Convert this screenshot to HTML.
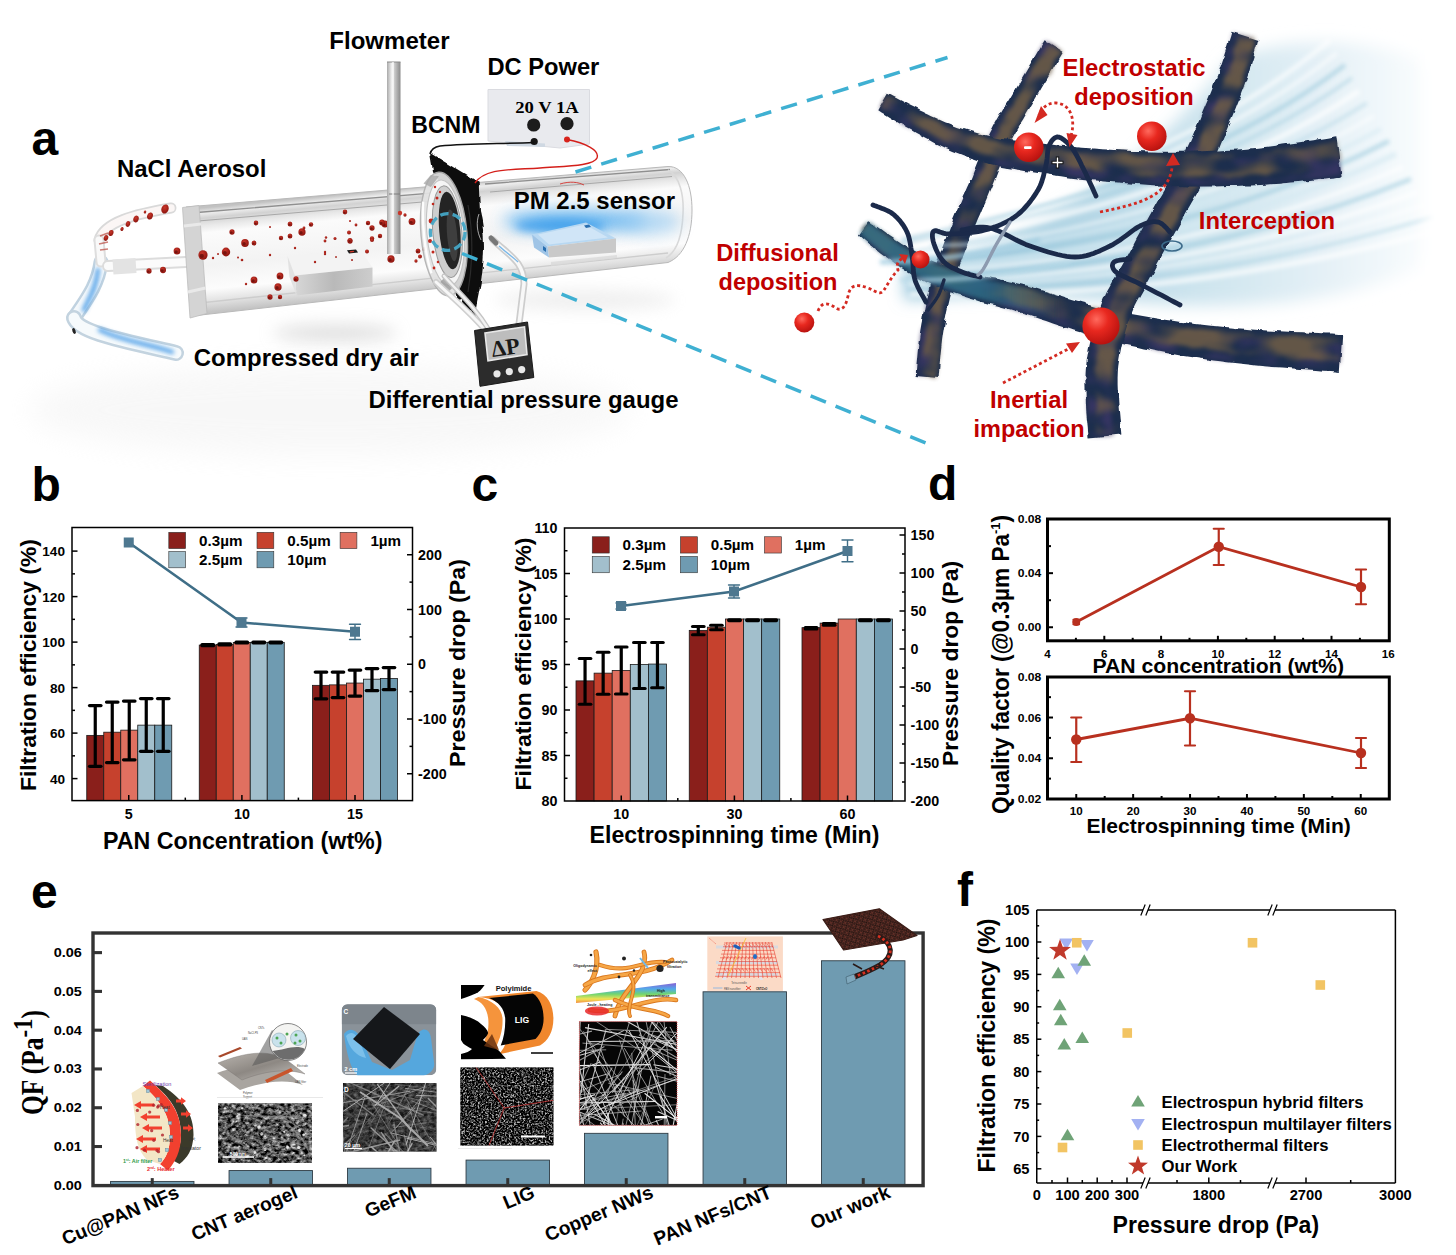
<!DOCTYPE html>
<html><head><meta charset="utf-8"><title>Figure</title>
<style>html,body{margin:0;padding:0;background:#fff}svg{display:block}</style></head>
<body>
<svg width="1456" height="1255" viewBox="0 0 1456 1255" font-family="'Liberation Sans', sans-serif" font-weight="bold">
<rect width="1456" height="1255" fill="#fff"/>
<g id="panel-a">
<defs>
<filter id="bl2" x="-50%" y="-150%" width="200%" height="400%"><feGaussianBlur stdDeviation="2"/></filter>
<filter id="bl4" x="-50%" y="-150%" width="200%" height="400%"><feGaussianBlur stdDeviation="4"/></filter>
<filter id="bl8" x="-50%" y="-150%" width="200%" height="400%"><feGaussianBlur stdDeviation="8"/></filter>
<filter id="bl14" x="-50%" y="-150%" width="200%" height="400%"><feGaussianBlur stdDeviation="14"/></filter>
<filter id="rough" x="-5%" y="-5%" width="110%" height="110%"><feTurbulence type="fractalNoise" baseFrequency="0.09" numOctaves="2" seed="4" result="t"/><feDisplacementMap in="SourceGraphic" in2="t" scale="5" xChannelSelector="R" yChannelSelector="G"/></filter>
<filter id="rough3" x="-5%" y="-5%" width="110%" height="110%" color-interpolation-filters="sRGB"><feTurbulence type="fractalNoise" baseFrequency="0.03 0.05" numOctaves="2" seed="41" result="m"/><feColorMatrix in="m" type="matrix" values="0 0 0 0 0  0 0 0 0 0  0 0 0 0 0  0 3.2 0 0 -1.25" result="a"/><feComposite in="SourceGraphic" in2="a" operator="in"/><feGaussianBlur stdDeviation="2"/></filter>
<filter id="rough2" x="-5%" y="-5%" width="110%" height="110%" color-interpolation-filters="sRGB"><feTurbulence type="fractalNoise" baseFrequency="0.045" numOctaves="2" seed="9" result="t"/><feDisplacementMap in="SourceGraphic" in2="t" scale="9" xChannelSelector="R" yChannelSelector="G" result="d"/><feTurbulence type="fractalNoise" baseFrequency="0.022 0.04" numOctaves="2" seed="23" result="m"/><feColorMatrix in="m" type="matrix" values="0 0 0 0 0  0 0 0 0 0  0 0 0 0 0  3.2 0 0 0 -0.95" result="a"/><feComposite in="d" in2="a" operator="in"/><feGaussianBlur stdDeviation="2.2"/></filter>
<linearGradient id="tubeG" gradientUnits="userSpaceOnUse" x1="430" y1="186" x2="440" y2="290"><stop offset="0" stop-color="#c2c2c2"/><stop offset="0.05" stop-color="#ededed"/><stop offset="0.1" stop-color="#d2d2d2"/><stop offset="0.17" stop-color="#e9e9e9"/><stop offset="0.24" stop-color="#fbfbfb"/><stop offset="0.55" stop-color="#f3f3f3"/><stop offset="0.78" stop-color="#fcfcfc"/><stop offset="0.9" stop-color="#e1e1e1"/><stop offset="1" stop-color="#c4c4c4"/></linearGradient>
<linearGradient id="rodG" x1="0" y1="0" x2="1" y2="0"><stop offset="0" stop-color="#a9a9a9"/><stop offset="0.35" stop-color="#f0f0f0"/><stop offset="0.6" stop-color="#c4c4c4"/><stop offset="1" stop-color="#8a8a8a"/></linearGradient>
<linearGradient id="boxF" x1="0" y1="0" x2="1" y2="0"><stop offset="0" stop-color="#d7d7d7"/><stop offset="0.5" stop-color="#b9b9b9"/><stop offset="1" stop-color="#cdcdcd"/></linearGradient>
<radialGradient id="ball" cx="0.38" cy="0.32" r="0.7"><stop offset="0" stop-color="#ff6a5e"/><stop offset="0.45" stop-color="#e8281f"/><stop offset="1" stop-color="#b8120f"/></radialGradient>
<radialGradient id="pball" cx="0.4" cy="0.35" r="0.7"><stop offset="0" stop-color="#c8362a"/><stop offset="1" stop-color="#8a130d"/></radialGradient>
<linearGradient id="tealG" gradientUnits="userSpaceOnUse" x1="864" y1="0" x2="1060" y2="0"><stop offset="0" stop-color="#2f6f8a"/><stop offset="0.6" stop-color="#2f6f8a"/><stop offset="1" stop-color="#2f6f8a" stop-opacity="0"/></linearGradient>
<linearGradient id="swG" gradientUnits="userSpaceOnUse" x1="900" y1="0" x2="1440" y2="0"><stop offset="0" stop-color="#8fc2da"/><stop offset="0.3" stop-color="#b0d4e4"/><stop offset="0.55" stop-color="#cde4ee"/><stop offset="0.78" stop-color="#e4f0f6"/><stop offset="0.95" stop-color="#f7fbfd"/><stop offset="1" stop-color="#ffffff"/></linearGradient>
</defs>
<ellipse cx="330" cy="410" rx="300" ry="45" fill="#ededed" opacity="0.4" filter="url(#bl14)"/>
<ellipse cx="335" cy="333" rx="62" ry="9" fill="#c4c4c4" opacity="0.5" filter="url(#bl8)"/>
<ellipse cx="585" cy="300" rx="90" ry="10" fill="#dcdcdc" opacity="0.45" filter="url(#bl8)"/>
<g fill="none" stroke-linecap="round">
<path d="M101 262 C98 285 86 300 74 318" stroke="#c0d2e0" stroke-width="15"/>
<path d="M101 262 C98 285 86 300 74 318" stroke="#f4f8fb" stroke-width="10"/>
<path d="M74 318 C78 332 120 340 176 353" stroke="#c3d3df" stroke-width="16"/>
<path d="M74 318 C78 332 120 340 176 353" stroke="#f6fafc" stroke-width="11"/>
<path d="M98 270 C96 290 88 300 84 310 M100 330 C125 342 150 344 172 352" stroke="#3f97e6" stroke-width="4.5" opacity="0.85" filter="url(#bl2)"/>
<path d="M99 240 C104 222 135 214 171 208" stroke="#d9d9d9" stroke-width="11"/>
<path d="M99 240 C104 222 135 214 171 208" stroke="#fbf6f5" stroke-width="7.5"/>
<path d="M101 262 L99 240" stroke="#dedede" stroke-width="11"/><path d="M101 262 L99 240" stroke="#f9f9f9" stroke-width="7"/>
<path d="M108 266 L186 262" stroke="#dcdcdc" stroke-width="12"/><path d="M108 266 L186 262" stroke="#fbfbfb" stroke-width="8"/>
<path d="M113 267 L136 265.5" stroke="#e3e3e3" stroke-width="15" stroke-linecap="butt"/>
</g>
<ellipse cx="74" cy="331" rx="1.6" ry="3" fill="#222" transform="rotate(-20 74 331)"/>
<path d="M186 207 L668 166.5 C684 166 692 186 692 210 C692 236 684 256 668 262.5 L192 316Z" fill="url(#tubeG)"/>
<path d="M186 207 L668 166.5 C684 166 692 186 692 210 C692 236 684 256 668 262.5 L192 316" fill="none" stroke="#b9b9b9" stroke-width="1"/>
<path d="M197 212.5 L440 192.3 M485 184 L670 169.5" stroke="#8f8f8f" stroke-width="1.3" fill="none"/><path d="M198 221 L440 200.5 M490 192 L672 176.5" stroke="#a8a8a8" stroke-width="1" fill="none"/>
<path d="M200 303 L668 253" stroke="#cdcdcd" stroke-width="1.4" fill="none"/>
<path d="M668 170 C680 176 684 196 683 214 C682 238 676 252 666 258" stroke="#d9d9d9" stroke-width="1.6" fill="none"/>
<path d="M182.5 207.5 L199 205.5 L207 313.5 L190 318Z" fill="#d4d4d4"/>
<path d="M182.5 207.5 L199 205.5 L207 313.5 L190 318Z" fill="none" stroke="#bdbdbd" stroke-width="0.8"/>
<path d="M184 226 L201 224 M188 292 L205.5 288" stroke="#e9e9e9" stroke-width="3"/>
<path d="M287.5 256 L360 249.5 L372.5 267.5 L295 275.5Z" fill="#f3f3f3"/>
<path d="M295 275.5 L372.5 267.5 L372.5 286.5 L296.5 295.5Z" fill="url(#boxF)"/>
<path d="M287.5 256 L295 275.5 L296.5 295.5 L289.5 277Z" fill="#e2e2e2"/>
<path d="M347 250.2 l9 -0.8 2 3.2 -9 0.9z" fill="#1b1b1b"/><path d="M349.5 251.2 l4 -0.4 0.8 1.3 -4 0.4z" fill="#d23a2a"/>
<ellipse cx="256" cy="223" rx="2.3" ry="2.42" fill="url(#pball)"/>
<circle cx="255.4" cy="223.5" r="1.0" fill="#5e0c08" opacity="0.7"/>
<ellipse cx="232" cy="232" rx="2.6" ry="2.73" fill="url(#pball)"/>
<circle cx="231.3" cy="232.5" r="1.2" fill="#5e0c08" opacity="0.7"/>
<ellipse cx="290" cy="224" rx="2.4" ry="2.52" fill="url(#pball)"/>
<circle cx="289.4" cy="224.5" r="1.1" fill="#5e0c08" opacity="0.7"/>
<ellipse cx="302" cy="232" rx="3.6" ry="3.78" fill="url(#pball)"/>
<circle cx="301.1" cy="232.7" r="1.6" fill="#5e0c08" opacity="0.7"/>
<ellipse cx="281" cy="238" rx="2.2" ry="2.31" fill="url(#pball)"/>
<circle cx="280.4" cy="238.4" r="1.0" fill="#5e0c08" opacity="0.7"/>
<ellipse cx="290" cy="236" rx="2.4" ry="2.52" fill="url(#pball)"/>
<circle cx="289.4" cy="236.5" r="1.1" fill="#5e0c08" opacity="0.7"/>
<ellipse cx="245" cy="243" rx="3.8" ry="3.99" fill="url(#pball)"/>
<circle cx="244.1" cy="243.8" r="1.7" fill="#5e0c08" opacity="0.7"/>
<ellipse cx="254" cy="243" rx="2.4" ry="2.52" fill="url(#pball)"/>
<circle cx="253.4" cy="243.5" r="1.1" fill="#5e0c08" opacity="0.7"/>
<ellipse cx="226" cy="252" rx="4.2" ry="4.41" fill="url(#pball)"/>
<circle cx="224.9" cy="252.8" r="1.9" fill="#5e0c08" opacity="0.7"/>
<ellipse cx="203" cy="255" rx="4.6" ry="4.83" fill="url(#pball)"/>
<circle cx="201.8" cy="255.9" r="2.1" fill="#5e0c08" opacity="0.7"/>
<ellipse cx="280" cy="276" rx="3.4" ry="3.57" fill="url(#pball)"/>
<circle cx="279.1" cy="276.7" r="1.5" fill="#5e0c08" opacity="0.7"/>
<ellipse cx="254" cy="280" rx="3.4" ry="3.57" fill="url(#pball)"/>
<circle cx="253.2" cy="280.7" r="1.5" fill="#5e0c08" opacity="0.7"/>
<ellipse cx="278" cy="287" rx="3.6" ry="3.78" fill="url(#pball)"/>
<circle cx="277.1" cy="287.7" r="1.6" fill="#5e0c08" opacity="0.7"/>
<ellipse cx="296" cy="279" rx="2.6" ry="2.73" fill="url(#pball)"/>
<circle cx="295.4" cy="279.5" r="1.2" fill="#5e0c08" opacity="0.7"/>
<ellipse cx="350" cy="241" rx="2.6" ry="2.73" fill="url(#pball)"/>
<circle cx="349.4" cy="241.5" r="1.2" fill="#5e0c08" opacity="0.7"/>
<ellipse cx="372" cy="238.5" rx="2.2" ry="2.31" fill="url(#pball)"/>
<circle cx="371.4" cy="238.9" r="1.0" fill="#5e0c08" opacity="0.7"/>
<ellipse cx="368" cy="223" rx="2.2" ry="2.31" fill="url(#pball)"/>
<circle cx="367.4" cy="223.4" r="1.0" fill="#5e0c08" opacity="0.7"/>
<ellipse cx="385" cy="224" rx="3.4" ry="3.57" fill="url(#pball)"/>
<circle cx="384.1" cy="224.7" r="1.5" fill="#5e0c08" opacity="0.7"/>
<ellipse cx="380" cy="236" rx="2.2" ry="2.31" fill="url(#pball)"/>
<circle cx="379.4" cy="236.4" r="1.0" fill="#5e0c08" opacity="0.7"/>
<ellipse cx="345" cy="212" rx="2.3" ry="2.42" fill="url(#pball)"/>
<circle cx="344.4" cy="212.5" r="1.0" fill="#5e0c08" opacity="0.7"/>
<ellipse cx="356" cy="225" rx="1.4" ry="1.47" fill="url(#pball)"/>
<ellipse cx="326" cy="237.5" rx="1.2" ry="1.26" fill="url(#pball)"/>
<ellipse cx="242" cy="260" rx="1.3" ry="1.37" fill="url(#pball)"/>
<ellipse cx="270" cy="255" rx="1.2" ry="1.26" fill="url(#pball)"/>
<ellipse cx="295" cy="248" rx="1.2" ry="1.26" fill="url(#pball)"/>
<ellipse cx="315" cy="262" rx="1.2" ry="1.26" fill="url(#pball)"/>
<ellipse cx="325" cy="254" rx="1.2" ry="1.26" fill="url(#pball)"/>
<ellipse cx="335" cy="238.5" rx="1.5" ry="1.58" fill="url(#pball)"/>
<ellipse cx="350" cy="221" rx="1" ry="1.05" fill="url(#pball)"/>
<ellipse cx="270" cy="227" rx="1" ry="1.05" fill="url(#pball)"/>
<ellipse cx="238" cy="257.5" rx="1" ry="1.05" fill="url(#pball)"/>
<ellipse cx="246" cy="284" rx="1.2" ry="1.26" fill="url(#pball)"/>
<ellipse cx="177" cy="251" rx="3.4" ry="3.57" fill="url(#pball)"/>
<circle cx="176.2" cy="251.7" r="1.5" fill="#5e0c08" opacity="0.7"/>
<ellipse cx="163" cy="270" rx="3" ry="3.15" fill="url(#pball)"/>
<circle cx="162.2" cy="270.6" r="1.4" fill="#5e0c08" opacity="0.7"/>
<ellipse cx="149" cy="271" rx="2.6" ry="2.73" fill="url(#pball)"/>
<circle cx="148.3" cy="271.5" r="1.2" fill="#5e0c08" opacity="0.7"/>
<ellipse cx="270" cy="297" rx="2.6" ry="2.73" fill="url(#pball)"/>
<circle cx="269.4" cy="297.5" r="1.2" fill="#5e0c08" opacity="0.7"/>
<ellipse cx="280" cy="297" rx="2.2" ry="2.31" fill="url(#pball)"/>
<circle cx="279.4" cy="297.4" r="1.0" fill="#5e0c08" opacity="0.7"/>
<ellipse cx="213" cy="258" rx="1.2" ry="1.26" fill="url(#pball)"/>
<ellipse cx="218" cy="254" rx="1" ry="1.05" fill="url(#pball)"/>
<ellipse cx="311" cy="224.5" rx="2.2" ry="2.31" fill="url(#pball)"/>
<circle cx="310.4" cy="224.9" r="1.0" fill="#5e0c08" opacity="0.7"/>
<ellipse cx="304" cy="228" rx="1.4" ry="1.47" fill="url(#pball)"/>
<ellipse cx="349" cy="232.5" rx="2" ry="2.10" fill="url(#pball)"/>
<ellipse cx="372" cy="228" rx="2.6" ry="2.73" fill="url(#pball)"/>
<circle cx="371.4" cy="228.5" r="1.2" fill="#5e0c08" opacity="0.7"/>
<ellipse cx="382" cy="222.5" rx="2.8" ry="2.94" fill="url(#pball)"/>
<circle cx="381.3" cy="223.1" r="1.3" fill="#5e0c08" opacity="0.7"/>
<ellipse cx="412" cy="221.5" rx="3.4" ry="3.57" fill="url(#pball)"/>
<circle cx="411.1" cy="222.2" r="1.5" fill="#5e0c08" opacity="0.7"/>
<ellipse cx="405" cy="215" rx="1.6" ry="1.68" fill="url(#pball)"/>
<ellipse cx="372" cy="240" rx="2" ry="2.10" fill="url(#pball)"/>
<ellipse cx="350" cy="240.5" rx="2.4" ry="2.52" fill="url(#pball)"/>
<circle cx="349.4" cy="241.0" r="1.1" fill="#5e0c08" opacity="0.7"/>
<ellipse cx="367" cy="251.5" rx="2" ry="2.10" fill="url(#pball)"/>
<ellipse cx="325" cy="241" rx="1.4" ry="1.47" fill="url(#pball)"/>
<ellipse cx="325" cy="252" rx="1.2" ry="1.26" fill="url(#pball)"/>
<ellipse cx="336" cy="257" rx="0.9" ry="0.95" fill="url(#pball)"/>
<ellipse cx="352" cy="260" rx="1" ry="1.05" fill="url(#pball)"/>
<ellipse cx="391" cy="259" rx="3.6" ry="3.78" fill="url(#pball)"/>
<circle cx="390.1" cy="259.7" r="1.6" fill="#5e0c08" opacity="0.7"/>
<ellipse cx="418" cy="251" rx="2.4" ry="2.52" fill="url(#pball)"/>
<circle cx="417.4" cy="251.5" r="1.1" fill="#5e0c08" opacity="0.7"/>
<ellipse cx="420" cy="256.5" rx="2" ry="2.10" fill="url(#pball)"/>
<ellipse cx="416" cy="261" rx="1.6" ry="1.68" fill="url(#pball)"/>
<ellipse cx="428" cy="222" rx="2.6" ry="2.73" fill="url(#pball)"/>
<circle cx="427.4" cy="222.5" r="1.2" fill="#5e0c08" opacity="0.7"/>
<ellipse cx="431" cy="241" rx="2.4" ry="2.52" fill="url(#pball)"/>
<circle cx="430.4" cy="241.5" r="1.1" fill="#5e0c08" opacity="0.7"/>
<ellipse cx="424" cy="249" rx="1.8" ry="1.89" fill="url(#pball)"/>
<ellipse cx="392" cy="216" rx="2.2" ry="2.31" fill="url(#pball)"/>
<circle cx="391.4" cy="216.4" r="1.0" fill="#5e0c08" opacity="0.7"/>
<ellipse cx="399" cy="214" rx="2" ry="2.10" fill="url(#pball)"/>
<ellipse cx="165" cy="209" rx="3.6" ry="4.7" fill="url(#pball)" transform="rotate(20 165 209)"/>
<ellipse cx="150" cy="216" rx="2.8" ry="3.6" fill="url(#pball)" transform="rotate(20 150 216)"/>
<ellipse cx="136" cy="219" rx="2.6" ry="3.4" fill="url(#pball)" transform="rotate(20 136 219)"/>
<ellipse cx="128" cy="224" rx="2.2" ry="2.9" fill="url(#pball)" transform="rotate(20 128 224)"/>
<ellipse cx="122" cy="229" rx="1.6" ry="2.1" fill="url(#pball)" transform="rotate(20 122 229)"/>
<ellipse cx="111" cy="233" rx="2.4" ry="3.1" fill="url(#pball)" transform="rotate(20 111 233)"/>
<ellipse cx="106" cy="238" rx="2.2" ry="2.9" fill="url(#pball)" transform="rotate(20 106 238)"/>
<ellipse cx="145" cy="212" rx="1.2" ry="1.6" fill="url(#pball)" transform="rotate(20 145 212)"/>
<path d="M100 236 l8 -3 M99 244 l9 -2 M100 250 l8 -1" stroke="#b84a40" stroke-width="1.6" opacity="0.7"/>
<rect x="387.00" y="62.00" width="13.50" height="192.00" fill="url(#rodG)"/>
<path d="M387 62h13.5" stroke="#8a8a8a" stroke-width="1"/><path d="M389 194h11" stroke="#7d7d7d" stroke-width="1"/>
<path d="M393 62V254" stroke="#fff" stroke-width="1.6" opacity="0.8"/>
<circle cx="400" cy="213" r="2.2" fill="#c8362a"/>
<path d="M430 153 L478.7 182.7 L480 212 C486 235 485 265 478.5 294 L474 318 L470 309 L466 311 L462 300 L458 301 L455 292 L452 250 L447 196 L433 171Z" fill="#0b0b0b" filter="url(#rough)"/>
<path d="M468 205 C473 232 473 262 468 292" stroke="#2b2b2b" stroke-width="1.2" fill="none"/>
<path d="M479 214 C476 222 477 232 481 240" stroke="#e9e9e9" stroke-width="1" fill="none" opacity="0.7"/>
<g transform="rotate(-5 444 234)">
<ellipse cx="444" cy="234" rx="23" ry="62" fill="#e3e3e3" stroke="#b1b1b1" stroke-width="1.4" opacity="0.93"/>
<ellipse cx="445.5" cy="233" rx="18.5" ry="53" fill="#f7f7f7" stroke="#c2c2c2" stroke-width="1.1" opacity="0.95"/>
<ellipse cx="447.5" cy="232" rx="14.5" ry="46" fill="#cfcfcf" stroke="#9a9a9a" stroke-width="1"/>
<ellipse cx="450" cy="231" rx="10.5" ry="39" fill="#242424"/>
<ellipse cx="452" cy="236" rx="5" ry="26" fill="#4a4a4a" opacity="0.7"/>
<path d="M426 200 C423 220 423 250 428 272" stroke="#fff" stroke-width="2.4" fill="none" opacity="0.9"/>
<path d="M432 285 l10 8 6 -5 -8 -10z" fill="#9a9a9a" opacity="0.8"/><path d="M428 182 l8 -8 8 2 -9 10z" fill="#a8a8a8" opacity="0.8"/>
</g>
<circle cx="431" cy="221" r="2.4" fill="#c0281e"/>
<circle cx="430" cy="241" r="2" fill="#c0281e"/>
<circle cx="433" cy="252" r="1.5" fill="#c0281e"/>
<circle cx="435" cy="187" r="1.2" fill="#c0281e"/>
<circle cx="437" cy="198" r="1.5" fill="#c0281e"/>
<circle cx="433" cy="204" r="1.3" fill="#c0281e"/>
<circle cx="438" cy="262" r="1.3" fill="#c0281e"/>
<circle cx="434" cy="268" r="1.4" fill="#c0281e"/>
<circle cx="440" cy="192" r="1.2" fill="#c0281e"/>
<ellipse cx="447.7" cy="232" rx="17.4" ry="18.4" fill="none" stroke="#45a6c6" stroke-width="3.3" stroke-dasharray="8.5 4.2" opacity="0.95"/>
<g fill="none" stroke-linecap="round"><path d="M436 282 C455 300 470 312 486 331" stroke="#cfcfcf" stroke-width="6"/><path d="M436 282 C455 300 470 312 486 331" stroke="#f7f7f7" stroke-width="3"/>
<path d="M444 276 C462 296 474 306 489 330" stroke="#c4c4c4" stroke-width="5"/><path d="M444 276 C462 296 474 306 489 330" stroke="#f2f2f2" stroke-width="2.4"/>
<path d="M493 240 C510 256 524 262 524 284 L519 324" stroke="#cdcdcd" stroke-width="7"/><path d="M493 240 C510 256 524 262 524 284 L519 324" stroke="#f8f8f8" stroke-width="3.6"/></g>
<path d="M491 238 l5 5" stroke="#777" stroke-width="5" stroke-linecap="round"/><path d="M499 246 C508 254 514 258 518 262" stroke="#5aa8e4" stroke-width="1.4" fill="none" opacity="0.8"/>
<ellipse cx="575" cy="221" rx="72" ry="11" fill="#55aef0" opacity="0.85" filter="url(#bl8)"/>
<ellipse cx="560" cy="226" rx="45" ry="7" fill="#2f96ea" opacity="0.7" filter="url(#bl4)"/>
<ellipse cx="650" cy="222" rx="30" ry="12" fill="#8cc8f4" opacity="0.6" filter="url(#bl8)"/>
<path d="M532 234.5 L586 222.5 L616 238.5 L547.5 246.5Z" fill="#b8d8f2"/>
<path d="M538 234.5 L585 224.5 L608 237.5 L549 244.5Z" fill="#d6e9f8" opacity="0.8"/>
<path d="M547.5 246.5 L616 238.5 L616 252.5 L549 257.5Z" fill="#c9c9c9"/>
<path d="M532 234.5 L547.5 246.5 L549 257.5 L534 247.5Z" fill="#9fc4e6"/>
<path d="M584 225.5 l5 -1 2 2.4 -5 1z M543 246 l3 2 0 4 -3 -2z" fill="#2a6fb0"/>
<path d="M551 262 L617 255 L617 258 L551 266Z" fill="#d9d9d9" opacity="0.8"/>
<path d="M488 89.5 L589.5 89.5 L589.5 144 L560 148 L488 141Z" fill="#e9eaee"/>
<path d="M488 89.5 L589.5 89.5 L589.5 144 L560 148 L488 141Z" fill="none" stroke="#dadbe0" stroke-width="1"/>
<path d="M505 141 L545 143.5 L545 147 L507 146Z" fill="#cfd8e2"/>
<text x="547.00" y="113.00" font-size="16.5" text-anchor="middle" textLength="63.5" lengthAdjust="spacingAndGlyphs" font-family="'Liberation Serif', serif">20 V 1A</text>
<circle cx="533.7" cy="125" r="6.6" fill="#1c1c1c"/><circle cx="567" cy="123.7" r="6.6" fill="#1c1c1c"/>
<circle cx="534.2" cy="141.5" r="3.6" fill="#161616"/><circle cx="567" cy="139.5" r="3" fill="#d8241c"/>
<path d="M534 142.5 C500 144 470 143 440 146 C433 147 431 150 430 154" fill="none" stroke="#111" stroke-width="1.6"/>
<path d="M567 139.5 C585 143 600 150 597 158 C594 166 565 166 540 168 C510 170 485 168 475 183" fill="none" stroke="#d41f1a" stroke-width="1.4"/>
<path d="M560 184 C570 181 578 182 584 185" fill="none" stroke="#d41f1a" stroke-width="0.8"/>
<path d="M474.5 330.5 L527.5 322 L533.8 377.5 L480 386.3Z" fill="#2c2c2c" stroke="#1a1a1a" stroke-width="1" stroke-linejoin="round"/>
<path d="M485 333 L524.5 326.8 L527 354.5 L488 360.8Z" fill="#bdbdbd" stroke="#e8e8e8" stroke-width="1.6"/>
<text transform="translate(506.5 355) rotate(-8)" font-family="'Liberation Serif', serif" font-size="23" text-anchor="middle" fill="#1a1a1a">ΔP</text>
<circle cx="497" cy="373.8" r="3.6" fill="#e9e9e9"/><circle cx="509.3" cy="371.6" r="3.6" fill="#e9e9e9"/><circle cx="521.7" cy="369.6" r="3.6" fill="#e9e9e9"/>
<path d="M575.5 172 L947.5 57.5" stroke="#3fb0d2" stroke-width="3.5" stroke-dasharray="16.5 10.4" fill="none"/>
<path d="M462 253.5 L926 443" stroke="#3fb0d2" stroke-width="3.5" stroke-dasharray="16.5 10.4" fill="none"/>
<text x="31.50" y="155.00" font-size="48">a</text>
<text x="117.00" y="177.30" font-size="24" textLength="149.3" lengthAdjust="spacingAndGlyphs">NaCl Aerosol</text>
<text x="329.30" y="48.80" font-size="24" textLength="120.2" lengthAdjust="spacingAndGlyphs">Flowmeter</text>
<text x="487.50" y="74.50" font-size="24" textLength="111.8" lengthAdjust="spacingAndGlyphs">DC Power</text>
<text x="411.30" y="133.00" font-size="24" textLength="69.2" lengthAdjust="spacingAndGlyphs">BCNM</text>
<text x="513.70" y="208.80" font-size="24" textLength="161.3" lengthAdjust="spacingAndGlyphs">PM 2.5 sensor</text>
<text x="193.80" y="365.80" font-size="24" textLength="225.0" lengthAdjust="spacingAndGlyphs">Compressed dry air</text>
<text x="368.50" y="408.30" font-size="24" textLength="310.0" lengthAdjust="spacingAndGlyphs">Differential pressure gauge</text>
<g id="fibers">
<path d="M905 268 C1000 250 1120 200 1230 60 C1300 30 1400 40 1446 75 L1446 250 C1380 300 1250 315 1120 300 C1040 292 960 292 905 300Z" fill="url(#swG)" opacity="1" filter="url(#bl8)"/>
<g fill="none" filter="url(#bl2)">
<path d="M900 232 C1050 190 1200 150 1330 40" stroke="#ffffff" stroke-width="4.4" opacity="0.7"/>
<path d="M901 236 C1054 197 1206 158 1337 53" stroke="#ffffff" stroke-width="3.5" opacity="0.7"/>
<path d="M901 240 C1058 205 1212 166 1345 65" stroke="#9ccadd" stroke-width="3.9" opacity="0.7"/>
<path d="M902 244 C1062 212 1218 174 1352 78" stroke="#9ccadd" stroke-width="2.3" opacity="0.7"/>
<path d="M903 249 C1066 219 1224 182 1359 91" stroke="#ffffff" stroke-width="5.6" opacity="0.7"/>
<path d="M903 253 C1070 227 1230 190 1367 103" stroke="#b5d7e6" stroke-width="3.0" opacity="0.7"/>
<path d="M904 257 C1074 234 1236 198 1374 116" stroke="#ffffff" stroke-width="2.8" opacity="0.7"/>
<path d="M905 261 C1078 241 1242 206 1381 129" stroke="#d6eaf2" stroke-width="3.9" opacity="0.7"/>
<path d="M905 265 C1082 249 1248 214 1389 141" stroke="#9ccadd" stroke-width="3.9" opacity="0.7"/>
<path d="M906 269 C1086 256 1254 222 1396 154" stroke="#d6eaf2" stroke-width="5.4" opacity="0.7"/>
<path d="M907 273 C1090 263 1260 230 1403 167" stroke="#ffffff" stroke-width="4.5" opacity="0.7"/>
<path d="M907 277 C1094 271 1266 238 1411 179" stroke="#9ccadd" stroke-width="3.6" opacity="0.7"/>
<path d="M908 282 C1098 278 1272 246 1418 192" stroke="#ffffff" stroke-width="4.7" opacity="0.7"/>
<path d="M909 286 C1102 285 1278 254 1425 205" stroke="#ffffff" stroke-width="2.6" opacity="0.7"/>
<path d="M909 290 C1106 293 1284 262 1433 217" stroke="#9ccadd" stroke-width="2.2" opacity="0.7"/>
<path d="M910 294 C1110 300 1290 270 1440 230" stroke="#ffffff" stroke-width="5.3" opacity="0.7"/>
</g>
<rect x="1425" y="0" width="60" height="360" fill="#fff" filter="url(#bl8)"/>
<g filter="url(#rough)"><path d="M1044.6 40.3 L1043.1 42.8 L1041.2 45.8 L1039.0 49.5 L1036.6 53.6 L1033.9 58.0 L1031.0 62.7 L1028.1 67.5 L1025.2 72.4 L1022.3 77.2 L1019.5 81.9 L1016.9 86.3 L1014.5 90.4 L1012.3 94.1 L1010.1 97.7 L1008.0 101.2 L1005.9 104.6 L1003.9 108.0 L1001.9 111.4 L999.9 114.8 L997.9 118.2 L995.9 121.8 L993.9 125.4 L992.0 129.2 L990.0 133.1 L988.0 137.2 L986.1 141.4 L984.2 145.7 L982.3 150.1 L980.5 154.5 L978.7 158.9 L976.9 163.3 L975.2 167.6 L973.5 171.8 L971.9 175.9 L970.2 179.9 L968.7 183.7 L967.1 187.2 L965.7 190.6 L964.2 193.9 L962.8 197.1 L961.4 200.3 L960.1 203.4 L958.7 206.5 L957.3 209.7 L955.9 213.0 L954.5 216.5 L953.0 220.1 L951.5 223.9 L950.0 227.8 L948.3 231.9 L946.7 236.1 L945.0 240.4 L943.3 244.9 L941.5 249.4 L939.8 254.0 L938.1 258.6 L936.5 263.2 L935.0 267.7 L933.5 272.3 L932.1 276.8 L930.8 281.2 L929.6 285.6 L928.5 289.9 L927.4 294.3 L926.4 298.6 L925.5 302.9 L924.6 307.2 L923.7 311.4 L922.9 315.7 L922.2 319.9 L921.4 324.0 L920.7 328.2 L920.0 332.5 L919.4 337.1 L918.8 341.7 L918.3 346.4 L917.8 351.0 L917.4 355.6 L917.0 359.9 L916.6 363.9 L916.3 367.6 L916.0 370.9 L915.8 373.7 L915.6 375.9 L938.4 378.1 L938.7 375.8 L938.9 372.9 L939.2 369.6 L939.5 365.9 L939.9 361.9 L940.2 357.7 L940.6 353.3 L941.1 348.8 L941.6 344.4 L942.1 340.0 L942.7 335.8 L943.3 331.8 L943.9 327.9 L944.6 323.9 L945.4 319.8 L946.1 315.8 L946.9 311.8 L947.8 307.7 L948.7 303.6 L949.6 299.6 L950.6 295.5 L951.6 291.4 L952.7 287.3 L953.9 283.2 L955.1 279.1 L956.5 274.9 L958.0 270.6 L959.5 266.2 L961.1 261.8 L962.7 257.4 L964.4 253.0 L966.1 248.6 L967.7 244.3 L969.4 240.1 L971.0 236.1 L972.5 232.1 L973.9 228.5 L975.3 225.0 L976.7 221.7 L978.0 218.6 L979.4 215.5 L980.7 212.4 L982.0 209.3 L983.4 206.1 L984.8 202.9 L986.3 199.6 L987.8 196.1 L989.3 192.3 L991.0 188.4 L992.6 184.4 L994.3 180.2 L996.0 175.9 L997.7 171.6 L999.4 167.3 L1001.2 163.0 L1002.9 158.8 L1004.7 154.6 L1006.5 150.5 L1008.2 146.6 L1010.0 142.9 L1011.8 139.3 L1013.6 135.8 L1015.4 132.5 L1017.2 129.2 L1019.1 125.9 L1021.0 122.6 L1023.0 119.4 L1025.0 116.0 L1027.0 112.6 L1029.1 109.1 L1031.3 105.4 L1033.5 101.6 L1035.9 97.6 L1038.5 93.2 L1041.3 88.6 L1044.1 83.8 L1047.1 78.9 L1050.0 74.1 L1052.8 69.4 L1055.4 65.0 L1057.9 60.9 L1060.1 57.2 L1062.0 54.1 L1063.4 51.7Z" fill="#1d2f4d"/></g>
<g filter="url(#rough3)" opacity="0.8"><path d="M1045.5 40.9 L1044.0 43.3 L1042.2 46.4 L1040.0 50.0 L1037.5 54.1 L1034.8 58.6 L1032.0 63.2 L1029.1 68.1 L1026.1 73.0 L1023.2 77.8 L1020.4 82.5 L1017.8 86.9 L1015.4 90.9 L1013.2 94.7 L1011.1 98.2 L1009.0 101.7 L1006.9 105.1 L1004.8 108.5 L1002.8 111.9 L1000.8 115.3 L998.8 118.8 L996.9 122.3 L994.9 125.9 L992.9 129.7 L991.0 133.6 L989.0 137.7 L987.1 141.9 L985.2 146.2 L983.4 150.6 L981.5 155.0 L979.7 159.4 L978.0 163.7 L976.2 168.0 L974.5 172.3 L972.9 176.4 L971.3 180.3 L969.7 184.1 L968.2 187.7 L966.7 191.1 L965.3 194.4 L963.8 197.6 L962.5 200.7 L961.1 203.8 L959.7 207.0 L958.3 210.2 L956.9 213.5 L955.5 216.9 L954.1 220.5 L952.6 224.3 L951.0 228.2 L949.4 232.3 L947.7 236.5 L946.0 240.8 L944.3 245.3 L942.6 249.8 L940.9 254.3 L939.2 258.9 L937.6 263.5 L936.0 268.1 L934.6 272.6 L933.2 277.1 L931.9 281.5 L930.7 285.9 L929.6 290.2 L928.6 294.6 L927.5 298.9 L926.6 303.2 L925.7 307.4 L924.9 311.7 L924.0 315.9 L923.3 320.1 L922.5 324.2 L921.8 328.4 L921.2 332.7 L920.5 337.2 L920.0 341.9 L919.5 346.5 L919.0 351.2 L918.5 355.7 L918.1 360.0 L917.8 364.0 L917.5 367.7 L917.2 371.0 L916.9 373.8 L916.7 376.0 L932.7 377.6 L932.9 375.3 L933.2 372.4 L933.5 369.1 L933.8 365.4 L934.1 361.4 L934.5 357.2 L934.9 352.7 L935.4 348.2 L935.9 343.7 L936.4 339.3 L937.0 335.0 L937.6 330.9 L938.3 326.9 L939.0 322.9 L939.7 318.8 L940.5 314.7 L941.3 310.6 L942.2 306.5 L943.1 302.4 L944.1 298.2 L945.1 294.1 L946.1 289.9 L947.3 285.8 L948.4 281.6 L949.7 277.4 L951.1 273.1 L952.6 268.7 L954.2 264.3 L955.8 259.8 L957.4 255.4 L959.1 250.9 L960.8 246.6 L962.5 242.3 L964.1 238.1 L965.7 234.0 L967.2 230.1 L968.7 226.4 L970.1 222.9 L971.5 219.6 L972.8 216.4 L974.2 213.2 L975.5 210.1 L976.9 207.0 L978.3 203.9 L979.7 200.7 L981.1 197.3 L982.6 193.9 L984.2 190.2 L985.8 186.3 L987.4 182.3 L989.1 178.1 L990.8 173.9 L992.5 169.6 L994.2 165.2 L996.0 160.9 L997.8 156.6 L999.6 152.4 L1001.4 148.3 L1003.2 144.3 L1005.0 140.4 L1006.8 136.8 L1008.7 133.2 L1010.5 129.8 L1012.4 126.4 L1014.3 123.1 L1016.2 119.8 L1018.2 116.5 L1020.2 113.2 L1022.3 109.7 L1024.4 106.2 L1026.5 102.6 L1028.8 98.8 L1031.1 94.8 L1033.8 90.4 L1036.5 85.7 L1039.4 80.9 L1042.3 76.0 L1045.2 71.2 L1048.0 66.5 L1050.7 62.1 L1053.2 58.0 L1055.4 54.4 L1057.2 51.3 L1058.7 48.8Z" fill="#3d3768"/></g>
<g filter="url(#rough2)" opacity="0.9"><path d="M1049.9 43.5 L1048.4 45.9 L1046.5 49.0 L1044.3 52.7 L1041.8 56.8 L1039.2 61.2 L1036.3 65.9 L1033.4 70.7 L1030.5 75.6 L1027.6 80.4 L1024.8 85.1 L1022.2 89.5 L1019.8 93.5 L1017.6 97.3 L1015.4 100.9 L1013.3 104.4 L1011.3 107.8 L1009.2 111.2 L1007.2 114.5 L1005.3 117.9 L1003.3 121.3 L1001.4 124.8 L999.4 128.3 L997.5 132.0 L995.6 135.9 L993.7 139.8 L991.8 144.0 L989.9 148.2 L988.1 152.5 L986.3 156.9 L984.5 161.3 L982.7 165.6 L981.0 170.0 L979.3 174.2 L977.7 178.3 L976.0 182.3 L974.5 186.1 L972.9 189.7 L971.4 193.1 L970.0 196.4 L968.6 199.6 L967.2 202.8 L965.8 205.9 L964.5 209.0 L963.1 212.2 L961.7 215.5 L960.3 218.9 L958.9 222.4 L957.4 226.2 L955.8 230.1 L954.2 234.2 L952.6 238.4 L950.9 242.7 L949.2 247.1 L947.5 251.6 L945.8 256.1 L944.1 260.7 L942.5 265.2 L941.0 269.7 L939.5 274.2 L938.2 278.6 L937.0 282.9 L935.8 287.2 L934.7 291.5 L933.6 295.8 L932.7 300.0 L931.7 304.3 L930.8 308.5 L930.0 312.7 L929.2 316.8 L928.4 321.0 L927.7 325.1 L927.0 329.2 L926.4 333.5 L925.8 337.9 L925.2 342.5 L924.7 347.1 L924.2 351.7 L923.8 356.2 L923.4 360.5 L923.0 364.5 L922.7 368.2 L922.4 371.5 L922.2 374.3 L922.0 376.5 L935.7 377.9 L935.9 375.6 L936.2 372.7 L936.5 369.4 L936.8 365.7 L937.1 361.7 L937.5 357.4 L937.9 353.0 L938.4 348.6 L938.9 344.1 L939.4 339.7 L940.0 335.4 L940.6 331.4 L941.2 327.4 L941.9 323.4 L942.7 319.3 L943.4 315.3 L944.2 311.2 L945.1 307.1 L946.0 303.0 L946.9 298.9 L947.9 294.8 L949.0 290.7 L950.1 286.6 L951.3 282.4 L952.5 278.3 L953.9 274.0 L955.4 269.7 L956.9 265.3 L958.5 260.8 L960.2 256.4 L961.9 252.0 L963.5 247.6 L965.2 243.3 L966.8 239.1 L968.4 235.1 L970.0 231.1 L971.4 227.5 L972.8 224.0 L974.2 220.7 L975.5 217.5 L976.9 214.4 L978.2 211.3 L979.6 208.2 L980.9 205.1 L982.3 201.8 L983.8 198.5 L985.3 195.0 L986.9 191.3 L988.5 187.4 L990.1 183.3 L991.8 179.2 L993.5 174.9 L995.2 170.6 L996.9 166.3 L998.7 162.0 L1000.5 157.7 L1002.2 153.5 L1004.0 149.4 L1005.8 145.5 L1007.6 141.7 L1009.4 138.1 L1011.2 134.6 L1013.1 131.2 L1014.9 127.9 L1016.8 124.6 L1018.7 121.3 L1020.7 118.0 L1022.7 114.6 L1024.7 111.2 L1026.8 107.7 L1029.0 104.1 L1031.2 100.3 L1033.6 96.2 L1036.2 91.9 L1039.0 87.2 L1041.9 82.4 L1044.8 77.5 L1047.7 72.7 L1050.5 68.0 L1053.2 63.6 L1055.6 59.5 L1057.8 55.9 L1059.7 52.8 L1061.2 50.3Z" fill="#6b5b47"/></g>
<g filter="url(#rough)"><path d="M858.9 234.8 L860.3 236.0 L862.1 237.5 L864.3 239.4 L866.7 241.4 L869.4 243.7 L872.3 246.0 L875.3 248.4 L878.4 250.9 L881.5 253.4 L884.6 255.7 L887.6 258.0 L890.5 260.1 L893.2 262.1 L895.9 264.0 L898.5 265.9 L901.2 267.8 L903.9 269.6 L906.7 271.5 L909.6 273.3 L912.5 275.2 L915.6 277.0 L918.8 278.7 L922.1 280.5 L925.5 282.2 L929.1 283.8 L932.8 285.4 L936.5 286.9 L940.4 288.4 L944.3 289.9 L948.2 291.3 L952.2 292.6 L956.1 294.0 L960.0 295.3 L963.9 296.5 L967.8 297.7 L971.6 299.0 L975.4 300.1 L979.0 301.2 L982.6 302.2 L986.0 303.0 L989.3 303.9 L992.6 304.7 L996.0 305.6 L999.6 306.5 L1003.3 307.5 L1007.2 308.6 L1011.5 309.8 L1016.2 311.2 L1021.4 312.8 L1027.0 314.7 L1033.0 316.7 L1039.4 318.9 L1046.1 321.1 L1052.9 323.5 L1059.8 325.8 L1066.9 328.1 L1073.9 330.4 L1080.8 332.6 L1087.6 334.7 L1094.2 336.6 L1100.5 338.3 L1106.7 339.9 L1112.7 341.5 L1118.8 343.0 L1124.7 344.4 L1130.7 345.8 L1136.7 347.1 L1142.7 348.4 L1148.7 349.6 L1154.8 350.8 L1161.0 352.0 L1167.4 353.2 L1173.8 354.3 L1180.3 355.4 L1186.8 356.5 L1193.4 357.5 L1200.0 358.5 L1206.7 359.5 L1213.5 360.4 L1220.3 361.3 L1227.2 362.2 L1234.2 363.0 L1241.2 363.8 L1248.4 364.6 L1256.0 365.4 L1264.2 366.2 L1272.8 366.9 L1281.7 367.6 L1290.6 368.3 L1299.4 368.9 L1307.9 369.5 L1315.9 370.1 L1323.3 370.7 L1329.9 371.1 L1335.4 371.6 L1339.8 372.0 L1342.2 334.0 L1337.7 333.9 L1332.1 333.6 L1325.5 333.4 L1318.1 333.1 L1310.1 332.7 L1301.6 332.3 L1292.9 331.9 L1284.1 331.4 L1275.4 331.0 L1266.9 330.4 L1259.0 329.9 L1251.6 329.4 L1244.6 328.8 L1237.7 328.2 L1230.9 327.6 L1224.2 327.0 L1217.5 326.3 L1210.9 325.7 L1204.4 324.9 L1197.9 324.2 L1191.5 323.4 L1185.2 322.6 L1178.9 321.7 L1172.6 320.8 L1166.5 319.9 L1160.4 319.0 L1154.5 318.0 L1148.6 317.0 L1142.8 316.0 L1137.1 315.0 L1131.3 313.9 L1125.5 312.7 L1119.7 311.5 L1113.9 310.2 L1107.9 308.9 L1101.8 307.4 L1095.6 305.9 L1089.1 304.1 L1082.4 302.2 L1075.6 300.2 L1068.7 298.2 L1061.7 296.0 L1054.9 293.9 L1048.1 291.9 L1041.6 289.9 L1035.3 288.0 L1029.4 286.3 L1023.8 284.8 L1018.6 283.5 L1013.9 282.3 L1009.6 281.4 L1005.5 280.5 L1001.8 279.8 L998.2 279.1 L994.9 278.5 L991.6 277.9 L988.4 277.3 L985.2 276.6 L981.9 275.9 L978.4 275.0 L974.6 274.1 L970.8 273.1 L966.9 272.0 L963.1 271.0 L959.2 269.9 L955.4 268.8 L951.7 267.7 L948.0 266.6 L944.4 265.4 L941.0 264.3 L937.7 263.1 L934.5 261.8 L931.5 260.6 L928.6 259.3 L925.8 257.9 L923.0 256.5 L920.3 255.1 L917.6 253.6 L915.0 252.1 L912.3 250.5 L909.7 248.9 L907.0 247.3 L904.2 245.6 L901.5 243.9 L898.7 242.1 L895.8 240.2 L892.7 238.1 L889.6 235.9 L886.5 233.7 L883.5 231.5 L880.5 229.3 L877.7 227.3 L875.1 225.4 L872.8 223.8 L870.8 222.3 L869.1 221.2Z" fill="#1d2f4d"/></g>
<g filter="url(#rough3)" opacity="0.8"><path d="M859.4 234.1 L860.8 235.3 L862.6 236.9 L864.8 238.7 L867.3 240.7 L870.0 242.9 L872.9 245.3 L875.9 247.7 L878.9 250.2 L882.1 252.6 L885.1 255.0 L888.2 257.2 L891.1 259.3 L893.8 261.2 L896.4 263.1 L899.1 265.0 L901.8 266.9 L904.5 268.8 L907.3 270.6 L910.1 272.4 L913.1 274.2 L916.1 276.0 L919.3 277.8 L922.5 279.5 L925.9 281.2 L929.5 282.8 L933.2 284.4 L936.9 285.9 L940.8 287.3 L944.6 288.8 L948.6 290.2 L952.5 291.5 L956.5 292.8 L960.4 294.1 L964.3 295.3 L968.1 296.6 L971.9 297.8 L975.7 298.9 L979.4 300.0 L982.8 300.9 L986.2 301.8 L989.6 302.6 L992.9 303.5 L996.3 304.3 L999.9 305.2 L1003.6 306.2 L1007.6 307.3 L1011.9 308.5 L1016.6 309.9 L1021.8 311.5 L1027.4 313.4 L1033.5 315.4 L1039.9 317.5 L1046.5 319.8 L1053.3 322.1 L1060.3 324.4 L1067.3 326.7 L1074.3 329.0 L1081.2 331.2 L1088.0 333.2 L1094.6 335.1 L1100.9 336.8 L1107.0 338.4 L1113.1 340.0 L1119.1 341.5 L1125.1 342.9 L1131.0 344.2 L1137.0 345.5 L1142.9 346.8 L1149.0 348.0 L1155.1 349.2 L1161.3 350.4 L1167.6 351.5 L1174.0 352.7 L1180.5 353.8 L1187.0 354.8 L1193.6 355.8 L1200.2 356.8 L1206.9 357.8 L1213.7 358.7 L1220.5 359.6 L1227.4 360.4 L1234.3 361.3 L1241.4 362.1 L1248.5 362.9 L1256.2 363.6 L1264.4 364.4 L1273.0 365.1 L1281.8 365.8 L1290.7 366.5 L1299.5 367.1 L1308.0 367.7 L1316.0 368.3 L1323.4 368.8 L1330.0 369.3 L1335.5 369.7 L1339.9 370.1 L1341.6 343.5 L1337.1 343.3 L1331.5 343.0 L1324.9 342.7 L1317.5 342.3 L1309.5 341.9 L1301.1 341.5 L1292.3 341.0 L1283.5 340.5 L1274.7 339.9 L1266.3 339.4 L1258.2 338.8 L1250.8 338.2 L1243.8 337.6 L1236.8 336.9 L1230.0 336.3 L1223.2 335.6 L1216.5 334.9 L1209.9 334.1 L1203.3 333.3 L1196.8 332.5 L1190.4 331.7 L1184.0 330.8 L1177.6 329.9 L1171.3 328.9 L1165.1 327.9 L1159.0 326.9 L1153.0 325.9 L1147.1 324.9 L1141.3 323.8 L1135.5 322.7 L1129.7 321.5 L1123.8 320.3 L1118.0 319.0 L1112.1 317.7 L1106.0 316.2 L1099.9 314.7 L1093.6 313.1 L1087.1 311.2 L1080.3 309.3 L1073.4 307.2 L1066.5 305.1 L1059.5 302.9 L1052.7 300.7 L1046.0 298.6 L1039.5 296.6 L1033.2 294.7 L1027.4 292.9 L1021.9 291.4 L1016.9 290.1 L1012.3 288.9 L1008.0 287.9 L1004.0 287.0 L1000.3 286.3 L996.8 285.5 L993.5 284.9 L990.2 284.2 L986.9 283.5 L983.7 282.8 L980.3 282.0 L976.7 281.0 L972.9 280.0 L969.1 278.9 L965.2 277.8 L961.3 276.7 L957.5 275.6 L953.6 274.5 L949.8 273.3 L946.1 272.1 L942.4 270.8 L938.9 269.5 L935.5 268.2 L932.3 266.9 L929.1 265.5 L926.1 264.1 L923.2 262.7 L920.4 261.2 L917.6 259.7 L914.9 258.1 L912.2 256.5 L909.6 254.8 L906.9 253.2 L904.2 251.4 L901.5 249.7 L898.7 247.9 L895.9 246.1 L893.0 244.1 L889.9 241.9 L886.8 239.7 L883.7 237.4 L880.7 235.1 L877.7 232.9 L875.0 230.8 L872.4 228.9 L870.1 227.2 L868.2 225.8 L866.6 224.6Z" fill="#3d3768"/></g>
<g filter="url(#rough2)" opacity="0.9"><path d="M861.7 231.0 L863.2 232.2 L865.1 233.7 L867.3 235.5 L869.8 237.5 L872.5 239.6 L875.4 241.9 L878.4 244.3 L881.5 246.7 L884.6 249.1 L887.7 251.4 L890.7 253.6 L893.6 255.6 L896.3 257.5 L899.0 259.3 L901.6 261.1 L904.3 262.9 L907.0 264.7 L909.8 266.5 L912.6 268.2 L915.5 270.0 L918.4 271.6 L921.5 273.3 L924.7 274.9 L928.0 276.5 L931.5 278.0 L935.1 279.5 L938.7 280.9 L942.5 282.3 L946.3 283.7 L950.2 285.0 L954.1 286.3 L958.1 287.5 L962.0 288.8 L965.9 289.9 L969.7 291.1 L973.5 292.3 L977.2 293.3 L980.8 294.3 L984.2 295.2 L987.5 296.0 L990.9 296.8 L994.2 297.6 L997.7 298.4 L1001.2 299.2 L1005.0 300.2 L1009.1 301.2 L1013.5 302.4 L1018.3 303.8 L1023.6 305.4 L1029.3 307.2 L1035.4 309.2 L1041.9 311.3 L1048.5 313.5 L1055.4 315.8 L1062.3 318.1 L1069.3 320.3 L1076.3 322.5 L1083.1 324.6 L1089.8 326.6 L1096.3 328.4 L1102.6 330.1 L1108.7 331.6 L1114.7 333.1 L1120.7 334.5 L1126.6 335.9 L1132.5 337.1 L1138.4 338.4 L1144.3 339.6 L1150.3 340.8 L1156.4 341.9 L1162.5 343.0 L1168.8 344.1 L1175.2 345.2 L1181.7 346.2 L1188.1 347.2 L1194.7 348.2 L1201.2 349.1 L1207.9 350.0 L1214.6 350.9 L1221.4 351.7 L1228.2 352.5 L1235.2 353.3 L1242.2 354.0 L1249.3 354.7 L1256.8 355.5 L1265.0 356.2 L1273.6 356.8 L1282.4 357.5 L1291.2 358.1 L1300.0 358.7 L1308.5 359.2 L1316.5 359.7 L1323.9 360.2 L1330.5 360.6 L1336.1 361.0 L1340.5 361.3 L1341.9 338.6 L1337.4 338.4 L1331.8 338.1 L1325.2 337.8 L1317.8 337.5 L1309.8 337.1 L1301.3 336.7 L1292.6 336.3 L1283.8 335.8 L1275.1 335.3 L1266.6 334.7 L1258.6 334.2 L1251.2 333.6 L1244.2 333.0 L1237.3 332.4 L1230.4 331.8 L1223.7 331.1 L1217.0 330.4 L1210.4 329.7 L1203.9 329.0 L1197.4 328.2 L1191.0 327.4 L1184.6 326.5 L1178.3 325.6 L1172.0 324.7 L1165.8 323.8 L1159.7 322.8 L1153.8 321.8 L1147.9 320.8 L1142.1 319.8 L1136.3 318.7 L1130.5 317.5 L1124.7 316.4 L1118.9 315.1 L1113.0 313.8 L1107.0 312.4 L1100.9 310.9 L1094.7 309.3 L1088.1 307.5 L1081.4 305.6 L1074.5 303.6 L1067.6 301.5 L1060.7 299.3 L1053.8 297.2 L1047.1 295.1 L1040.6 293.1 L1034.3 291.2 L1028.4 289.5 L1022.9 288.0 L1017.8 286.6 L1013.1 285.5 L1008.8 284.5 L1004.8 283.7 L1001.1 282.9 L997.6 282.2 L994.2 281.6 L990.9 280.9 L987.7 280.3 L984.5 279.6 L981.1 278.8 L977.6 277.9 L973.8 276.9 L970.0 275.9 L966.1 274.8 L962.2 273.8 L958.4 272.7 L954.5 271.5 L950.8 270.4 L947.1 269.2 L943.5 268.0 L940.0 266.8 L936.6 265.5 L933.4 264.3 L930.4 263.0 L927.4 261.6 L924.5 260.2 L921.8 258.8 L919.0 257.3 L916.3 255.8 L913.7 254.2 L911.0 252.6 L908.3 251.0 L905.6 249.3 L902.9 247.6 L900.2 245.8 L897.4 244.0 L894.4 242.0 L891.4 239.9 L888.3 237.7 L885.2 235.5 L882.1 233.2 L879.2 231.1 L876.4 229.0 L873.8 227.1 L871.5 225.4 L869.5 224.0 L867.9 222.9Z" fill="#6b5b47"/></g>
<g filter="url(#bl2)" opacity="0.8"><path d="M859.4 234.1 L860.8 235.3 L862.7 236.8 L864.9 238.6 L867.4 240.6 L870.1 242.8 L873.0 245.1 L876.0 247.5 L879.1 250.0 L882.2 252.4 L885.3 254.7 L888.4 257.0 L891.3 259.0 L894.0 260.9 L896.7 262.8 L899.3 264.6 L902.0 266.5 L904.8 268.3 L907.6 270.1 L910.4 271.9 L913.4 273.7 L916.4 275.4 L919.6 277.2 L922.8 278.8 L926.2 280.5 L929.8 282.1 L933.5 283.6 L937.2 285.1 L941.0 286.5 L944.9 287.9 L948.9 289.3 L952.8 290.6 L956.7 291.9 L960.7 293.1 L964.6 294.3 L968.4 295.5 L972.2 296.7 L976.0 297.8 L979.6 298.8 L983.1 299.7 L986.5 300.6 L989.9 301.4 L993.2 302.2 L996.6 303.0 L1000.2 303.9 L1003.9 304.8 L1007.9 305.9 L1012.3 307.1 L1017.0 308.5 L1022.5 310.1 L1028.8 312.1 L1035.8 314.3 L1043.2 316.6 L1050.8 319.0 L1058.5 321.5 L1066.0 323.9 L1073.1 326.2 L1079.8 328.4 L1085.7 330.3 L1090.7 331.9 L1094.5 333.2 L1101.5 310.8 L1097.6 309.7 L1092.6 308.2 L1086.6 306.4 L1080.0 304.4 L1072.7 302.2 L1065.2 299.9 L1057.4 297.6 L1049.7 295.3 L1042.2 293.0 L1035.2 291.0 L1028.7 289.1 L1023.0 287.5 L1017.9 286.2 L1013.2 285.0 L1008.9 284.0 L1004.9 283.2 L1001.2 282.4 L997.7 281.7 L994.3 281.0 L991.0 280.4 L987.8 279.7 L984.6 279.0 L981.3 278.2 L977.8 277.3 L974.0 276.3 L970.2 275.2 L966.3 274.2 L962.4 273.1 L958.6 272.0 L954.8 270.9 L951.0 269.7 L947.3 268.5 L943.7 267.3 L940.3 266.1 L936.9 264.8 L933.8 263.5 L930.7 262.2 L927.8 260.8 L925.0 259.4 L922.2 258.0 L919.5 256.5 L916.8 255.0 L914.2 253.4 L911.5 251.8 L908.9 250.2 L906.2 248.5 L903.5 246.7 L900.7 245.0 L898.0 243.2 L895.0 241.2 L892.0 239.1 L888.9 236.9 L885.8 234.6 L882.8 232.4 L879.9 230.2 L877.1 228.1 L874.5 226.2 L872.2 224.5 L870.2 223.1 L868.6 221.9Z" fill="url(#tealG)"/></g>
<g filter="url(#rough)"><path d="M1231.6 31.8 L1230.9 34.0 L1230.1 36.7 L1229.1 39.8 L1228.0 43.3 L1226.9 47.0 L1225.6 51.0 L1224.3 55.1 L1223.0 59.3 L1221.6 63.5 L1220.2 67.6 L1218.9 71.5 L1217.6 75.2 L1216.2 78.8 L1214.8 82.4 L1213.4 86.1 L1212.0 89.7 L1210.5 93.4 L1208.9 97.2 L1207.4 100.9 L1205.9 104.6 L1204.3 108.3 L1202.7 112.0 L1201.1 115.7 L1199.6 119.4 L1198.0 123.0 L1196.5 126.7 L1194.9 130.3 L1193.4 133.8 L1191.9 137.4 L1190.4 140.9 L1188.8 144.3 L1187.3 147.8 L1185.7 151.2 L1184.1 154.6 L1182.5 157.9 L1180.8 161.3 L1179.1 164.6 L1177.3 167.8 L1175.5 171.0 L1173.7 174.1 L1171.8 177.3 L1169.8 180.6 L1167.8 184.0 L1165.7 187.4 L1163.6 191.0 L1161.4 194.7 L1159.1 198.6 L1156.8 202.6 L1154.5 206.8 L1152.0 211.2 L1149.5 215.8 L1146.9 220.4 L1144.3 225.2 L1141.6 230.0 L1139.0 234.8 L1136.3 239.6 L1133.7 244.4 L1131.2 249.0 L1128.8 253.4 L1126.5 257.6 L1124.3 261.6 L1122.1 265.4 L1120.0 269.1 L1117.8 272.7 L1115.6 276.4 L1113.4 280.1 L1111.3 283.9 L1109.2 287.7 L1107.1 291.6 L1105.1 295.7 L1103.2 299.9 L1101.4 304.3 L1099.7 308.7 L1098.2 313.2 L1096.7 317.7 L1095.3 322.3 L1094.0 326.9 L1092.7 331.4 L1091.6 336.0 L1090.6 340.5 L1089.6 344.9 L1088.7 349.2 L1087.9 353.5 L1087.2 357.6 L1086.6 361.7 L1086.2 365.8 L1085.8 369.7 L1085.6 373.6 L1085.5 377.3 L1085.4 380.9 L1085.4 384.4 L1085.5 387.7 L1085.5 391.0 L1085.6 394.2 L1085.7 397.4 L1085.8 400.5 L1085.9 404.0 L1086.1 407.6 L1086.3 411.3 L1086.6 415.0 L1086.8 418.6 L1087.2 422.1 L1087.5 425.4 L1087.8 428.5 L1088.0 431.3 L1088.3 433.8 L1088.4 435.9 L1088.6 437.5 L1121.4 434.5 L1121.2 432.7 L1121.0 430.5 L1120.7 427.9 L1120.4 425.1 L1120.1 422.1 L1119.7 418.9 L1119.4 415.6 L1119.1 412.3 L1118.8 408.9 L1118.5 405.7 L1118.3 402.5 L1118.2 399.5 L1118.1 396.3 L1118.0 393.1 L1117.8 390.0 L1117.7 386.9 L1117.6 383.9 L1117.6 380.9 L1117.6 377.9 L1117.7 374.9 L1117.8 371.9 L1118.0 368.8 L1118.3 365.7 L1118.8 362.4 L1119.3 358.9 L1120.0 355.1 L1120.7 351.3 L1121.5 347.3 L1122.4 343.3 L1123.4 339.2 L1124.4 335.1 L1125.5 331.1 L1126.7 327.1 L1128.0 323.1 L1129.3 319.3 L1130.6 315.7 L1132.0 312.3 L1133.4 308.9 L1135.0 305.6 L1136.7 302.3 L1138.5 298.9 L1140.4 295.5 L1142.4 292.0 L1144.5 288.4 L1146.7 284.6 L1148.9 280.7 L1151.2 276.6 L1153.5 272.4 L1155.8 268.0 L1158.2 263.6 L1160.7 258.9 L1163.2 254.2 L1165.8 249.4 L1168.4 244.6 L1171.0 239.8 L1173.6 235.0 L1176.1 230.4 L1178.6 225.8 L1180.9 221.5 L1183.2 217.4 L1185.3 213.5 L1187.4 209.8 L1189.5 206.2 L1191.5 202.7 L1193.6 199.3 L1195.6 195.9 L1197.6 192.5 L1199.5 189.1 L1201.5 185.6 L1203.4 182.0 L1205.3 178.4 L1207.2 174.7 L1209.1 171.0 L1210.8 167.3 L1212.5 163.5 L1214.2 159.9 L1215.8 156.2 L1217.4 152.5 L1218.9 148.9 L1220.4 145.2 L1221.9 141.6 L1223.4 137.9 L1224.9 134.3 L1226.4 130.6 L1227.9 126.9 L1229.5 123.2 L1231.0 119.4 L1232.6 115.6 L1234.1 111.8 L1235.7 108.0 L1237.2 104.1 L1238.7 100.3 L1240.2 96.4 L1241.6 92.5 L1243.1 88.7 L1244.4 84.8 L1245.8 80.8 L1247.2 76.6 L1248.6 72.3 L1250.0 67.9 L1251.3 63.6 L1252.6 59.4 L1253.9 55.3 L1255.0 51.5 L1256.0 48.0 L1257.0 44.9 L1257.7 42.3 L1258.4 40.2Z" fill="#1d2f4d"/></g>
<g filter="url(#rough3)" opacity="0.8"><path d="M1233.0 32.2 L1232.3 34.4 L1231.4 37.1 L1230.5 40.2 L1229.4 43.7 L1228.2 47.4 L1227.0 51.4 L1225.7 55.6 L1224.3 59.8 L1222.9 63.9 L1221.6 68.0 L1220.2 72.0 L1218.9 75.7 L1217.6 79.3 L1216.2 82.9 L1214.8 86.6 L1213.3 90.3 L1211.8 94.0 L1210.3 97.7 L1208.7 101.4 L1207.2 105.1 L1205.6 108.9 L1204.1 112.6 L1202.5 116.3 L1200.9 119.9 L1199.4 123.6 L1197.8 127.2 L1196.3 130.8 L1194.8 134.4 L1193.3 137.9 L1191.7 141.4 L1190.2 144.9 L1188.6 148.4 L1187.1 151.8 L1185.4 155.2 L1183.8 158.6 L1182.1 162.0 L1180.4 165.3 L1178.6 168.5 L1176.8 171.7 L1175.0 174.9 L1173.1 178.1 L1171.1 181.4 L1169.1 184.7 L1167.0 188.2 L1164.9 191.7 L1162.7 195.5 L1160.4 199.3 L1158.1 203.4 L1155.8 207.6 L1153.3 211.9 L1150.8 216.5 L1148.2 221.2 L1145.6 225.9 L1142.9 230.8 L1140.3 235.6 L1137.7 240.4 L1135.1 245.1 L1132.6 249.7 L1130.1 254.2 L1127.8 258.4 L1125.6 262.3 L1123.5 266.1 L1121.3 269.8 L1119.1 273.5 L1116.9 277.2 L1114.8 280.9 L1112.7 284.6 L1110.6 288.4 L1108.5 292.3 L1106.6 296.4 L1104.7 300.6 L1102.9 304.9 L1101.2 309.2 L1099.6 313.7 L1098.2 318.2 L1096.8 322.7 L1095.5 327.3 L1094.3 331.8 L1093.1 336.3 L1092.1 340.8 L1091.1 345.2 L1090.3 349.5 L1089.5 353.7 L1088.8 357.8 L1088.2 361.9 L1087.8 365.9 L1087.4 369.8 L1087.2 373.6 L1087.1 377.3 L1087.0 380.9 L1087.0 384.3 L1087.1 387.7 L1087.2 391.0 L1087.2 394.2 L1087.3 397.3 L1087.4 400.5 L1087.5 403.9 L1087.7 407.5 L1087.9 411.2 L1088.2 414.8 L1088.5 418.4 L1088.8 421.9 L1089.1 425.2 L1089.4 428.3 L1089.7 431.2 L1089.9 433.6 L1090.1 435.7 L1090.2 437.4 L1113.2 435.2 L1113.0 433.5 L1112.8 431.3 L1112.5 428.8 L1112.2 426.0 L1111.9 422.9 L1111.6 419.7 L1111.3 416.4 L1110.9 413.0 L1110.7 409.5 L1110.4 406.2 L1110.2 402.9 L1110.1 399.7 L1110.0 396.6 L1109.9 393.4 L1109.8 390.3 L1109.7 387.1 L1109.6 384.0 L1109.5 380.9 L1109.6 377.7 L1109.6 374.6 L1109.8 371.3 L1110.1 368.0 L1110.4 364.7 L1110.9 361.2 L1111.5 357.5 L1112.2 353.7 L1112.9 349.7 L1113.8 345.6 L1114.7 341.4 L1115.7 337.3 L1116.8 333.1 L1118.0 328.9 L1119.2 324.7 L1120.5 320.7 L1121.9 316.7 L1123.3 312.9 L1124.8 309.2 L1126.4 305.6 L1128.1 302.1 L1129.8 298.6 L1131.7 295.2 L1133.7 291.7 L1135.7 288.1 L1137.8 284.5 L1140.0 280.7 L1142.2 276.9 L1144.5 272.8 L1146.8 268.7 L1149.1 264.4 L1151.5 259.9 L1154.0 255.3 L1156.5 250.6 L1159.1 245.8 L1161.7 241.0 L1164.3 236.1 L1166.9 231.4 L1169.4 226.7 L1171.9 222.2 L1174.3 217.8 L1176.6 213.7 L1178.8 209.8 L1180.9 206.0 L1183.0 202.4 L1185.1 198.9 L1187.1 195.5 L1189.1 192.1 L1191.1 188.7 L1193.1 185.3 L1195.0 181.9 L1196.9 178.5 L1198.8 175.0 L1200.6 171.4 L1202.4 167.7 L1204.1 164.1 L1205.8 160.5 L1207.5 156.8 L1209.1 153.2 L1210.6 149.6 L1212.2 146.0 L1213.7 142.4 L1215.2 138.7 L1216.7 135.1 L1218.2 131.5 L1219.7 127.8 L1221.2 124.1 L1222.8 120.4 L1224.4 116.6 L1225.9 112.9 L1227.5 109.1 L1229.0 105.3 L1230.5 101.5 L1232.0 97.6 L1233.5 93.8 L1234.9 90.0 L1236.4 86.2 L1237.7 82.4 L1239.1 78.5 L1240.5 74.4 L1241.9 70.1 L1243.2 65.8 L1244.6 61.5 L1245.9 57.3 L1247.1 53.2 L1248.3 49.4 L1249.3 45.9 L1250.2 42.8 L1251.0 40.2 L1251.7 38.1Z" fill="#3d3768"/></g>
<g filter="url(#rough2)" opacity="0.9"><path d="M1239.1 34.2 L1238.4 36.3 L1237.6 39.0 L1236.7 42.1 L1235.6 45.6 L1234.4 49.3 L1233.2 53.4 L1231.9 57.5 L1230.5 61.7 L1229.2 66.0 L1227.8 70.1 L1226.4 74.1 L1225.1 77.9 L1223.7 81.5 L1222.3 85.2 L1220.9 89.0 L1219.4 92.7 L1218.0 96.4 L1216.4 100.2 L1214.9 103.9 L1213.3 107.7 L1211.8 111.4 L1210.2 115.1 L1208.7 118.8 L1207.1 122.5 L1205.5 126.2 L1204.0 129.8 L1202.5 133.4 L1201.0 137.0 L1199.5 140.6 L1197.9 144.1 L1196.4 147.6 L1194.8 151.2 L1193.2 154.6 L1191.6 158.1 L1189.9 161.6 L1188.2 165.0 L1186.4 168.4 L1184.6 171.8 L1182.8 175.0 L1180.9 178.3 L1179.0 181.6 L1177.0 184.9 L1175.0 188.3 L1172.9 191.7 L1170.8 195.3 L1168.7 198.9 L1166.5 202.8 L1164.2 206.8 L1161.9 210.9 L1159.4 215.3 L1156.9 219.9 L1154.4 224.5 L1151.7 229.3 L1149.1 234.1 L1146.5 238.9 L1143.9 243.7 L1141.3 248.4 L1138.8 253.0 L1136.4 257.5 L1134.1 261.8 L1131.8 265.8 L1129.6 269.6 L1127.4 273.4 L1125.3 277.1 L1123.1 280.8 L1121.0 284.4 L1118.9 288.1 L1116.9 291.8 L1114.9 295.6 L1113.1 299.4 L1111.3 303.4 L1109.6 307.5 L1108.0 311.7 L1106.5 316.0 L1105.1 320.3 L1103.7 324.7 L1102.5 329.2 L1101.3 333.6 L1100.2 338.0 L1099.2 342.4 L1098.3 346.7 L1097.5 350.9 L1096.7 355.0 L1096.1 358.9 L1095.5 362.8 L1095.1 366.6 L1094.8 370.3 L1094.6 373.9 L1094.5 377.4 L1094.4 380.9 L1094.4 384.2 L1094.5 387.5 L1094.6 390.7 L1094.7 393.9 L1094.8 397.1 L1094.9 400.2 L1095.0 403.6 L1095.2 407.1 L1095.4 410.6 L1095.7 414.2 L1096.0 417.8 L1096.3 421.2 L1096.6 424.5 L1096.9 427.6 L1097.2 430.4 L1097.4 432.9 L1097.6 435.0 L1097.8 436.7 L1117.5 434.9 L1117.3 433.1 L1117.1 430.9 L1116.8 428.3 L1116.5 425.5 L1116.1 422.5 L1115.8 419.3 L1115.5 416.0 L1115.2 412.6 L1114.9 409.2 L1114.6 405.9 L1114.5 402.7 L1114.3 399.6 L1114.2 396.4 L1114.1 393.3 L1114.0 390.1 L1113.8 387.0 L1113.8 383.9 L1113.7 380.9 L1113.7 377.8 L1113.8 374.7 L1114.0 371.6 L1114.2 368.4 L1114.5 365.2 L1115.0 361.8 L1115.6 358.2 L1116.2 354.4 L1117.0 350.5 L1117.8 346.5 L1118.7 342.4 L1119.7 338.3 L1120.8 334.1 L1121.9 330.0 L1123.1 325.9 L1124.4 322.0 L1125.7 318.1 L1127.1 314.3 L1128.5 310.8 L1130.1 307.3 L1131.7 303.9 L1133.4 300.5 L1135.3 297.1 L1137.2 293.7 L1139.2 290.1 L1141.3 286.5 L1143.5 282.7 L1145.7 278.8 L1148.0 274.8 L1150.3 270.6 L1152.6 266.3 L1155.0 261.8 L1157.5 257.2 L1160.0 252.5 L1162.6 247.7 L1165.2 242.9 L1167.8 238.0 L1170.4 233.3 L1172.9 228.6 L1175.4 224.1 L1177.8 219.7 L1180.0 215.6 L1182.2 211.7 L1184.3 208.0 L1186.4 204.4 L1188.4 200.9 L1190.5 197.5 L1192.5 194.1 L1194.5 190.7 L1196.4 187.3 L1198.4 183.8 L1200.3 180.3 L1202.2 176.8 L1204.1 173.1 L1205.9 169.4 L1207.6 165.7 L1209.3 162.1 L1211.0 158.4 L1212.6 154.8 L1214.1 151.1 L1215.7 147.5 L1217.2 143.8 L1218.7 140.2 L1220.2 136.6 L1221.7 132.9 L1223.2 129.3 L1224.7 125.6 L1226.3 121.9 L1227.8 118.1 L1229.4 114.3 L1230.9 110.5 L1232.5 106.7 L1234.0 102.8 L1235.5 99.0 L1237.0 95.2 L1238.4 91.3 L1239.8 87.5 L1241.2 83.7 L1242.6 79.7 L1244.0 75.5 L1245.4 71.2 L1246.8 66.9 L1248.1 62.6 L1249.4 58.4 L1250.6 54.3 L1251.8 50.5 L1252.8 47.0 L1253.7 43.9 L1254.5 41.3 L1255.2 39.2Z" fill="#6b5b47"/></g>
<g filter="url(#rough)"><path d="M878.3 110.3 L879.8 111.2 L881.6 112.4 L883.8 113.8 L886.2 115.3 L888.9 117.0 L891.8 118.7 L894.8 120.6 L897.9 122.4 L901.0 124.3 L904.1 126.1 L907.1 127.9 L910.0 129.5 L912.7 131.1 L915.5 132.7 L918.3 134.3 L921.1 135.8 L924.0 137.4 L926.9 139.0 L929.9 140.6 L932.9 142.2 L935.9 143.7 L939.1 145.2 L942.3 146.7 L945.5 148.2 L948.8 149.6 L952.1 151.0 L955.4 152.3 L958.8 153.6 L962.3 154.9 L965.8 156.2 L969.2 157.4 L972.7 158.6 L976.3 159.8 L979.8 160.9 L983.3 161.9 L986.8 162.9 L990.1 163.9 L993.4 164.7 L996.5 165.5 L999.6 166.2 L1002.7 166.9 L1005.8 167.6 L1009.0 168.2 L1012.3 168.8 L1015.9 169.5 L1019.6 170.1 L1023.6 170.8 L1028.0 171.5 L1032.8 172.2 L1037.9 173.0 L1043.4 173.8 L1049.1 174.7 L1055.0 175.5 L1061.0 176.3 L1067.2 177.2 L1073.5 178.0 L1079.8 178.7 L1086.2 179.5 L1092.5 180.2 L1098.7 180.8 L1104.8 181.4 L1111.0 182.0 L1117.2 182.6 L1123.5 183.1 L1129.9 183.6 L1136.3 184.1 L1142.7 184.6 L1149.1 185.0 L1155.5 185.4 L1161.9 185.7 L1168.4 185.9 L1174.8 186.2 L1181.3 186.3 L1187.9 186.4 L1194.5 186.5 L1201.3 186.5 L1208.0 186.4 L1214.6 186.4 L1221.2 186.3 L1227.6 186.1 L1233.8 186.0 L1239.8 185.8 L1245.6 185.6 L1251.1 185.4 L1256.3 185.2 L1261.3 184.9 L1266.1 184.7 L1270.7 184.3 L1275.1 184.0 L1279.4 183.7 L1283.4 183.3 L1287.4 182.9 L1291.2 182.6 L1294.9 182.2 L1298.6 181.9 L1302.3 181.6 L1306.1 181.3 L1310.0 180.9 L1313.9 180.5 L1317.8 180.1 L1321.6 179.7 L1325.3 179.4 L1328.8 179.0 L1332.0 178.7 L1335.0 178.4 L1337.6 178.1 L1339.9 178.0 L1341.7 177.8 L1336.3 136.2 L1334.4 136.5 L1332.1 136.9 L1329.5 137.4 L1326.6 137.9 L1323.4 138.4 L1320.0 139.0 L1316.4 139.6 L1312.7 140.2 L1308.9 140.7 L1305.2 141.3 L1301.4 141.9 L1297.7 142.4 L1294.0 142.9 L1290.3 143.5 L1286.5 144.1 L1282.8 144.6 L1279.0 145.2 L1275.1 145.7 L1271.2 146.3 L1267.1 146.8 L1262.9 147.3 L1258.5 147.7 L1253.8 148.2 L1248.9 148.6 L1243.7 149.0 L1238.1 149.4 L1232.2 149.7 L1226.1 150.1 L1219.9 150.4 L1213.5 150.8 L1207.1 151.1 L1200.6 151.3 L1194.1 151.5 L1187.7 151.7 L1181.4 151.8 L1175.2 151.8 L1169.1 151.8 L1162.9 151.8 L1156.8 151.7 L1150.5 151.5 L1144.3 151.3 L1138.1 151.1 L1131.9 150.9 L1125.7 150.6 L1119.5 150.3 L1113.4 149.9 L1107.3 149.5 L1101.3 149.2 L1095.3 148.8 L1089.2 148.3 L1083.0 147.8 L1076.9 147.2 L1070.7 146.6 L1064.6 146.0 L1058.6 145.4 L1052.8 144.8 L1047.2 144.2 L1041.8 143.6 L1036.7 143.1 L1032.0 142.5 L1027.6 142.0 L1023.6 141.6 L1019.9 141.2 L1016.6 140.8 L1013.4 140.4 L1010.5 140.0 L1007.6 139.6 L1004.9 139.2 L1002.1 138.8 L999.3 138.3 L996.3 137.7 L993.2 137.1 L990.0 136.3 L986.8 135.6 L983.5 134.8 L980.2 133.9 L976.9 133.0 L973.6 132.1 L970.3 131.1 L967.1 130.1 L963.9 129.0 L960.7 128.0 L957.5 126.9 L954.5 125.8 L951.5 124.7 L948.6 123.6 L945.7 122.4 L942.8 121.2 L940.0 119.9 L937.1 118.6 L934.3 117.3 L931.4 115.9 L928.6 114.6 L925.7 113.2 L922.9 111.8 L920.0 110.5 L917.2 109.1 L914.2 107.6 L911.1 106.0 L908.0 104.4 L904.9 102.7 L901.8 101.1 L898.9 99.6 L896.1 98.1 L893.6 96.8 L891.3 95.6 L889.3 94.5 L887.7 93.7Z" fill="#1d2f4d"/></g>
<g filter="url(#rough3)" opacity="0.8"><path d="M878.8 109.4 L880.2 110.4 L882.1 111.5 L884.3 112.9 L886.7 114.4 L889.4 116.1 L892.3 117.9 L895.3 119.7 L898.4 121.5 L901.5 123.4 L904.6 125.2 L907.6 126.9 L910.5 128.6 L913.2 130.1 L916.0 131.7 L918.8 133.3 L921.6 134.8 L924.5 136.4 L927.4 138.0 L930.4 139.6 L933.4 141.1 L936.4 142.7 L939.5 144.2 L942.7 145.6 L946.0 147.1 L949.2 148.5 L952.5 149.8 L955.9 151.1 L959.3 152.5 L962.7 153.7 L966.1 155.0 L969.6 156.2 L973.1 157.4 L976.6 158.5 L980.1 159.6 L983.6 160.7 L987.1 161.6 L990.4 162.6 L993.7 163.4 L996.8 164.2 L999.8 164.9 L1002.9 165.6 L1006.0 166.2 L1009.2 166.8 L1012.5 167.4 L1016.1 168.1 L1019.8 168.7 L1023.8 169.3 L1028.2 170.0 L1033.0 170.8 L1038.1 171.5 L1043.6 172.4 L1049.2 173.2 L1055.1 174.0 L1061.2 174.8 L1067.4 175.6 L1073.7 176.4 L1080.0 177.2 L1086.3 177.9 L1092.6 178.6 L1098.8 179.2 L1104.9 179.8 L1111.1 180.4 L1117.4 181.0 L1123.7 181.5 L1130.0 182.0 L1136.4 182.5 L1142.7 182.9 L1149.2 183.3 L1155.6 183.7 L1162.0 184.0 L1168.4 184.2 L1174.8 184.4 L1181.3 184.6 L1187.9 184.7 L1194.5 184.7 L1201.2 184.7 L1207.9 184.7 L1214.5 184.6 L1221.1 184.5 L1227.5 184.3 L1233.7 184.1 L1239.7 184.0 L1245.5 183.8 L1251.0 183.6 L1256.2 183.3 L1261.2 183.1 L1266.0 182.8 L1270.6 182.5 L1274.9 182.1 L1279.1 181.8 L1283.2 181.4 L1287.1 181.0 L1291.0 180.7 L1294.7 180.3 L1298.4 180.0 L1302.0 179.6 L1305.8 179.3 L1309.8 178.9 L1313.7 178.5 L1317.6 178.1 L1321.4 177.7 L1325.0 177.4 L1328.5 177.0 L1331.8 176.6 L1334.7 176.3 L1337.4 176.1 L1339.6 175.9 L1341.4 175.7 L1337.6 146.6 L1335.8 146.9 L1333.5 147.2 L1330.9 147.7 L1327.9 148.1 L1324.7 148.6 L1321.3 149.1 L1317.7 149.6 L1314.0 150.2 L1310.2 150.7 L1306.4 151.2 L1302.6 151.7 L1298.9 152.2 L1295.2 152.7 L1291.4 153.2 L1287.7 153.7 L1283.9 154.2 L1280.1 154.7 L1276.2 155.2 L1272.2 155.7 L1268.0 156.2 L1263.7 156.6 L1259.2 157.0 L1254.5 157.4 L1249.5 157.8 L1244.1 158.1 L1238.5 158.5 L1232.6 158.8 L1226.5 159.1 L1220.2 159.4 L1213.8 159.7 L1207.3 159.9 L1200.8 160.1 L1194.2 160.2 L1187.7 160.4 L1181.4 160.4 L1175.1 160.4 L1168.9 160.4 L1162.7 160.3 L1156.4 160.1 L1150.2 159.9 L1143.9 159.7 L1137.7 159.4 L1131.4 159.1 L1125.2 158.7 L1119.0 158.3 L1112.8 157.9 L1106.7 157.5 L1100.7 157.1 L1094.6 156.6 L1088.5 156.1 L1082.2 155.5 L1076.0 154.9 L1069.8 154.3 L1063.7 153.6 L1057.7 152.9 L1051.9 152.3 L1046.2 151.6 L1040.8 151.0 L1035.7 150.4 L1031.0 149.8 L1026.6 149.2 L1022.6 148.7 L1018.9 148.2 L1015.5 147.8 L1012.3 147.4 L1009.3 146.9 L1006.4 146.5 L1003.5 146.0 L1000.7 145.5 L997.8 144.9 L994.8 144.3 L991.6 143.5 L988.3 142.7 L985.0 141.9 L981.7 141.0 L978.3 140.1 L975.0 139.1 L971.7 138.1 L968.3 137.0 L965.0 136.0 L961.8 134.9 L958.5 133.7 L955.4 132.6 L952.2 131.4 L949.2 130.2 L946.2 129.0 L943.3 127.7 L940.3 126.4 L937.4 125.1 L934.6 123.7 L931.7 122.3 L928.8 120.9 L926.0 119.5 L923.2 118.1 L920.3 116.6 L917.5 115.2 L914.6 113.8 L911.7 112.2 L908.6 110.6 L905.5 108.9 L902.4 107.2 L899.3 105.5 L896.4 103.9 L893.7 102.4 L891.1 101.0 L888.9 99.8 L886.9 98.7 L885.3 97.9Z" fill="#3d3768"/></g>
<g filter="url(#rough2)" opacity="0.9"><path d="M880.9 105.6 L882.4 106.5 L884.3 107.7 L886.5 109.0 L889.0 110.5 L891.7 112.1 L894.6 113.8 L897.6 115.6 L900.7 117.4 L903.8 119.2 L906.9 120.9 L909.9 122.6 L912.8 124.2 L915.6 125.7 L918.4 127.2 L921.2 128.7 L924.0 130.3 L926.9 131.8 L929.8 133.3 L932.7 134.8 L935.7 136.3 L938.7 137.7 L941.7 139.2 L944.9 140.6 L948.0 141.9 L951.2 143.2 L954.5 144.5 L957.8 145.8 L961.1 147.0 L964.5 148.3 L968.0 149.4 L971.4 150.6 L974.8 151.7 L978.3 152.8 L981.7 153.8 L985.2 154.8 L988.6 155.7 L991.9 156.5 L995.0 157.3 L998.1 158.0 L1001.1 158.7 L1004.1 159.3 L1007.1 159.9 L1010.2 160.4 L1013.5 161.0 L1017.0 161.5 L1020.7 162.1 L1024.7 162.7 L1029.1 163.4 L1033.9 164.1 L1039.0 164.8 L1044.4 165.5 L1050.1 166.3 L1056.0 167.1 L1062.0 167.9 L1068.2 168.6 L1074.4 169.4 L1080.7 170.1 L1087.0 170.8 L1093.3 171.4 L1099.4 172.0 L1105.5 172.5 L1111.7 173.0 L1117.9 173.5 L1124.2 174.0 L1130.5 174.5 L1136.8 174.9 L1143.1 175.3 L1149.5 175.6 L1155.9 175.9 L1162.2 176.2 L1168.6 176.4 L1174.9 176.6 L1181.3 176.7 L1187.8 176.7 L1194.4 176.7 L1201.1 176.6 L1207.7 176.5 L1214.3 176.4 L1220.8 176.2 L1227.2 176.0 L1233.4 175.8 L1239.3 175.6 L1245.0 175.3 L1250.5 175.1 L1255.6 174.8 L1260.5 174.5 L1265.2 174.2 L1269.7 173.8 L1274.0 173.4 L1278.2 173.0 L1282.2 172.6 L1286.1 172.2 L1289.9 171.8 L1293.6 171.4 L1297.3 171.0 L1301.0 170.6 L1304.8 170.2 L1308.6 169.8 L1312.5 169.4 L1316.4 168.9 L1320.2 168.5 L1323.8 168.1 L1327.3 167.7 L1330.5 167.3 L1333.5 166.9 L1336.1 166.6 L1338.4 166.4 L1340.2 166.2 L1336.9 141.2 L1335.1 141.5 L1332.8 141.9 L1330.2 142.3 L1327.2 142.8 L1324.0 143.3 L1320.6 143.8 L1317.0 144.4 L1313.3 145.0 L1309.5 145.5 L1305.8 146.1 L1302.0 146.6 L1298.3 147.1 L1294.6 147.6 L1290.8 148.1 L1287.1 148.7 L1283.3 149.2 L1279.5 149.7 L1275.6 150.3 L1271.7 150.8 L1267.6 151.3 L1263.3 151.8 L1258.8 152.2 L1254.1 152.6 L1249.2 153.0 L1243.9 153.4 L1238.3 153.7 L1232.4 154.1 L1226.3 154.4 L1220.0 154.7 L1213.7 155.0 L1207.2 155.3 L1200.7 155.5 L1194.2 155.7 L1187.7 155.8 L1181.4 155.9 L1175.2 156.0 L1169.0 155.9 L1162.8 155.8 L1156.6 155.7 L1150.4 155.5 L1144.1 155.3 L1137.9 155.1 L1131.7 154.8 L1125.5 154.5 L1119.3 154.1 L1113.1 153.8 L1107.0 153.4 L1101.0 153.0 L1095.0 152.5 L1088.9 152.0 L1082.7 151.5 L1076.5 150.9 L1070.3 150.3 L1064.2 149.7 L1058.2 149.0 L1052.3 148.4 L1046.7 147.8 L1041.3 147.2 L1036.3 146.6 L1031.5 146.0 L1027.1 145.5 L1023.1 145.0 L1019.4 144.6 L1016.0 144.2 L1012.9 143.7 L1009.9 143.3 L1007.0 142.9 L1004.2 142.5 L1001.4 142.0 L998.6 141.5 L995.6 140.9 L992.5 140.2 L989.2 139.4 L985.9 138.6 L982.6 137.8 L979.3 136.9 L976.0 135.9 L972.7 135.0 L969.4 133.9 L966.1 132.9 L962.9 131.8 L959.6 130.7 L956.5 129.6 L953.4 128.5 L950.4 127.4 L947.5 126.2 L944.5 124.9 L941.6 123.7 L938.7 122.4 L935.9 121.1 L933.0 119.7 L930.2 118.3 L927.3 116.9 L924.5 115.5 L921.6 114.1 L918.8 112.8 L916.0 111.3 L913.0 109.8 L909.9 108.2 L906.8 106.5 L903.7 104.9 L900.6 103.2 L897.7 101.7 L895.0 100.2 L892.4 98.8 L890.1 97.6 L888.2 96.5 L886.6 95.7Z" fill="#6b5b47"/></g>
<g fill="none" filter="url(#bl2)" opacity="0.8"><path d="M880 262 C930 262 980 255 1040 240" stroke="#9fcbe0" stroke-width="5"/><path d="M900 280 C950 282 1010 275 1070 262" stroke="#b9dbe9" stroke-width="4"/><path d="M930 245 C960 246 990 243 1010 238" stroke="#cfe6f0" stroke-width="3"/></g>
<g fill="none" stroke="#1b2a4a" stroke-width="4.8" stroke-linecap="round" stroke-linejoin="round">
<path d="M873.0 205.0 L874.2 205.5 L875.8 206.1 L877.7 206.8 L879.8 207.5 L882.1 208.4 L884.5 209.3 L886.8 210.4 L889.1 211.5 L891.2 212.7 L893.0 214.0 L894.7 215.4 L896.3 216.9 L897.9 218.6 L899.5 220.3 L900.9 222.1 L902.3 224.0 L903.7 225.9 L904.9 227.9 L906.0 230.0 L907.0 232.0 L907.9 234.1 L908.6 236.2 L909.2 238.5 L909.7 240.7 L910.2 243.1 L910.6 245.4 L910.9 247.8 L911.3 250.2 L911.6 252.6 L912.0 255.0 L912.3 257.4 L912.6 259.9 L912.8 262.4 L913.0 265.0 L913.1 267.6 L913.3 270.1 L913.6 272.7 L913.9 275.2 L914.4 277.6 L915.0 280.0 L915.8 282.4 L916.9 284.9 L918.1 287.5 L919.4 290.1 L920.7 292.6 L922.0 294.9 L923.3 297.1 L924.4 299.1 L925.3 300.7 L926.0 302.0"/>
<path d="M1096.0 196.0 L1095.3 194.4 L1094.4 192.4 L1093.3 190.0 L1092.1 187.3 L1090.8 184.4 L1089.4 181.4 L1088.0 178.3 L1086.6 175.4 L1085.3 172.6 L1084.0 170.0 L1082.8 167.6 L1081.6 165.2 L1080.5 162.8 L1079.3 160.4 L1078.1 158.1 L1076.9 155.8 L1075.7 153.7 L1074.5 151.6 L1073.3 149.7 L1072.0 148.0 L1070.7 146.4 L1069.2 144.8 L1067.8 143.3 L1066.3 141.8 L1064.8 140.6 L1063.3 139.4 L1061.9 138.5 L1060.5 137.7 L1059.2 137.2 L1058.0 137.0 L1056.9 137.0 L1055.8 137.4 L1054.7 137.9 L1053.8 138.7 L1052.8 139.6 L1051.9 140.7 L1051.1 141.9 L1050.3 143.2 L1049.6 144.6 L1049.0 146.0 L1048.5 147.5 L1048.1 149.1 L1047.8 150.8 L1047.6 152.6 L1047.4 154.5 L1047.3 156.5 L1047.1 158.5 L1046.8 160.7 L1046.5 162.8 L1046.0 165.0 L1045.5 167.3 L1044.9 169.6 L1044.4 172.0 L1043.8 174.5 L1043.2 177.1 L1042.4 179.6 L1041.6 182.2 L1040.6 184.8 L1039.4 187.4 L1038.0 190.0 L1036.4 192.6 L1034.6 195.3 L1032.7 198.1 L1030.6 200.9 L1028.4 203.7 L1026.1 206.4 L1023.7 209.1 L1021.2 211.6 L1018.6 213.9 L1016.0 216.0 L1013.3 217.9 L1010.4 219.7 L1007.5 221.4 L1004.4 222.9 L1001.3 224.4 L998.1 225.7 L994.9 226.9 L991.6 228.0 L988.3 229.1 L985.0 230.0 L981.6 230.8 L978.0 231.6 L974.2 232.2 L970.4 232.7 L966.6 233.1 L962.8 233.4 L959.2 233.6 L955.8 233.8 L952.7 233.9 L950.0 234.0 L947.6 233.9 L945.3 233.6 L943.3 233.1 L941.5 232.5 L939.8 231.9 L938.3 231.4 L937.0 230.9 L935.9 230.7 L934.9 230.7 L934.0 231.0 L933.3 231.6 L932.8 232.5 L932.5 233.6 L932.4 234.8 L932.4 236.2 L932.5 237.7 L932.8 239.2 L933.1 240.8 L933.5 242.4 L934.0 244.0 L934.6 245.6 L935.2 247.4 L936.0 249.3 L936.9 251.2 L937.9 253.2 L938.9 255.1 L940.1 257.0 L941.3 258.8 L942.6 260.5 L944.0 262.0 L945.5 263.3 L947.1 264.6 L948.8 265.7 L950.6 266.8 L952.5 267.8 L954.4 268.7 L956.3 269.6 L958.3 270.4 L960.2 271.2 L962.0 272.0 L963.9 272.7 L965.9 273.4 L968.0 274.0 L970.1 274.6 L972.1 275.1 L974.1 275.6 L975.9 276.0 L977.6 276.4 L978.9 276.7 L980.0 277.0"/>
<path d="M962.0 230.0 L963.6 229.8 L965.6 229.4 L968.0 228.9 L970.6 228.4 L973.5 227.9 L976.6 227.5 L979.8 227.2 L983.2 227.2 L986.6 227.4 L990.0 228.0 L993.5 229.0 L997.2 230.4 L1001.0 232.2 L1004.9 234.1 L1008.9 236.2 L1013.1 238.3 L1017.3 240.5 L1021.5 242.5 L1025.7 244.4 L1030.0 246.0 L1034.3 247.5 L1038.8 249.0 L1043.4 250.5 L1048.1 252.0 L1052.8 253.3 L1057.5 254.5 L1062.1 255.5 L1066.6 256.3 L1070.9 256.8 L1075.0 257.0 L1078.9 256.8 L1082.7 256.4 L1086.4 255.6 L1090.0 254.6 L1093.4 253.4 L1096.8 252.1 L1100.2 250.7 L1103.5 249.1 L1106.7 247.6 L1110.0 246.0 L1113.3 244.3 L1116.5 242.3 L1119.7 240.2 L1122.9 237.9 L1126.1 235.6 L1129.1 233.3 L1132.0 231.1 L1134.8 229.1 L1137.5 227.4 L1140.0 226.0 L1142.3 224.9 L1144.5 224.0 L1146.5 223.2 L1148.4 222.6 L1150.1 222.1 L1151.8 221.8 L1153.4 221.7 L1155.0 221.6 L1156.5 221.8 L1158.0 222.0 L1159.5 222.5 L1161.0 223.3 L1162.4 224.3 L1163.8 225.5 L1165.1 226.8 L1166.4 228.0 L1167.5 229.3 L1168.5 230.4 L1169.3 231.3 L1170.0 232.0"/>
<path d="M1130.0 259.0 L1129.0 259.1 L1127.5 259.3 L1125.8 259.5 L1123.9 259.6 L1121.9 259.9 L1119.9 260.2 L1118.0 260.5 L1116.3 260.9 L1114.9 261.4 L1114.0 262.0 L1113.4 262.7 L1112.9 263.5 L1112.6 264.4 L1112.4 265.4 L1112.5 266.4 L1112.8 267.5 L1113.2 268.6 L1113.9 269.8 L1114.8 270.9 L1116.0 272.0 L1117.4 273.1 L1119.1 274.1 L1121.1 275.2 L1123.2 276.2 L1125.6 277.3 L1128.2 278.5 L1130.9 279.7 L1133.8 281.0 L1136.9 282.4 L1140.0 284.0 L1143.5 285.8 L1147.6 288.0 L1152.1 290.3 L1156.8 292.8 L1161.5 295.2 L1166.1 297.7 L1170.4 300.0 L1174.3 302.0 L1177.5 303.7 L1180.0 305.0"/>
</g>
<path d="M1010.0 222.0 L1009.2 223.4 L1008.1 225.1 L1006.8 227.2 L1005.3 229.5 L1003.8 232.1 L1002.1 234.7 L1000.5 237.4 L998.9 240.0 L997.4 242.6 L996.0 245.0 L994.7 247.4 L993.4 249.9 L992.1 252.4 L990.8 255.0 L989.5 257.5 L988.3 260.0 L987.1 262.3 L986.0 264.4 L984.9 266.3 L984.0 268.0 L983.1 269.4 L982.3 270.5 L981.6 271.5 L980.9 272.3 L980.2 272.9 L979.7 273.5 L979.2 273.9 L978.7 274.3 L978.3 274.7 L978.0 275.0" fill="none" stroke="#8d9bb0" stroke-width="3.4" stroke-linecap="round"/>
<path d="M944.0 280.0 L943.7 281.0 L943.2 282.2 L942.8 283.7 L942.2 285.3 L941.6 287.1 L941.0 289.0 L940.3 290.8 L939.6 292.7 L938.8 294.4 L938.0 296.0 L937.1 297.5 L936.1 299.2 L935.0 300.8 L933.8 302.4 L932.6 304.0 L931.5 305.5 L930.4 306.9 L929.4 308.1 L928.6 309.2 L928.0 310.0" fill="none" stroke="#1b2a4a" stroke-width="3.4" stroke-linecap="round"/>
<ellipse cx="1172" cy="246" rx="10" ry="5" fill="none" stroke="#3c6a8a" stroke-width="1.6"/>
<circle cx="1028.8" cy="147.3" r="14.8" fill="url(#ball)"/>
<circle cx="1151.8" cy="136.3" r="14.8" fill="url(#ball)"/>
<circle cx="1101" cy="326" r="18.6" fill="url(#ball)"/>
<circle cx="920.5" cy="259.5" r="9" fill="url(#ball)"/>
<circle cx="804.3" cy="322.5" r="10" fill="url(#ball)"/>
<rect x="1024.00" y="146.30" width="7.60" height="2.80" fill="#fff" rx="1"/>
<path d="M1057.5 156.5v12M1051.5 162.5h12" stroke="#111" stroke-width="3.4"/><path d="M1057.5 157.5v10M1052.5 162.5h10" stroke="#fff" stroke-width="1.4"/>
<g fill="none" stroke="#d42a22" stroke-width="2.8" stroke-dasharray="3 2.8">
<path d="M1071 136 C1076 118 1070 104 1056 103 C1048 102.5 1042 108 1039 115"/>
<path d="M1100 212 C1140 204 1168 196 1172 168"/>
<path d="M1003 383 L1072 347"/>
<path d="M818 311 C822 300 830 304 836 308 C842 312 846 306 848 296 C850 284 858 284 868 288 C876 291 880 296 884 290 C888 284 892 276 898 270 C896 264 898 260 904 258"/>
</g>
<path d="M1041 106 l-6.5 17 13 -8z M1066.5 133 l3 14 8 -12z M1166 166 l7 -13 7 12z M1066 343.5 l14 -1.5 -8 11z M899 254 l9 1 -3 9z" fill="#d42a22"/>
<text x="1134.00" y="75.50" font-size="24" text-anchor="middle" fill="#c00000" textLength="143.0" lengthAdjust="spacingAndGlyphs">Electrostatic</text>
<text x="1134.00" y="104.50" font-size="24" text-anchor="middle" fill="#c00000" textLength="119.5" lengthAdjust="spacingAndGlyphs">deposition</text>
<text x="1198.80" y="228.80" font-size="24" fill="#c00000" textLength="136.3" lengthAdjust="spacingAndGlyphs">Interception</text>
<text x="777.50" y="261.30" font-size="24" text-anchor="middle" fill="#c00000" textLength="122.5" lengthAdjust="spacingAndGlyphs">Diffusional</text>
<text x="778.00" y="290.00" font-size="24" text-anchor="middle" fill="#c00000" textLength="119.0" lengthAdjust="spacingAndGlyphs">deposition</text>
<text x="1029.00" y="408.00" font-size="24" text-anchor="middle" fill="#c00000" textLength="78.0" lengthAdjust="spacingAndGlyphs">Inertial</text>
<text x="1029.00" y="436.50" font-size="24" text-anchor="middle" fill="#c00000" textLength="111.0" lengthAdjust="spacingAndGlyphs">impaction</text>
</g>
</g>
<g id="panel-b">
<text x="31.50" y="501.00" font-size="48">b</text>
<rect x="86.75" y="735.38" width="17.00" height="65.23" fill="#8A1F1B" stroke="#1a1a1a" stroke-width="0.8"/>
<rect x="103.75" y="732.19" width="17.00" height="68.41" fill="#C6412D" stroke="#1a1a1a" stroke-width="0.8"/>
<rect x="120.75" y="730.14" width="17.00" height="70.46" fill="#E07060" stroke="#1a1a1a" stroke-width="0.8"/>
<rect x="137.75" y="725.14" width="17.00" height="75.46" fill="#A2BFCC" stroke="#1a1a1a" stroke-width="0.8"/>
<rect x="154.75" y="725.14" width="17.00" height="75.46" fill="#6F9BB1" stroke="#1a1a1a" stroke-width="0.8"/>
<line x1="95.25" y1="705.60" x2="95.25" y2="766.35" stroke="#000" stroke-width="3.2"/>
<line x1="89.50" y1="705.60" x2="101.00" y2="705.60" stroke="#000" stroke-width="3.2" stroke-linecap="round"/>
<line x1="89.50" y1="766.35" x2="101.00" y2="766.35" stroke="#000" stroke-width="3.2" stroke-linecap="round"/>
<line x1="112.25" y1="702.10" x2="112.25" y2="762.60" stroke="#000" stroke-width="3.2"/>
<line x1="106.50" y1="702.10" x2="118.00" y2="702.10" stroke="#000" stroke-width="3.2" stroke-linecap="round"/>
<line x1="106.50" y1="762.60" x2="118.00" y2="762.60" stroke="#000" stroke-width="3.2" stroke-linecap="round"/>
<line x1="129.25" y1="701.10" x2="129.25" y2="759.85" stroke="#000" stroke-width="3.2"/>
<line x1="123.50" y1="701.10" x2="135.00" y2="701.10" stroke="#000" stroke-width="3.2" stroke-linecap="round"/>
<line x1="123.50" y1="759.85" x2="135.00" y2="759.85" stroke="#000" stroke-width="3.2" stroke-linecap="round"/>
<line x1="146.25" y1="698.60" x2="146.25" y2="751.35" stroke="#000" stroke-width="3.2"/>
<line x1="140.50" y1="698.60" x2="152.00" y2="698.60" stroke="#000" stroke-width="3.2" stroke-linecap="round"/>
<line x1="140.50" y1="751.35" x2="152.00" y2="751.35" stroke="#000" stroke-width="3.2" stroke-linecap="round"/>
<line x1="163.25" y1="698.60" x2="163.25" y2="751.35" stroke="#000" stroke-width="3.2"/>
<line x1="157.50" y1="698.60" x2="169.00" y2="698.60" stroke="#000" stroke-width="3.2" stroke-linecap="round"/>
<line x1="157.50" y1="751.35" x2="169.00" y2="751.35" stroke="#000" stroke-width="3.2" stroke-linecap="round"/>
<rect x="199.25" y="645.06" width="17.00" height="155.54" fill="#8A1F1B" stroke="#1a1a1a" stroke-width="0.8"/>
<rect x="216.25" y="644.38" width="17.00" height="156.23" fill="#C6412D" stroke="#1a1a1a" stroke-width="0.8"/>
<rect x="233.25" y="642.56" width="17.00" height="158.04" fill="#E07060" stroke="#1a1a1a" stroke-width="0.8"/>
<rect x="250.25" y="642.33" width="17.00" height="158.27" fill="#A2BFCC" stroke="#1a1a1a" stroke-width="0.8"/>
<rect x="267.25" y="642.33" width="17.00" height="158.27" fill="#6F9BB1" stroke="#1a1a1a" stroke-width="0.8"/>
<line x1="207.75" y1="644.50" x2="207.75" y2="645.70" stroke="#000" stroke-width="3.2"/>
<line x1="202.00" y1="644.50" x2="213.50" y2="644.50" stroke="#000" stroke-width="3.2" stroke-linecap="round"/>
<line x1="202.00" y1="645.70" x2="213.50" y2="645.70" stroke="#000" stroke-width="3.2" stroke-linecap="round"/>
<line x1="224.75" y1="643.80" x2="224.75" y2="645.00" stroke="#000" stroke-width="3.2"/>
<line x1="219.00" y1="643.80" x2="230.50" y2="643.80" stroke="#000" stroke-width="3.2" stroke-linecap="round"/>
<line x1="219.00" y1="645.00" x2="230.50" y2="645.00" stroke="#000" stroke-width="3.2" stroke-linecap="round"/>
<line x1="241.75" y1="642.20" x2="241.75" y2="643.00" stroke="#000" stroke-width="3.2"/>
<line x1="236.00" y1="642.20" x2="247.50" y2="642.20" stroke="#000" stroke-width="3.2" stroke-linecap="round"/>
<line x1="236.00" y1="643.00" x2="247.50" y2="643.00" stroke="#000" stroke-width="3.2" stroke-linecap="round"/>
<line x1="258.75" y1="642.00" x2="258.75" y2="642.80" stroke="#000" stroke-width="3.2"/>
<line x1="253.00" y1="642.00" x2="264.50" y2="642.00" stroke="#000" stroke-width="3.2" stroke-linecap="round"/>
<line x1="253.00" y1="642.80" x2="264.50" y2="642.80" stroke="#000" stroke-width="3.2" stroke-linecap="round"/>
<line x1="275.75" y1="642.00" x2="275.75" y2="642.80" stroke="#000" stroke-width="3.2"/>
<line x1="270.00" y1="642.00" x2="281.50" y2="642.00" stroke="#000" stroke-width="3.2" stroke-linecap="round"/>
<line x1="270.00" y1="642.80" x2="281.50" y2="642.80" stroke="#000" stroke-width="3.2" stroke-linecap="round"/>
<rect x="312.50" y="685.33" width="17.00" height="115.27" fill="#8A1F1B" stroke="#1a1a1a" stroke-width="0.8"/>
<rect x="329.50" y="684.87" width="17.00" height="115.73" fill="#C6412D" stroke="#1a1a1a" stroke-width="0.8"/>
<rect x="346.50" y="683.05" width="17.00" height="117.55" fill="#E07060" stroke="#1a1a1a" stroke-width="0.8"/>
<rect x="363.50" y="679.18" width="17.00" height="121.42" fill="#A2BFCC" stroke="#1a1a1a" stroke-width="0.8"/>
<rect x="380.50" y="678.50" width="17.00" height="122.10" fill="#6F9BB1" stroke="#1a1a1a" stroke-width="0.8"/>
<line x1="321.00" y1="672.10" x2="321.00" y2="698.85" stroke="#000" stroke-width="3.2"/>
<line x1="315.25" y1="672.10" x2="326.75" y2="672.10" stroke="#000" stroke-width="3.2" stroke-linecap="round"/>
<line x1="315.25" y1="698.85" x2="326.75" y2="698.85" stroke="#000" stroke-width="3.2" stroke-linecap="round"/>
<line x1="338.00" y1="672.10" x2="338.00" y2="697.60" stroke="#000" stroke-width="3.2"/>
<line x1="332.25" y1="672.10" x2="343.75" y2="672.10" stroke="#000" stroke-width="3.2" stroke-linecap="round"/>
<line x1="332.25" y1="697.60" x2="343.75" y2="697.60" stroke="#000" stroke-width="3.2" stroke-linecap="round"/>
<line x1="355.00" y1="670.10" x2="355.00" y2="696.10" stroke="#000" stroke-width="3.2"/>
<line x1="349.25" y1="670.10" x2="360.75" y2="670.10" stroke="#000" stroke-width="3.2" stroke-linecap="round"/>
<line x1="349.25" y1="696.10" x2="360.75" y2="696.10" stroke="#000" stroke-width="3.2" stroke-linecap="round"/>
<line x1="372.00" y1="668.60" x2="372.00" y2="690.60" stroke="#000" stroke-width="3.2"/>
<line x1="366.25" y1="668.60" x2="377.75" y2="668.60" stroke="#000" stroke-width="3.2" stroke-linecap="round"/>
<line x1="366.25" y1="690.60" x2="377.75" y2="690.60" stroke="#000" stroke-width="3.2" stroke-linecap="round"/>
<line x1="389.00" y1="667.60" x2="389.00" y2="689.60" stroke="#000" stroke-width="3.2"/>
<line x1="383.25" y1="667.60" x2="394.75" y2="667.60" stroke="#000" stroke-width="3.2" stroke-linecap="round"/>
<line x1="383.25" y1="689.60" x2="394.75" y2="689.60" stroke="#000" stroke-width="3.2" stroke-linecap="round"/>
<polyline points="128.75,542.5 241.5,622.5 355,631.75" fill="none" stroke="#3F6E87" stroke-width="2.6"/>
<line x1="241.50" y1="618.00" x2="241.50" y2="627.00" stroke="#3F6E87" stroke-width="1.4"/>
<line x1="236.00" y1="618.00" x2="247.00" y2="618.00" stroke="#3F6E87" stroke-width="1.4" stroke-linecap="round"/>
<line x1="236.00" y1="627.00" x2="247.00" y2="627.00" stroke="#3F6E87" stroke-width="1.4" stroke-linecap="round"/>
<line x1="355.00" y1="624.25" x2="355.00" y2="639.50" stroke="#3F6E87" stroke-width="1.4"/>
<line x1="349.50" y1="624.25" x2="360.50" y2="624.25" stroke="#3F6E87" stroke-width="1.4" stroke-linecap="round"/>
<line x1="349.50" y1="639.50" x2="360.50" y2="639.50" stroke="#3F6E87" stroke-width="1.4" stroke-linecap="round"/>
<rect x="123.75" y="537.50" width="10.00" height="10.00" fill="#4E7890"/>
<rect x="236.50" y="617.50" width="10.00" height="10.00" fill="#4E7890"/>
<rect x="350.00" y="626.75" width="10.00" height="10.00" fill="#4E7890"/>
<rect x="72.00" y="527.50" width="340.50" height="273.10" fill="none" stroke="#000" stroke-width="1.5"/>
<line x1="72.00" y1="778.60" x2="77.50" y2="778.60" stroke="#000" stroke-width="1.5"/>
<text x="65.00" y="783.60" font-size="13.6" text-anchor="end">40</text>
<line x1="72.00" y1="733.10" x2="77.50" y2="733.10" stroke="#000" stroke-width="1.5"/>
<text x="65.00" y="738.10" font-size="13.6" text-anchor="end">60</text>
<line x1="72.00" y1="687.60" x2="77.50" y2="687.60" stroke="#000" stroke-width="1.5"/>
<text x="65.00" y="692.60" font-size="13.6" text-anchor="end">80</text>
<line x1="72.00" y1="642.10" x2="77.50" y2="642.10" stroke="#000" stroke-width="1.5"/>
<text x="65.00" y="647.10" font-size="13.6" text-anchor="end">100</text>
<line x1="72.00" y1="596.60" x2="77.50" y2="596.60" stroke="#000" stroke-width="1.5"/>
<text x="65.00" y="601.60" font-size="13.6" text-anchor="end">120</text>
<line x1="72.00" y1="551.10" x2="77.50" y2="551.10" stroke="#000" stroke-width="1.5"/>
<text x="65.00" y="556.10" font-size="13.6" text-anchor="end">140</text>
<line x1="72.00" y1="755.85" x2="75.00" y2="755.85" stroke="#000" stroke-width="1.5"/>
<line x1="72.00" y1="710.35" x2="75.00" y2="710.35" stroke="#000" stroke-width="1.5"/>
<line x1="72.00" y1="664.85" x2="75.00" y2="664.85" stroke="#000" stroke-width="1.5"/>
<line x1="72.00" y1="619.35" x2="75.00" y2="619.35" stroke="#000" stroke-width="1.5"/>
<line x1="72.00" y1="573.85" x2="75.00" y2="573.85" stroke="#000" stroke-width="1.5"/>
<line x1="412.50" y1="773.75" x2="407.00" y2="773.75" stroke="#000" stroke-width="1.5"/>
<text x="418.00" y="778.75" font-size="14.3">-200</text>
<line x1="412.50" y1="719.00" x2="407.00" y2="719.00" stroke="#000" stroke-width="1.5"/>
<text x="418.00" y="724.00" font-size="14.3">-100</text>
<line x1="412.50" y1="664.25" x2="407.00" y2="664.25" stroke="#000" stroke-width="1.5"/>
<text x="418.00" y="669.25" font-size="14.3">0</text>
<line x1="412.50" y1="609.50" x2="407.00" y2="609.50" stroke="#000" stroke-width="1.5"/>
<text x="418.00" y="614.50" font-size="14.3">100</text>
<line x1="412.50" y1="554.75" x2="407.00" y2="554.75" stroke="#000" stroke-width="1.5"/>
<text x="418.00" y="559.75" font-size="14.3">200</text>
<line x1="412.50" y1="746.38" x2="409.50" y2="746.38" stroke="#000" stroke-width="1.5"/>
<line x1="412.50" y1="691.62" x2="409.50" y2="691.62" stroke="#000" stroke-width="1.5"/>
<line x1="412.50" y1="636.88" x2="409.50" y2="636.88" stroke="#000" stroke-width="1.5"/>
<line x1="412.50" y1="582.12" x2="409.50" y2="582.12" stroke="#000" stroke-width="1.5"/>
<line x1="128.75" y1="800.60" x2="128.75" y2="795.10" stroke="#000" stroke-width="1.5"/>
<text x="128.75" y="818.60" font-size="14.3" text-anchor="middle">5</text>
<line x1="241.90" y1="800.60" x2="241.90" y2="795.10" stroke="#000" stroke-width="1.5"/>
<text x="241.90" y="818.60" font-size="14.3" text-anchor="middle">10</text>
<line x1="355.00" y1="800.60" x2="355.00" y2="795.10" stroke="#000" stroke-width="1.5"/>
<text x="355.00" y="818.60" font-size="14.3" text-anchor="middle">15</text>
<line x1="185.30" y1="800.60" x2="185.30" y2="797.60" stroke="#000" stroke-width="1.5"/>
<line x1="298.40" y1="800.60" x2="298.40" y2="797.60" stroke="#000" stroke-width="1.5"/>
<rect x="168.80" y="532.30" width="16.80" height="16.30" fill="#8A1F1B" stroke="#333" stroke-width="0.6"/>
<text x="199.10" y="545.60" font-size="15.2">0.3µm</text>
<rect x="257.00" y="532.30" width="16.80" height="16.30" fill="#C6412D" stroke="#333" stroke-width="0.6"/>
<text x="287.30" y="545.60" font-size="15.2">0.5µm</text>
<rect x="340.10" y="532.30" width="16.80" height="16.30" fill="#E07060" stroke="#333" stroke-width="0.6"/>
<text x="370.40" y="545.60" font-size="15.2">1µm</text>
<rect x="168.80" y="551.50" width="16.80" height="16.30" fill="#A2BFCC" stroke="#333" stroke-width="0.6"/>
<text x="199.10" y="564.80" font-size="15.2">2.5µm</text>
<rect x="257.00" y="551.50" width="16.80" height="16.30" fill="#6F9BB1" stroke="#333" stroke-width="0.6"/>
<text x="287.30" y="564.80" font-size="15.2">10µm</text>
<text transform="translate(36.00 665.00) rotate(-90)" font-size="21.8" text-anchor="middle" textLength="252.0" lengthAdjust="spacingAndGlyphs">Filtration efficiency (%)</text>
<text transform="translate(465.00 663.00) rotate(-90)" font-size="21.5" text-anchor="middle" textLength="208.0" lengthAdjust="spacingAndGlyphs">Pressure drop (Pa)</text>
<text x="103.00" y="849.30" font-size="23" textLength="279.5" lengthAdjust="spacingAndGlyphs">PAN Concentration (wt%)</text>
</g>
<g id="panel-c">
<text x="471.50" y="501.00" font-size="48">c</text>
<rect x="576.00" y="680.88" width="18.10" height="120.12" fill="#8A1F1B" stroke="#1a1a1a" stroke-width="0.8"/>
<rect x="594.10" y="673.14" width="18.10" height="127.86" fill="#C6412D" stroke="#1a1a1a" stroke-width="0.8"/>
<rect x="612.20" y="670.42" width="18.10" height="130.58" fill="#E07060" stroke="#1a1a1a" stroke-width="0.8"/>
<rect x="630.30" y="664.50" width="18.10" height="136.50" fill="#A2BFCC" stroke="#1a1a1a" stroke-width="0.8"/>
<rect x="648.40" y="664.05" width="18.10" height="136.95" fill="#6F9BB1" stroke="#1a1a1a" stroke-width="0.8"/>
<line x1="585.05" y1="658.50" x2="585.05" y2="704.25" stroke="#000" stroke-width="3.2"/>
<line x1="579.30" y1="658.50" x2="590.80" y2="658.50" stroke="#000" stroke-width="3.2" stroke-linecap="round"/>
<line x1="579.30" y1="704.25" x2="590.80" y2="704.25" stroke="#000" stroke-width="3.2" stroke-linecap="round"/>
<line x1="603.15" y1="652.25" x2="603.15" y2="694.25" stroke="#000" stroke-width="3.2"/>
<line x1="597.40" y1="652.25" x2="608.90" y2="652.25" stroke="#000" stroke-width="3.2" stroke-linecap="round"/>
<line x1="597.40" y1="694.25" x2="608.90" y2="694.25" stroke="#000" stroke-width="3.2" stroke-linecap="round"/>
<line x1="621.25" y1="647.00" x2="621.25" y2="694.00" stroke="#000" stroke-width="3.2"/>
<line x1="615.50" y1="647.00" x2="627.00" y2="647.00" stroke="#000" stroke-width="3.2" stroke-linecap="round"/>
<line x1="615.50" y1="694.00" x2="627.00" y2="694.00" stroke="#000" stroke-width="3.2" stroke-linecap="round"/>
<line x1="639.35" y1="642.50" x2="639.35" y2="688.50" stroke="#000" stroke-width="3.2"/>
<line x1="633.60" y1="642.50" x2="645.10" y2="642.50" stroke="#000" stroke-width="3.2" stroke-linecap="round"/>
<line x1="633.60" y1="688.50" x2="645.10" y2="688.50" stroke="#000" stroke-width="3.2" stroke-linecap="round"/>
<line x1="657.45" y1="642.50" x2="657.45" y2="687.75" stroke="#000" stroke-width="3.2"/>
<line x1="651.70" y1="642.50" x2="663.20" y2="642.50" stroke="#000" stroke-width="3.2" stroke-linecap="round"/>
<line x1="651.70" y1="687.75" x2="663.20" y2="687.75" stroke="#000" stroke-width="3.2" stroke-linecap="round"/>
<rect x="689.25" y="630.38" width="18.10" height="170.62" fill="#8A1F1B" stroke="#1a1a1a" stroke-width="0.8"/>
<rect x="707.35" y="627.19" width="18.10" height="173.81" fill="#C6412D" stroke="#1a1a1a" stroke-width="0.8"/>
<rect x="725.45" y="619.00" width="18.10" height="182.00" fill="#E07060" stroke="#1a1a1a" stroke-width="0.8"/>
<rect x="743.55" y="619.00" width="18.10" height="182.00" fill="#A2BFCC" stroke="#1a1a1a" stroke-width="0.8"/>
<rect x="761.65" y="619.00" width="18.10" height="182.00" fill="#6F9BB1" stroke="#1a1a1a" stroke-width="0.8"/>
<line x1="698.30" y1="626.50" x2="698.30" y2="634.75" stroke="#000" stroke-width="3.2"/>
<line x1="692.55" y1="626.50" x2="704.05" y2="626.50" stroke="#000" stroke-width="3.2" stroke-linecap="round"/>
<line x1="692.55" y1="634.75" x2="704.05" y2="634.75" stroke="#000" stroke-width="3.2" stroke-linecap="round"/>
<line x1="716.40" y1="625.25" x2="716.40" y2="629.75" stroke="#000" stroke-width="3.2"/>
<line x1="710.65" y1="625.25" x2="722.15" y2="625.25" stroke="#000" stroke-width="3.2" stroke-linecap="round"/>
<line x1="710.65" y1="629.75" x2="722.15" y2="629.75" stroke="#000" stroke-width="3.2" stroke-linecap="round"/>
<line x1="734.50" y1="619.80" x2="734.50" y2="620.60" stroke="#000" stroke-width="3.2"/>
<line x1="728.75" y1="619.80" x2="740.25" y2="619.80" stroke="#000" stroke-width="3.2" stroke-linecap="round"/>
<line x1="728.75" y1="620.60" x2="740.25" y2="620.60" stroke="#000" stroke-width="3.2" stroke-linecap="round"/>
<line x1="752.60" y1="619.80" x2="752.60" y2="620.60" stroke="#000" stroke-width="3.2"/>
<line x1="746.85" y1="619.80" x2="758.35" y2="619.80" stroke="#000" stroke-width="3.2" stroke-linecap="round"/>
<line x1="746.85" y1="620.60" x2="758.35" y2="620.60" stroke="#000" stroke-width="3.2" stroke-linecap="round"/>
<line x1="770.70" y1="619.80" x2="770.70" y2="620.60" stroke="#000" stroke-width="3.2"/>
<line x1="764.95" y1="619.80" x2="776.45" y2="619.80" stroke="#000" stroke-width="3.2" stroke-linecap="round"/>
<line x1="764.95" y1="620.60" x2="776.45" y2="620.60" stroke="#000" stroke-width="3.2" stroke-linecap="round"/>
<rect x="802.00" y="627.64" width="18.10" height="173.36" fill="#8A1F1B" stroke="#1a1a1a" stroke-width="0.8"/>
<rect x="820.10" y="623.10" width="18.10" height="177.90" fill="#C6412D" stroke="#1a1a1a" stroke-width="0.8"/>
<rect x="838.20" y="619.00" width="18.10" height="182.00" fill="#E07060" stroke="#1a1a1a" stroke-width="0.8"/>
<rect x="856.30" y="619.00" width="18.10" height="182.00" fill="#A2BFCC" stroke="#1a1a1a" stroke-width="0.8"/>
<rect x="874.40" y="619.00" width="18.10" height="182.00" fill="#6F9BB1" stroke="#1a1a1a" stroke-width="0.8"/>
<line x1="811.05" y1="627.60" x2="811.05" y2="628.90" stroke="#000" stroke-width="3.2"/>
<line x1="805.30" y1="627.60" x2="816.80" y2="627.60" stroke="#000" stroke-width="3.2" stroke-linecap="round"/>
<line x1="805.30" y1="628.90" x2="816.80" y2="628.90" stroke="#000" stroke-width="3.2" stroke-linecap="round"/>
<line x1="829.15" y1="623.60" x2="829.15" y2="625.20" stroke="#000" stroke-width="3.2"/>
<line x1="823.40" y1="623.60" x2="834.90" y2="623.60" stroke="#000" stroke-width="3.2" stroke-linecap="round"/>
<line x1="823.40" y1="625.20" x2="834.90" y2="625.20" stroke="#000" stroke-width="3.2" stroke-linecap="round"/>
<line x1="865.35" y1="619.80" x2="865.35" y2="620.60" stroke="#000" stroke-width="3.2"/>
<line x1="859.60" y1="619.80" x2="871.10" y2="619.80" stroke="#000" stroke-width="3.2" stroke-linecap="round"/>
<line x1="859.60" y1="620.60" x2="871.10" y2="620.60" stroke="#000" stroke-width="3.2" stroke-linecap="round"/>
<line x1="883.45" y1="619.80" x2="883.45" y2="620.60" stroke="#000" stroke-width="3.2"/>
<line x1="877.70" y1="619.80" x2="889.20" y2="619.80" stroke="#000" stroke-width="3.2" stroke-linecap="round"/>
<line x1="877.70" y1="620.60" x2="889.20" y2="620.60" stroke="#000" stroke-width="3.2" stroke-linecap="round"/>
<polyline points="621,606 734,591.5 847.5,551" fill="none" stroke="#3F6E87" stroke-width="2.6"/>
<line x1="621.00" y1="603.00" x2="621.00" y2="609.00" stroke="#3F6E87" stroke-width="1.4"/>
<line x1="616.00" y1="603.00" x2="626.00" y2="603.00" stroke="#3F6E87" stroke-width="1.4" stroke-linecap="round"/>
<line x1="616.00" y1="609.00" x2="626.00" y2="609.00" stroke="#3F6E87" stroke-width="1.4" stroke-linecap="round"/>
<line x1="734.00" y1="585.00" x2="734.00" y2="598.00" stroke="#3F6E87" stroke-width="1.4"/>
<line x1="728.50" y1="585.00" x2="739.50" y2="585.00" stroke="#3F6E87" stroke-width="1.4" stroke-linecap="round"/>
<line x1="728.50" y1="598.00" x2="739.50" y2="598.00" stroke="#3F6E87" stroke-width="1.4" stroke-linecap="round"/>
<line x1="847.50" y1="540.00" x2="847.50" y2="561.75" stroke="#3F6E87" stroke-width="1.4"/>
<line x1="842.00" y1="540.00" x2="853.00" y2="540.00" stroke="#3F6E87" stroke-width="1.4" stroke-linecap="round"/>
<line x1="842.00" y1="561.75" x2="853.00" y2="561.75" stroke="#3F6E87" stroke-width="1.4" stroke-linecap="round"/>
<rect x="616.00" y="601.00" width="10.00" height="10.00" fill="#4E7890"/>
<rect x="729.00" y="586.50" width="10.00" height="10.00" fill="#4E7890"/>
<rect x="842.50" y="546.00" width="10.00" height="10.00" fill="#4E7890"/>
<rect x="564.50" y="528.00" width="340.50" height="273.00" fill="none" stroke="#000" stroke-width="1.5"/>
<text x="557.50" y="806.00" font-size="14.3" text-anchor="end">80</text>
<line x1="564.50" y1="755.50" x2="570.00" y2="755.50" stroke="#000" stroke-width="1.5"/>
<text x="557.50" y="760.50" font-size="14.3" text-anchor="end">85</text>
<line x1="564.50" y1="710.00" x2="570.00" y2="710.00" stroke="#000" stroke-width="1.5"/>
<text x="557.50" y="715.00" font-size="14.3" text-anchor="end">90</text>
<line x1="564.50" y1="664.50" x2="570.00" y2="664.50" stroke="#000" stroke-width="1.5"/>
<text x="557.50" y="669.50" font-size="14.3" text-anchor="end">95</text>
<line x1="564.50" y1="619.00" x2="570.00" y2="619.00" stroke="#000" stroke-width="1.5"/>
<text x="557.50" y="624.00" font-size="14.3" text-anchor="end">100</text>
<line x1="564.50" y1="573.50" x2="570.00" y2="573.50" stroke="#000" stroke-width="1.5"/>
<text x="557.50" y="578.50" font-size="14.3" text-anchor="end">105</text>
<text x="557.50" y="533.00" font-size="14.3" text-anchor="end">110</text>
<line x1="564.50" y1="778.25" x2="567.50" y2="778.25" stroke="#000" stroke-width="1.5"/>
<line x1="564.50" y1="732.75" x2="567.50" y2="732.75" stroke="#000" stroke-width="1.5"/>
<line x1="564.50" y1="687.25" x2="567.50" y2="687.25" stroke="#000" stroke-width="1.5"/>
<line x1="564.50" y1="641.75" x2="567.50" y2="641.75" stroke="#000" stroke-width="1.5"/>
<line x1="564.50" y1="596.25" x2="567.50" y2="596.25" stroke="#000" stroke-width="1.5"/>
<line x1="564.50" y1="550.75" x2="567.50" y2="550.75" stroke="#000" stroke-width="1.5"/>
<text x="910.50" y="806.00" font-size="14.3">-200</text>
<line x1="905.00" y1="763.00" x2="899.50" y2="763.00" stroke="#000" stroke-width="1.5"/>
<text x="910.50" y="768.00" font-size="14.3">-150</text>
<line x1="905.00" y1="725.00" x2="899.50" y2="725.00" stroke="#000" stroke-width="1.5"/>
<text x="910.50" y="730.00" font-size="14.3">-100</text>
<line x1="905.00" y1="687.00" x2="899.50" y2="687.00" stroke="#000" stroke-width="1.5"/>
<text x="910.50" y="692.00" font-size="14.3">-50</text>
<line x1="905.00" y1="649.00" x2="899.50" y2="649.00" stroke="#000" stroke-width="1.5"/>
<text x="910.50" y="654.00" font-size="14.3">0</text>
<line x1="905.00" y1="611.00" x2="899.50" y2="611.00" stroke="#000" stroke-width="1.5"/>
<text x="910.50" y="616.00" font-size="14.3">50</text>
<line x1="905.00" y1="573.00" x2="899.50" y2="573.00" stroke="#000" stroke-width="1.5"/>
<text x="910.50" y="578.00" font-size="14.3">100</text>
<line x1="905.00" y1="535.00" x2="899.50" y2="535.00" stroke="#000" stroke-width="1.5"/>
<text x="910.50" y="540.00" font-size="14.3">150</text>
<line x1="905.00" y1="782.00" x2="902.00" y2="782.00" stroke="#000" stroke-width="1.5"/>
<line x1="905.00" y1="744.00" x2="902.00" y2="744.00" stroke="#000" stroke-width="1.5"/>
<line x1="905.00" y1="706.00" x2="902.00" y2="706.00" stroke="#000" stroke-width="1.5"/>
<line x1="905.00" y1="668.00" x2="902.00" y2="668.00" stroke="#000" stroke-width="1.5"/>
<line x1="905.00" y1="630.00" x2="902.00" y2="630.00" stroke="#000" stroke-width="1.5"/>
<line x1="905.00" y1="592.00" x2="902.00" y2="592.00" stroke="#000" stroke-width="1.5"/>
<line x1="905.00" y1="554.00" x2="902.00" y2="554.00" stroke="#000" stroke-width="1.5"/>
<line x1="621.25" y1="801.00" x2="621.25" y2="795.50" stroke="#000" stroke-width="1.5"/>
<text x="621.25" y="818.60" font-size="14.3" text-anchor="middle">10</text>
<line x1="734.40" y1="801.00" x2="734.40" y2="795.50" stroke="#000" stroke-width="1.5"/>
<text x="734.40" y="818.60" font-size="14.3" text-anchor="middle">30</text>
<line x1="847.50" y1="801.00" x2="847.50" y2="795.50" stroke="#000" stroke-width="1.5"/>
<text x="847.50" y="818.60" font-size="14.3" text-anchor="middle">60</text>
<line x1="677.80" y1="801.00" x2="677.80" y2="798.00" stroke="#000" stroke-width="1.5"/>
<line x1="790.90" y1="801.00" x2="790.90" y2="798.00" stroke="#000" stroke-width="1.5"/>
<rect x="592.25" y="536.75" width="17.00" height="16.30" fill="#8A1F1B" stroke="#333" stroke-width="0.6"/>
<text x="622.55" y="550.05" font-size="15.2">0.3µm</text>
<rect x="680.45" y="536.75" width="17.00" height="16.30" fill="#C6412D" stroke="#333" stroke-width="0.6"/>
<text x="710.75" y="550.05" font-size="15.2">0.5µm</text>
<rect x="764.45" y="536.75" width="17.00" height="16.30" fill="#E07060" stroke="#333" stroke-width="0.6"/>
<text x="794.75" y="550.05" font-size="15.2">1µm</text>
<rect x="592.25" y="556.45" width="17.00" height="16.30" fill="#A2BFCC" stroke="#333" stroke-width="0.6"/>
<text x="622.55" y="569.75" font-size="15.2">2.5µm</text>
<rect x="680.45" y="556.45" width="17.00" height="16.30" fill="#6F9BB1" stroke="#333" stroke-width="0.6"/>
<text x="710.75" y="569.75" font-size="15.2">10µm</text>
<text transform="translate(530.50 664.00) rotate(-90)" font-size="21.8" text-anchor="middle" textLength="253.0" lengthAdjust="spacingAndGlyphs">Filtration efficiency (%)</text>
<text transform="translate(958.00 663.50) rotate(-90)" font-size="21.5" text-anchor="middle" textLength="205.0" lengthAdjust="spacingAndGlyphs">Pressure drop (Pa)</text>
<text x="589.60" y="843.40" font-size="23" textLength="289.8" lengthAdjust="spacingAndGlyphs">Electrospinning time (Min)</text>
</g>
<g id="panel-d">
<text x="928.00" y="500.00" font-size="48">d</text>
<polyline points="1076.25,622 1218.75,546.75 1361,587" fill="none" stroke="#B8301F" stroke-width="2.8"/>
<line x1="1076.25" y1="619.50" x2="1076.25" y2="624.50" stroke="#B8301F" stroke-width="1.6"/>
<line x1="1073.25" y1="619.50" x2="1079.25" y2="619.50" stroke="#B8301F" stroke-width="1.6" stroke-linecap="round"/>
<line x1="1073.25" y1="624.50" x2="1079.25" y2="624.50" stroke="#B8301F" stroke-width="1.6" stroke-linecap="round"/>
<line x1="1218.75" y1="528.75" x2="1218.75" y2="565.00" stroke="#B8301F" stroke-width="2.2"/>
<line x1="1213.75" y1="528.75" x2="1223.75" y2="528.75" stroke="#B8301F" stroke-width="2.2" stroke-linecap="round"/>
<line x1="1213.75" y1="565.00" x2="1223.75" y2="565.00" stroke="#B8301F" stroke-width="2.2" stroke-linecap="round"/>
<line x1="1361.00" y1="569.50" x2="1361.00" y2="604.25" stroke="#B8301F" stroke-width="2.2"/>
<line x1="1356.00" y1="569.50" x2="1366.00" y2="569.50" stroke="#B8301F" stroke-width="2.2" stroke-linecap="round"/>
<line x1="1356.00" y1="604.25" x2="1366.00" y2="604.25" stroke="#B8301F" stroke-width="2.2" stroke-linecap="round"/>
<circle cx="1076.25" cy="622" r="4" fill="#B8301F"/>
<circle cx="1218.75" cy="546.75" r="5.2" fill="#B8301F"/>
<circle cx="1361" cy="587" r="5.2" fill="#B8301F"/>
<rect x="1047.50" y="519.00" width="341.80" height="121.80" fill="none" stroke="#000" stroke-width="3"/>
<line x1="1047.50" y1="627.25" x2="1053.00" y2="627.25" stroke="#000" stroke-width="2"/>
<text x="1017.70" y="631.25" font-size="11" textLength="23.6" lengthAdjust="spacingAndGlyphs">0.00</text>
<line x1="1047.50" y1="573.17" x2="1053.00" y2="573.17" stroke="#000" stroke-width="2"/>
<text x="1017.70" y="577.17" font-size="11" textLength="23.6" lengthAdjust="spacingAndGlyphs">0.04</text>
<text x="1017.70" y="523.09" font-size="11" textLength="23.6" lengthAdjust="spacingAndGlyphs">0.08</text>
<line x1="1047.50" y1="600.21" x2="1051.00" y2="600.21" stroke="#000" stroke-width="2"/>
<line x1="1047.50" y1="546.13" x2="1051.00" y2="546.13" stroke="#000" stroke-width="2"/>
<text x="1047.50" y="657.50" font-size="11.6" text-anchor="middle">4</text>
<line x1="1104.30" y1="640.80" x2="1104.30" y2="635.80" stroke="#000" stroke-width="2"/>
<text x="1104.30" y="657.50" font-size="11.6" text-anchor="middle">6</text>
<line x1="1161.10" y1="640.80" x2="1161.10" y2="635.80" stroke="#000" stroke-width="2"/>
<text x="1161.10" y="657.50" font-size="11.6" text-anchor="middle">8</text>
<line x1="1217.90" y1="640.80" x2="1217.90" y2="635.80" stroke="#000" stroke-width="2"/>
<text x="1217.90" y="657.50" font-size="11.6" text-anchor="middle">10</text>
<line x1="1274.70" y1="640.80" x2="1274.70" y2="635.80" stroke="#000" stroke-width="2"/>
<text x="1274.70" y="657.50" font-size="11.6" text-anchor="middle">12</text>
<line x1="1331.50" y1="640.80" x2="1331.50" y2="635.80" stroke="#000" stroke-width="2"/>
<text x="1331.50" y="657.50" font-size="11.6" text-anchor="middle">14</text>
<text x="1388.30" y="657.50" font-size="11.6" text-anchor="middle">16</text>
<line x1="1075.90" y1="640.80" x2="1075.90" y2="637.80" stroke="#000" stroke-width="2"/>
<line x1="1132.70" y1="640.80" x2="1132.70" y2="637.80" stroke="#000" stroke-width="2"/>
<line x1="1189.50" y1="640.80" x2="1189.50" y2="637.80" stroke="#000" stroke-width="2"/>
<line x1="1246.30" y1="640.80" x2="1246.30" y2="637.80" stroke="#000" stroke-width="2"/>
<line x1="1303.10" y1="640.80" x2="1303.10" y2="637.80" stroke="#000" stroke-width="2"/>
<line x1="1359.90" y1="640.80" x2="1359.90" y2="637.80" stroke="#000" stroke-width="2"/>
<text x="1092.50" y="672.50" font-size="21" textLength="251.5" lengthAdjust="spacingAndGlyphs">PAN concentration (wt%)</text>
<polyline points="1076.25,739.5 1190,718.25 1361,753" fill="none" stroke="#B8301F" stroke-width="2.8"/>
<line x1="1076.25" y1="717.50" x2="1076.25" y2="762.00" stroke="#B8301F" stroke-width="2.2"/>
<line x1="1071.25" y1="717.50" x2="1081.25" y2="717.50" stroke="#B8301F" stroke-width="2.2" stroke-linecap="round"/>
<line x1="1071.25" y1="762.00" x2="1081.25" y2="762.00" stroke="#B8301F" stroke-width="2.2" stroke-linecap="round"/>
<line x1="1190.00" y1="691.25" x2="1190.00" y2="745.50" stroke="#B8301F" stroke-width="2.2"/>
<line x1="1185.00" y1="691.25" x2="1195.00" y2="691.25" stroke="#B8301F" stroke-width="2.2" stroke-linecap="round"/>
<line x1="1185.00" y1="745.50" x2="1195.00" y2="745.50" stroke="#B8301F" stroke-width="2.2" stroke-linecap="round"/>
<line x1="1361.00" y1="738.00" x2="1361.00" y2="768.00" stroke="#B8301F" stroke-width="2.2"/>
<line x1="1356.00" y1="738.00" x2="1366.00" y2="738.00" stroke="#B8301F" stroke-width="2.2" stroke-linecap="round"/>
<line x1="1356.00" y1="768.00" x2="1366.00" y2="768.00" stroke="#B8301F" stroke-width="2.2" stroke-linecap="round"/>
<circle cx="1076.25" cy="739.5" r="5.2" fill="#B8301F"/>
<circle cx="1190" cy="718.25" r="5.2" fill="#B8301F"/>
<circle cx="1361" cy="753" r="5.2" fill="#B8301F"/>
<rect x="1047.50" y="677.00" width="341.80" height="122.00" fill="none" stroke="#000" stroke-width="3"/>
<text x="1017.70" y="803.00" font-size="11" textLength="23.6" lengthAdjust="spacingAndGlyphs">0.02</text>
<line x1="1047.50" y1="758.26" x2="1053.00" y2="758.26" stroke="#000" stroke-width="2"/>
<text x="1017.70" y="762.26" font-size="11" textLength="23.6" lengthAdjust="spacingAndGlyphs">0.04</text>
<line x1="1047.50" y1="717.52" x2="1053.00" y2="717.52" stroke="#000" stroke-width="2"/>
<text x="1017.70" y="721.52" font-size="11" textLength="23.6" lengthAdjust="spacingAndGlyphs">0.06</text>
<text x="1017.70" y="680.78" font-size="11" textLength="23.6" lengthAdjust="spacingAndGlyphs">0.08</text>
<line x1="1047.50" y1="778.63" x2="1051.00" y2="778.63" stroke="#000" stroke-width="2"/>
<line x1="1047.50" y1="737.89" x2="1051.00" y2="737.89" stroke="#000" stroke-width="2"/>
<line x1="1047.50" y1="697.15" x2="1051.00" y2="697.15" stroke="#000" stroke-width="2"/>
<line x1="1076.25" y1="799.00" x2="1076.25" y2="794.00" stroke="#000" stroke-width="2"/>
<text x="1076.25" y="814.50" font-size="11.6" text-anchor="middle">10</text>
<line x1="1133.15" y1="799.00" x2="1133.15" y2="794.00" stroke="#000" stroke-width="2"/>
<text x="1133.15" y="814.50" font-size="11.6" text-anchor="middle">20</text>
<line x1="1190.05" y1="799.00" x2="1190.05" y2="794.00" stroke="#000" stroke-width="2"/>
<text x="1190.05" y="814.50" font-size="11.6" text-anchor="middle">30</text>
<line x1="1246.95" y1="799.00" x2="1246.95" y2="794.00" stroke="#000" stroke-width="2"/>
<text x="1246.95" y="814.50" font-size="11.6" text-anchor="middle">40</text>
<line x1="1303.85" y1="799.00" x2="1303.85" y2="794.00" stroke="#000" stroke-width="2"/>
<text x="1303.85" y="814.50" font-size="11.6" text-anchor="middle">50</text>
<line x1="1360.75" y1="799.00" x2="1360.75" y2="794.00" stroke="#000" stroke-width="2"/>
<text x="1360.75" y="814.50" font-size="11.6" text-anchor="middle">60</text>
<line x1="1104.70" y1="799.00" x2="1104.70" y2="796.00" stroke="#000" stroke-width="2"/>
<line x1="1161.60" y1="799.00" x2="1161.60" y2="796.00" stroke="#000" stroke-width="2"/>
<line x1="1218.50" y1="799.00" x2="1218.50" y2="796.00" stroke="#000" stroke-width="2"/>
<line x1="1275.40" y1="799.00" x2="1275.40" y2="796.00" stroke="#000" stroke-width="2"/>
<line x1="1332.30" y1="799.00" x2="1332.30" y2="796.00" stroke="#000" stroke-width="2"/>
<text x="1086.40" y="833.00" font-size="21" textLength="264.4" lengthAdjust="spacingAndGlyphs">Electrospinning time (Min)</text>
<text transform="translate(1009 664.5) rotate(-90)" font-size="23" text-anchor="middle" textLength="299" lengthAdjust="spacingAndGlyphs">Quality factor (@0.3µm Pa<tspan dy="-9" font-size="13">-1</tspan><tspan dy="9">)</tspan></text>
</g>
<g id="panel-e">
<defs>
<filter id="semA" x="0" y="0" width="100%" height="100%" color-interpolation-filters="sRGB">
<feTurbulence type="fractalNoise" baseFrequency="0.22 0.3" numOctaves="3" seed="7" result="n"/>
<feColorMatrix in="n" type="matrix" values="0.9 0.9 0.9 0 -1.02  0.9 0.9 0.9 0 -1.02  0.9 0.9 0.9 0 -1.02  0 0 0 0 1"/>
<feComposite operator="in" in2="SourceGraphic"/></filter>
<filter id="semB" x="0" y="0" width="100%" height="100%" color-interpolation-filters="sRGB">
<feTurbulence type="fractalNoise" baseFrequency="0.55" numOctaves="2" seed="11" result="n"/>
<feColorMatrix in="n" type="matrix" values="1.8 1.8 1.8 0 -2.48  1.8 1.8 1.8 0 -2.48  1.8 1.8 1.8 0 -2.48  0 0 0 0 1"/>
<feComposite operator="in" in2="SourceGraphic"/></filter>
<filter id="blur1"><feGaussianBlur stdDeviation="0.6"/></filter>
<linearGradient id="rainbow" x1="0" y1="0" x2="0" y2="1"><stop offset="0" stop-color="#7a4fd0"/><stop offset="0.3" stop-color="#3fa0e8"/><stop offset="0.55" stop-color="#5fd060"/><stop offset="0.8" stop-color="#f0e040"/><stop offset="1" stop-color="#f08030"/></linearGradient>
<linearGradient id="sheet" x1="0" y1="0" x2="1" y2="1"><stop offset="0" stop-color="#b9b4ae"/><stop offset="0.5" stop-color="#8d8883"/><stop offset="1" stop-color="#c9c6c2"/></linearGradient>
<clipPath id="clipGe"><rect x="341.7" y="1004.2" width="94.6" height="71" rx="6"/></clipPath>
<clipPath id="clipLIG"><rect x="461" y="984.7" width="93" height="74.8"/></clipPath>
<clipPath id="clipCu"><rect x="579.4" y="1021.6" width="97.6" height="103.7"/></clipPath>
<clipPath id="clipGeS"><rect x="342.9" y="1083" width="93.8" height="68.8"/></clipPath>
<pattern id="mesh" width="4.5" height="4.5" patternUnits="userSpaceOnUse" patternTransform="rotate(18)"><rect width="4.5" height="4.5" fill="#3a1f1a"/><path d="M0 0L4.5 4.5M4.5 0L0 4.5" stroke="#6e342b" stroke-width="0.7"/><circle cx="2.2" cy="2.2" r="0.6" fill="#1d0f0c"/></pattern>
</defs>
<text x="31.00" y="908.00" font-size="48">e</text>
<g id="inset-cu">
<path d="M155 1085 L163 1086 C184 1100 194 1115 193.5 1135 C193 1150 187 1158 179.5 1164 L172 1160 C178 1152 181 1145 181 1135 C181 1112 170 1098 155 1085Z" fill="#3b3a2a"/>
<path d="M143 1086 L150 1080.5 C170 1098 181 1112 181 1135 C181 1152 175 1162 168 1170.5 L160 1164 C166 1158 170 1150 170 1135 C170 1115 160 1100 143 1086Z" fill="#f2402f"/>
<path d="M131.5 1093 L143 1086 C160 1100 170 1115 170 1135 C170 1150 166 1158 160 1164 L147 1160 C138 1150 135 1140 135 1117Z" fill="#f3e6c6"/>
<path d="M154 1103.4h-13v-2.4l-7 4 7 4v-2.4h13z" fill="#f2402f"/>
<path d="M160 1115.4h-13v-2.4l-7 4 7 4v-2.4h13z" fill="#f2402f"/>
<path d="M162 1126.4h-13v-2.4l-7 4 7 4v-2.4h13z" fill="#f2402f"/>
<path d="M156 1137.4h-13v-2.4l-7 4 7 4v-2.4h13z" fill="#f2402f"/>
<path d="M160 1147.4h-13v-2.4l-7 4 7 4v-2.4h13z" fill="#f2402f"/>
<path d="M176 1099.5h5v-2.2l5 3.7-5 3.7v-2.2h-5z" fill="#f2402f"/>
<path d="M181 1112.5h5v-2.2l5 3.7-5 3.7v-2.2h-5z" fill="#f2402f"/>
<path d="M183 1126.5h5v-2.2l5 3.7-5 3.7v-2.2h-5z" fill="#f2402f"/>
<circle cx="153.8" cy="1140.3" r="1.6" fill="#b0202a" opacity="0.8"/>
<circle cx="158.5" cy="1151.7" r="1.6" fill="#b0202a" opacity="0.8"/>
<circle cx="157.0" cy="1150.6" r="1.6" fill="#b0202a" opacity="0.8"/>
<circle cx="137.8" cy="1124.5" r="1.6" fill="#b0202a" opacity="0.8"/>
<circle cx="162.5" cy="1135.0" r="1.6" fill="#b0202a" opacity="0.8"/>
<circle cx="161.3" cy="1104.5" r="1.6" fill="#b0202a" opacity="0.8"/>
<circle cx="149.7" cy="1112.1" r="1.6" fill="#b0202a" opacity="0.8"/>
<circle cx="151.7" cy="1130.7" r="1.6" fill="#b0202a" opacity="0.8"/>
<circle cx="137.4" cy="1110.4" r="1.6" fill="#b0202a" opacity="0.8"/>
<circle cx="144.5" cy="1150.2" r="1.6" fill="#b0202a" opacity="0.8"/>
<circle cx="157.7" cy="1107.1" r="1.6" fill="#b0202a" opacity="0.8"/>
<circle cx="158.5" cy="1105.9" r="1.6" fill="#b0202a" opacity="0.8"/>
<circle cx="153.7" cy="1105.2" r="1.6" fill="#b0202a" opacity="0.8"/>
<circle cx="137.0" cy="1147.7" r="1.6" fill="#b0202a" opacity="0.8"/>
<rect x="146.4" y="1089.4" width="3.2" height="3.2" fill="#9fc6d8" stroke="#5a7d8f" stroke-width="0.4"/>
<rect x="156.4" y="1097.4" width="3.2" height="3.2" fill="#9fc6d8" stroke="#5a7d8f" stroke-width="0.4"/>
<rect x="164.4" y="1108.4" width="3.2" height="3.2" fill="#9fc6d8" stroke="#5a7d8f" stroke-width="0.4"/>
<rect x="168.4" y="1121.4" width="3.2" height="3.2" fill="#9fc6d8" stroke="#5a7d8f" stroke-width="0.4"/>
<rect x="169.4" y="1135.4" width="3.2" height="3.2" fill="#9fc6d8" stroke="#5a7d8f" stroke-width="0.4"/>
<rect x="165.4" y="1148.4" width="3.2" height="3.2" fill="#9fc6d8" stroke="#5a7d8f" stroke-width="0.4"/>
<rect x="158.4" y="1158.4" width="3.2" height="3.2" fill="#9fc6d8" stroke="#5a7d8f" stroke-width="0.4"/>
<text x="142.50" y="1086.00" font-size="5.6" fill="#6a3fb0" font-weight="normal">Sterilization</text>
<text x="160.00" y="1108.50" font-size="4.6" fill="#333" font-weight="normal">Heat</text>
<text x="163.00" y="1142.00" font-size="4.6" fill="#333" font-weight="normal">Heat</text>
<text x="123.00" y="1162.50" font-size="5.4" fill="#2d9a48">1<tspan font-size="3" dy="-1.5">st</tspan><tspan dy="1.5">: Air filter</tspan></text>
<text x="147.00" y="1170.50" font-size="5.6" fill="#e8262a">2<tspan font-size="3" dy="-1.5">nd</tspan><tspan dy="1.5">: Heater</tspan></text>
<text x="189.00" y="1141.00" font-size="4.8" fill="#333" font-weight="normal">3<tspan font-size="3" dy="-1.5">rd</tspan><tspan dy="1.5">:</tspan></text>
<text x="181.00" y="1150.00" font-size="5.2" fill="#333" font-weight="normal">Insulator</text>
</g>
<g id="inset-cnt">
<path d="M217 1073 C245 1064 262 1060 282 1068 L303 1085 C285 1078 262 1082 240 1090Z" fill="#a9a5a0"/>
<path d="M218 1063 C246 1052 266 1050 284 1058 L305 1074 C287 1068 264 1071 242 1080Z" fill="url(#sheet)" stroke="#77726e" stroke-width="0.4"/>
<path d="M252 1066 L272 1030 L300 1052Z" fill="#555" opacity="0.55"/>
<path d="M218 1056l22-9 2 1.6-22 9z" fill="#a8482a"/>
<path d="M265 1080l26-12 2 3-26 12z" fill="#c8552c"/>
<circle cx="288" cy="1042" r="18.5" fill="#f4f4f2" stroke="#555" stroke-width="0.7"/>
<path d="M272.5 1051 A18.5 18.5 0 0 0 305 1049 C296 1044 284 1050 272.5 1051Z" fill="#6d6d6d"/>
<circle cx="279" cy="1040" r="7" fill="#c9e2ec" stroke="#7b9aa8" stroke-width="0.5"/><circle cx="298" cy="1038" r="7.5" fill="#c9e2ec" stroke="#7b9aa8" stroke-width="0.5"/>
<circle cx="277" cy="1038" r="1.5" fill="#4da653"/>
<circle cx="281" cy="1043" r="1.5" fill="#4da653"/>
<circle cx="296" cy="1035" r="1.5" fill="#4da653"/>
<circle cx="300" cy="1041" r="1.5" fill="#4da653"/>
<circle cx="287" cy="1034" r="1.5" fill="#4da653"/>
<circle cx="295" cy="1043" r="1.5" fill="#4da653"/>
<text x="258.00" y="1029.00" font-size="2.6" fill="#444" font-weight="normal">CNTs</text>
<text x="248.00" y="1034.00" font-size="2.6" fill="#444" font-weight="normal">NaCl-PS</text>
<text x="242.00" y="1040.00" font-size="2.6" fill="#444" font-weight="normal">UAN</text>
<text x="297.00" y="1067.00" font-size="2.6" fill="#444" font-weight="normal">Electrode</text>
<text x="295.00" y="1083.00" font-size="2.6" fill="#444" font-weight="normal">UAN filter</text>
<text x="243.00" y="1094.00" font-size="2.6" fill="#444" font-weight="normal">Polymer</text>
<text x="243.00" y="1098.00" font-size="2.6" fill="#444" font-weight="normal">Support</text>
<line x1="217.00" y1="1097.50" x2="323.00" y2="1097.50" stroke="#d8d8d8" stroke-width="0.6"/>
<rect x="218.00" y="1103.50" width="94.00" height="59.30" fill="#3a3a3a"/>
<rect x="218.00" y="1103.50" width="94.00" height="59.30" fill="#fff" filter="url(#semA)"/>
<ellipse cx="304.2" cy="1155.3" rx="0.9" ry="0.9" fill="#f2f2f2" opacity="0.9"/>
<ellipse cx="293.9" cy="1144.5" rx="1.7" ry="1.1" fill="#f2f2f2" opacity="0.9"/>
<ellipse cx="274.1" cy="1137.9" rx="1.6" ry="1.0" fill="#f2f2f2" opacity="0.9"/>
<ellipse cx="259.0" cy="1127.1" rx="1.8" ry="1.8" fill="#f2f2f2" opacity="0.9"/>
<ellipse cx="303.6" cy="1134.8" rx="1.4" ry="1.1" fill="#f2f2f2" opacity="0.9"/>
<ellipse cx="225.1" cy="1108.4" rx="1.5" ry="1.1" fill="#f2f2f2" opacity="0.9"/>
<ellipse cx="254.7" cy="1152.5" rx="1.5" ry="1.4" fill="#f2f2f2" opacity="0.9"/>
<ellipse cx="242.3" cy="1108.2" rx="1.3" ry="0.9" fill="#f2f2f2" opacity="0.9"/>
<ellipse cx="265.9" cy="1157.9" rx="1.7" ry="1.0" fill="#f2f2f2" opacity="0.9"/>
<ellipse cx="298.8" cy="1147.6" rx="1.8" ry="1.7" fill="#f2f2f2" opacity="0.9"/>
<ellipse cx="287.6" cy="1147.3" rx="1.3" ry="1.8" fill="#f2f2f2" opacity="0.9"/>
<ellipse cx="304.7" cy="1115.2" rx="1.9" ry="1.5" fill="#f2f2f2" opacity="0.9"/>
<ellipse cx="261.7" cy="1134.0" rx="1.5" ry="1.7" fill="#f2f2f2" opacity="0.9"/>
<ellipse cx="265.1" cy="1149.4" rx="1.3" ry="1.7" fill="#f2f2f2" opacity="0.9"/>
<ellipse cx="299.4" cy="1130.5" rx="1.6" ry="1.7" fill="#f2f2f2" opacity="0.9"/>
<ellipse cx="284.2" cy="1131.8" rx="1.1" ry="1.1" fill="#f2f2f2" opacity="0.9"/>
<line x1="275.4" y1="1113.3" x2="300.9" y2="1136.3" stroke="#8a8a8a" stroke-width="1.2" opacity="0.7"/>
<line x1="292.7" y1="1121.3" x2="312.0" y2="1157.8" stroke="#8a8a8a" stroke-width="1.2" opacity="0.7"/>
<line x1="259.3" y1="1133.0" x2="303.2" y2="1145.3" stroke="#8a8a8a" stroke-width="1.2" opacity="0.7"/>
<line x1="243.6" y1="1115.6" x2="301.3" y2="1116.9" stroke="#8a8a8a" stroke-width="1.2" opacity="0.7"/>
<line x1="269.1" y1="1108.2" x2="311.4" y2="1135.7" stroke="#8a8a8a" stroke-width="1.2" opacity="0.7"/>
<line x1="292.4" y1="1114.7" x2="312.0" y2="1126.3" stroke="#8a8a8a" stroke-width="1.2" opacity="0.7"/>
<line x1="271.5" y1="1119.3" x2="312.0" y2="1104.0" stroke="#8a8a8a" stroke-width="1.2" opacity="0.7"/>
<line x1="226.7" y1="1133.3" x2="253.7" y2="1153.2" stroke="#8a8a8a" stroke-width="1.2" opacity="0.7"/>
<line x1="235.3" y1="1153.3" x2="284.9" y2="1146.4" stroke="#8a8a8a" stroke-width="1.2" opacity="0.7"/>
<line x1="222.50" y1="1157.00" x2="254.00" y2="1157.00" stroke="#fff" stroke-width="1.6"/>
<text x="238.00" y="1155.50" font-size="4.6" text-anchor="middle" fill="#fff">500 nm</text>
</g>
<g id="inset-gefm">
<g clip-path="url(#clipGe)"><rect x="341.7" y="1004.2" width="94.6" height="71" fill="#8a9299"/>
<rect x="341.7" y="1004.2" width="94.6" height="20" fill="#7d858c"/>
<path d="M344 1034 C350 1026 357 1030 362 1040 L372 1062 L392 1070 L410 1060 L417 1036 C421 1026 430 1028 431 1038 L434 1062 C436 1072 425 1078 410 1078 L360 1078 C352 1072 347 1058 344 1034Z" fill="#55a7dd"/>
<path d="M346 1036 C352 1030 356 1034 360 1042 L366 1058 C356 1056 349 1048 346 1036Z" fill="#7cc0ea"/>
<path d="M384 1007 L420 1034 L390 1069 L353 1039Z" fill="#15171a"/>
</g>
<text x="343.50" y="1013.50" font-size="6.5" fill="#fff">C</text>
<text x="344.50" y="1071.00" font-size="5.5" fill="#fff">2 cm</text>
<line x1="345.00" y1="1073.00" x2="357.00" y2="1073.00" stroke="#fff" stroke-width="1.3"/>
<g clip-path="url(#clipGeS)"><rect x="342.9" y="1083" width="93.8" height="68.8" fill="#262626"/>
<rect x="342.90" y="1083.00" width="93.80" height="68.80" fill="#fff" filter="url(#semA)" opacity="0.4"/>
<line x1="380.9" y1="1107.1" x2="455.3" y2="1141.7" stroke="#6d6d6d" stroke-width="0.5" opacity="0.85"/>
<line x1="385.3" y1="1148.1" x2="446.5" y2="1164.0" stroke="#8a8a8a" stroke-width="1.4" opacity="0.85"/>
<line x1="410.1" y1="1091.2" x2="324.3" y2="1105.9" stroke="#a5a5a5" stroke-width="1.0" opacity="0.85"/>
<line x1="348.5" y1="1082.0" x2="423.8" y2="1115.3" stroke="#8a8a8a" stroke-width="1.4" opacity="0.85"/>
<line x1="415.2" y1="1107.9" x2="390.0" y2="1133.8" stroke="#a5a5a5" stroke-width="0.8" opacity="0.85"/>
<line x1="404.2" y1="1134.6" x2="412.7" y2="1168.8" stroke="#a5a5a5" stroke-width="0.8" opacity="0.85"/>
<line x1="373.6" y1="1104.6" x2="445.5" y2="1114.5" stroke="#bdbdbd" stroke-width="0.5" opacity="0.85"/>
<line x1="336.0" y1="1107.5" x2="336.8" y2="1138.9" stroke="#8a8a8a" stroke-width="1.0" opacity="0.85"/>
<line x1="436.0" y1="1078.3" x2="405.1" y2="1106.5" stroke="#6d6d6d" stroke-width="0.6" opacity="0.85"/>
<line x1="330.9" y1="1084.5" x2="327.0" y2="1115.3" stroke="#bdbdbd" stroke-width="0.5" opacity="0.85"/>
<line x1="389.1" y1="1093.5" x2="429.7" y2="1102.4" stroke="#a5a5a5" stroke-width="0.5" opacity="0.85"/>
<line x1="349.0" y1="1125.5" x2="316.0" y2="1129.8" stroke="#a5a5a5" stroke-width="1.4" opacity="0.85"/>
<line x1="412.0" y1="1135.5" x2="404.5" y2="1166.6" stroke="#a5a5a5" stroke-width="1.0" opacity="0.85"/>
<line x1="347.8" y1="1117.4" x2="293.3" y2="1176.9" stroke="#8a8a8a" stroke-width="1.4" opacity="0.85"/>
<line x1="425.4" y1="1086.6" x2="377.0" y2="1105.4" stroke="#bdbdbd" stroke-width="0.6" opacity="0.85"/>
<line x1="351.9" y1="1151.9" x2="315.1" y2="1189.6" stroke="#6d6d6d" stroke-width="1.4" opacity="0.85"/>
<line x1="330.1" y1="1086.7" x2="365.5" y2="1116.3" stroke="#6d6d6d" stroke-width="0.5" opacity="0.85"/>
<line x1="399.2" y1="1086.0" x2="374.7" y2="1105.8" stroke="#bdbdbd" stroke-width="1.4" opacity="0.85"/>
<line x1="384.7" y1="1133.3" x2="437.5" y2="1185.6" stroke="#a5a5a5" stroke-width="1.0" opacity="0.85"/>
<line x1="340.5" y1="1137.3" x2="337.8" y2="1224.6" stroke="#6d6d6d" stroke-width="1.4" opacity="0.85"/>
<line x1="345.3" y1="1100.6" x2="298.3" y2="1168.5" stroke="#8a8a8a" stroke-width="0.5" opacity="0.85"/>
<line x1="433.3" y1="1141.1" x2="460.4" y2="1170.5" stroke="#a5a5a5" stroke-width="0.5" opacity="0.85"/>
<line x1="331.3" y1="1082.8" x2="373.6" y2="1115.3" stroke="#8a8a8a" stroke-width="1.4" opacity="0.85"/>
<line x1="436.3" y1="1105.7" x2="493.9" y2="1132.9" stroke="#8a8a8a" stroke-width="0.6" opacity="0.85"/>
<line x1="412.2" y1="1101.1" x2="463.7" y2="1121.1" stroke="#bdbdbd" stroke-width="0.6" opacity="0.85"/>
<line x1="394.7" y1="1140.6" x2="371.9" y2="1181.1" stroke="#bdbdbd" stroke-width="1.4" opacity="0.85"/>
<line x1="368.4" y1="1150.0" x2="392.7" y2="1178.8" stroke="#a5a5a5" stroke-width="0.5" opacity="0.85"/>
<line x1="415.8" y1="1095.3" x2="456.3" y2="1097.0" stroke="#bdbdbd" stroke-width="1.0" opacity="0.85"/>
<line x1="339.2" y1="1120.8" x2="326.0" y2="1164.6" stroke="#8a8a8a" stroke-width="0.5" opacity="0.85"/>
<line x1="393.9" y1="1123.7" x2="403.6" y2="1171.2" stroke="#8a8a8a" stroke-width="1.4" opacity="0.85"/>
<line x1="426.5" y1="1122.8" x2="393.0" y2="1127.5" stroke="#a5a5a5" stroke-width="0.6" opacity="0.85"/>
<line x1="341.4" y1="1132.6" x2="350.0" y2="1191.3" stroke="#8a8a8a" stroke-width="0.5" opacity="0.85"/>
<line x1="371.0" y1="1146.5" x2="430.4" y2="1199.2" stroke="#bdbdbd" stroke-width="1.4" opacity="0.85"/>
<line x1="426.3" y1="1080.8" x2="406.3" y2="1144.5" stroke="#bdbdbd" stroke-width="1.0" opacity="0.85"/>
<line x1="394.7" y1="1084.3" x2="469.5" y2="1092.3" stroke="#8a8a8a" stroke-width="0.5" opacity="0.85"/>
<line x1="333.3" y1="1126.7" x2="324.7" y2="1184.6" stroke="#6d6d6d" stroke-width="0.5" opacity="0.85"/>
<line x1="339.3" y1="1103.1" x2="345.8" y2="1159.7" stroke="#bdbdbd" stroke-width="0.6" opacity="0.85"/>
<line x1="438.5" y1="1143.0" x2="486.6" y2="1159.6" stroke="#bdbdbd" stroke-width="0.6" opacity="0.85"/>
<line x1="415.8" y1="1093.0" x2="443.9" y2="1116.4" stroke="#8a8a8a" stroke-width="0.5" opacity="0.85"/>
<line x1="433.2" y1="1154.1" x2="462.2" y2="1222.7" stroke="#a5a5a5" stroke-width="1.0" opacity="0.85"/>
<line x1="370.6" y1="1127.5" x2="404.1" y2="1158.2" stroke="#a5a5a5" stroke-width="1.4" opacity="0.85"/>
<line x1="331.7" y1="1097.8" x2="301.8" y2="1180.1" stroke="#bdbdbd" stroke-width="1.4" opacity="0.85"/>
<line x1="336.4" y1="1097.6" x2="277.1" y2="1127.4" stroke="#8a8a8a" stroke-width="0.6" opacity="0.85"/>
<line x1="404.9" y1="1088.3" x2="445.8" y2="1093.3" stroke="#bdbdbd" stroke-width="0.8" opacity="0.85"/>
<line x1="432.4" y1="1146.4" x2="347.1" y2="1168.3" stroke="#8a8a8a" stroke-width="0.5" opacity="0.85"/>
<line x1="364.9" y1="1097.3" x2="345.8" y2="1153.6" stroke="#bdbdbd" stroke-width="0.8" opacity="0.85"/>
<line x1="377.3" y1="1084.1" x2="411.3" y2="1131.1" stroke="#bdbdbd" stroke-width="1.4" opacity="0.85"/>
<line x1="378.4" y1="1092.5" x2="393.4" y2="1139.7" stroke="#6d6d6d" stroke-width="0.6" opacity="0.85"/>
<line x1="389.8" y1="1092.7" x2="346.9" y2="1147.4" stroke="#8a8a8a" stroke-width="0.6" opacity="0.85"/>
<line x1="367.2" y1="1112.9" x2="342.3" y2="1184.4" stroke="#a5a5a5" stroke-width="1.0" opacity="0.85"/>
<line x1="406.7" y1="1138.2" x2="474.9" y2="1154.7" stroke="#bdbdbd" stroke-width="1.0" opacity="0.85"/>
<line x1="355.0" y1="1134.7" x2="297.5" y2="1187.4" stroke="#8a8a8a" stroke-width="1.4" opacity="0.85"/>
<line x1="381.0" y1="1078.2" x2="340.1" y2="1089.1" stroke="#8a8a8a" stroke-width="0.6" opacity="0.85"/>
<line x1="438.2" y1="1102.5" x2="485.8" y2="1116.6" stroke="#bdbdbd" stroke-width="0.5" opacity="0.85"/>
<line x1="401.4" y1="1108.8" x2="344.7" y2="1129.6" stroke="#6d6d6d" stroke-width="0.6" opacity="0.85"/>
<line x1="369.5" y1="1099.1" x2="397.9" y2="1143.9" stroke="#a5a5a5" stroke-width="0.6" opacity="0.85"/>
<line x1="392.8" y1="1078.7" x2="375.7" y2="1104.9" stroke="#bdbdbd" stroke-width="1.0" opacity="0.85"/>
<line x1="429.9" y1="1136.9" x2="455.2" y2="1166.1" stroke="#bdbdbd" stroke-width="1.0" opacity="0.85"/>
<line x1="404.8" y1="1096.1" x2="442.7" y2="1160.7" stroke="#8a8a8a" stroke-width="0.8" opacity="0.85"/>
<line x1="390.0" y1="1150.5" x2="431.0" y2="1153.8" stroke="#bdbdbd" stroke-width="0.5" opacity="0.85"/>
<line x1="344.8" y1="1094.4" x2="333.4" y2="1177.8" stroke="#a5a5a5" stroke-width="0.6" opacity="0.85"/>
<line x1="422.3" y1="1122.4" x2="485.6" y2="1124.3" stroke="#6d6d6d" stroke-width="0.5" opacity="0.85"/>
<line x1="384.6" y1="1082.8" x2="340.2" y2="1113.3" stroke="#bdbdbd" stroke-width="1.0" opacity="0.85"/>
<line x1="399.5" y1="1153.2" x2="384.7" y2="1237.0" stroke="#8a8a8a" stroke-width="1.4" opacity="0.85"/>
<line x1="428.0" y1="1098.3" x2="469.5" y2="1139.1" stroke="#a5a5a5" stroke-width="1.4" opacity="0.85"/>
<line x1="413.7" y1="1078.9" x2="389.2" y2="1122.7" stroke="#a5a5a5" stroke-width="0.6" opacity="0.85"/>
<line x1="333.1" y1="1133.9" x2="309.4" y2="1218.9" stroke="#6d6d6d" stroke-width="0.8" opacity="0.85"/>
<line x1="407.8" y1="1103.8" x2="418.9" y2="1136.5" stroke="#bdbdbd" stroke-width="0.6" opacity="0.85"/>
<line x1="381.1" y1="1132.2" x2="425.3" y2="1199.2" stroke="#a5a5a5" stroke-width="1.4" opacity="0.85"/>
<line x1="400.1" y1="1140.0" x2="348.7" y2="1152.5" stroke="#a5a5a5" stroke-width="1.4" opacity="0.85"/>
<line x1="421.4" y1="1080.6" x2="383.0" y2="1080.7" stroke="#bdbdbd" stroke-width="1.0" opacity="0.85"/>
<line x1="412.3" y1="1143.2" x2="379.0" y2="1201.4" stroke="#bdbdbd" stroke-width="1.4" opacity="0.85"/>
<line x1="387.2" y1="1097.8" x2="357.1" y2="1179.4" stroke="#8a8a8a" stroke-width="0.8" opacity="0.85"/>
<line x1="439.8" y1="1135.6" x2="414.1" y2="1187.4" stroke="#a5a5a5" stroke-width="0.5" opacity="0.85"/>
<line x1="424.7" y1="1093.4" x2="395.7" y2="1128.3" stroke="#a5a5a5" stroke-width="0.8" opacity="0.85"/>
<line x1="331.3" y1="1130.2" x2="343.5" y2="1174.8" stroke="#6d6d6d" stroke-width="0.8" opacity="0.85"/>
<line x1="391.6" y1="1090.5" x2="371.2" y2="1122.6" stroke="#8a8a8a" stroke-width="0.6" opacity="0.85"/>
<line x1="335.2" y1="1079.5" x2="271.5" y2="1114.4" stroke="#6d6d6d" stroke-width="0.8" opacity="0.85"/>
<line x1="391.3" y1="1133.0" x2="461.7" y2="1150.0" stroke="#a5a5a5" stroke-width="1.0" opacity="0.85"/>
<line x1="336.5" y1="1122.6" x2="334.4" y2="1203.4" stroke="#a5a5a5" stroke-width="0.8" opacity="0.85"/>
<path d="M360 1092 L400 1118 L428 1146" fill="none" stroke="#a9a9a9" stroke-width="2"/>
</g>
<text x="344.00" y="1092.00" font-size="6.5" fill="#fff">D</text>
<text x="344.50" y="1146.50" font-size="5.5" fill="#fff">20 µm</text>
<line x1="345.00" y1="1148.50" x2="362.00" y2="1148.50" stroke="#fff" stroke-width="1.3"/>
</g>
<g id="inset-lig">
<g clip-path="url(#clipLIG)">
<path d="M478.4 997 L536.4 991 C548 994 553.4 1006 553.4 1018.6 C553.4 1032 548 1041 540 1045.4 L499 1054.3 C508 1044 511 1030 508 1016 C505 1006 495 998 478.4 997Z" fill="#f0872c"/>
<path d="M489 998 L532.9 993.6 C540 998 543.6 1008 543.6 1018.6 C543.6 1028 540 1035 535.5 1039 L500.7 1045.4 C504 1038 505.5 1028 505.2 1018.6 C504.5 1009 499 1002 489 998Z" fill="#050505"/>
<path d="M478.4 997 C492 1000 502 1008 502.5 1018.6 C503 1030 500 1038 497 1045 L499 1054.3 L486 1057 C487 1052 484.6 1046 484.6 1040 C488 1034 489 1026 488.2 1018.6 C487 1008 482 1002 474 999Z" fill="#f5943c"/>
<path d="M461 985 L484.6 985 C482 989 479 992 475.7 993.6 C470 996 465 998 461 999Z" fill="#000"/>
<path d="M461 1015 C470 1017 477 1020 481 1024 C485 1027 487.5 1030 488.2 1032.9 C487 1036 485 1038 482.9 1040 C488 1044 494 1047 499 1050.7 L506 1058.8 L461 1059.6 L461 1054 C466 1053 470 1051 472 1049 C468 1047 465 1045 463.2 1043.6 L461 1040Z" fill="#000"/>
<path d="M484 1046 L492 1034 L499 1050Z" fill="#6b3410" opacity="0.85"/>
</g>
<text x="495.70" y="991.40" font-size="7" fill="#111" textLength="35.7" lengthAdjust="spacingAndGlyphs">Polyimide</text>
<text x="522.00" y="1022.60" font-size="8.6" text-anchor="middle" fill="#fff">LIG</text>
<line x1="531.00" y1="1053.00" x2="553.00" y2="1053.00" stroke="#111" stroke-width="1.6"/>
<rect x="460.50" y="1067.60" width="92.80" height="77.80" fill="#1e1e1e"/>
<rect x="460.50" y="1067.60" width="92.80" height="77.80" fill="#fff" filter="url(#semB)"/>
<rect x="460.50" y="1067.60" width="92.80" height="77.80" fill="#000" opacity="0.28"/>
<path d="M476.2 1067.6 L504.2 1108 L553.3 1100.3 M504.2 1108 L489 1145.4" fill="none" stroke="#e03030" stroke-width="0.7"/>
<line x1="521.00" y1="1136.50" x2="545.00" y2="1136.50" stroke="#fff" stroke-width="2"/>
<line x1="458.00" y1="1148.50" x2="512.00" y2="1148.50" stroke="#ddd" stroke-width="0.6"/>
</g>
<g id="inset-cunw">
<path d="M576 996 L676 983 L676 994 L576 1003Z" fill="url(#rainbow)" opacity="0.9"/>
<path d="M596 952 C600 970 590 985 585 990" fill="none" stroke="#d9771e" stroke-width="5.2" stroke-linecap="round"/>
<path d="M596 952 C600 970 590 985 585 990" fill="none" stroke="#f6a646" stroke-width="3.4" stroke-linecap="round"/>
<path d="M585 985 C610 970 640 980 672 960" fill="none" stroke="#d9771e" stroke-width="4.8" stroke-linecap="round"/>
<path d="M585 985 C610 970 640 980 672 960" fill="none" stroke="#f6a646" stroke-width="3.0" stroke-linecap="round"/>
<path d="M644 952 C650 975 620 990 615 1016" fill="none" stroke="#d9771e" stroke-width="4.8" stroke-linecap="round"/>
<path d="M644 952 C650 975 620 990 615 1016" fill="none" stroke="#f6a646" stroke-width="3.0" stroke-linecap="round"/>
<path d="M590 1010 C620 1016 650 995 676 1000" fill="none" stroke="#d9771e" stroke-width="4.6" stroke-linecap="round"/>
<path d="M590 1010 C620 1016 650 995 676 1000" fill="none" stroke="#f6a646" stroke-width="2.8" stroke-linecap="round"/>
<path d="M600 965 C630 975 640 960 665 962" fill="none" stroke="#d9771e" stroke-width="4.2" stroke-linecap="round"/>
<path d="M600 965 C630 975 640 960 665 962" fill="none" stroke="#f6a646" stroke-width="2.4" stroke-linecap="round"/>
<path d="M615 1000 C640 1012 655 1008 668 1016" fill="none" stroke="#d9771e" stroke-width="4.4" stroke-linecap="round"/>
<path d="M615 1000 C640 1012 655 1008 668 1016" fill="none" stroke="#f6a646" stroke-width="2.6" stroke-linecap="round"/>
<path d="M630 975 C640 990 625 1005 630 1016" fill="none" stroke="#d9771e" stroke-width="3.8" stroke-linecap="round"/>
<path d="M630 975 C640 990 625 1005 630 1016" fill="none" stroke="#f6a646" stroke-width="2.0" stroke-linecap="round"/>
<ellipse cx="597" cy="1011" rx="12" ry="4.5" fill="#e8282a" opacity="0.85"/>
<path d="M640 958 L648 968" stroke="#6fb8e8" stroke-width="2"/>
<circle cx="591" cy="955" r="1.3" fill="#222"/>
<circle cx="624" cy="958.5" r="2" fill="#222"/>
<circle cx="634" cy="970.5" r="1.2" fill="#222"/>
<circle cx="619" cy="977" r="1.4" fill="#222"/>
<circle cx="660" cy="968.5" r="3.6" fill="#222"/>
<text x="597.00" y="967.00" font-size="3.6" text-anchor="end" fill="#222">Oligodynamic</text>
<text x="597.00" y="971.50" font-size="3.6" text-anchor="end" fill="#222">effect</text>
<text x="663.00" y="962.50" font-size="3.6" fill="#222">Photocatalytic</text>
<text x="667.00" y="968.00" font-size="3.6" fill="#222">filtration</text>
<text x="657.00" y="992.00" font-size="3.6" fill="#222">High</text>
<text x="646.00" y="997.00" font-size="3.6" fill="#222">transmittance</text>
<text x="587.00" y="1006.00" font-size="3.6" fill="#222">Joule - heating</text>
<rect x="579.40" y="1021.60" width="97.60" height="103.70" fill="#060606"/>
<g clip-path="url(#clipCu)">
<line x1="581.4" y1="1096.2" x2="541.0" y2="1185.8" stroke="#eeeeee" stroke-width="0.7"/>
<line x1="665.0" y1="1074.1" x2="663.8" y2="1152.9" stroke="#d8d8d8" stroke-width="0.6"/>
<line x1="608.2" y1="1083.2" x2="728.8" y2="1109.8" stroke="#bdbdbd" stroke-width="0.7"/>
<line x1="650.2" y1="1064.6" x2="528.6" y2="1066.4" stroke="#eeeeee" stroke-width="1.1"/>
<line x1="564.4" y1="1051.1" x2="565.0" y2="1120.4" stroke="#d8d8d8" stroke-width="0.9"/>
<line x1="580.1" y1="1112.2" x2="704.2" y2="1163.5" stroke="#bdbdbd" stroke-width="1.1"/>
<line x1="631.8" y1="1052.9" x2="635.4" y2="1127.7" stroke="#eeeeee" stroke-width="0.6"/>
<line x1="672.6" y1="1039.4" x2="613.4" y2="1088.2" stroke="#d8d8d8" stroke-width="0.6"/>
<line x1="632.8" y1="1079.9" x2="662.9" y2="1161.8" stroke="#eeeeee" stroke-width="0.7"/>
<line x1="598.0" y1="1129.3" x2="597.6" y2="1214.7" stroke="#eeeeee" stroke-width="1.1"/>
<line x1="594.5" y1="1114.3" x2="697.5" y2="1170.4" stroke="#d8d8d8" stroke-width="1.1"/>
<line x1="623.9" y1="1078.8" x2="569.2" y2="1134.1" stroke="#d8d8d8" stroke-width="0.9"/>
<line x1="583.5" y1="1031.3" x2="645.1" y2="1150.5" stroke="#9c9c9c" stroke-width="0.9"/>
<line x1="591.9" y1="1031.1" x2="520.2" y2="1048.8" stroke="#9c9c9c" stroke-width="1.1"/>
<line x1="580.8" y1="1014.6" x2="573.8" y2="1127.0" stroke="#eeeeee" stroke-width="0.7"/>
<line x1="679.3" y1="1030.4" x2="637.2" y2="1074.7" stroke="#eeeeee" stroke-width="0.9"/>
<line x1="625.8" y1="1093.4" x2="547.7" y2="1109.2" stroke="#eeeeee" stroke-width="0.6"/>
<line x1="664.7" y1="1106.7" x2="671.4" y2="1233.5" stroke="#9c9c9c" stroke-width="0.6"/>
<line x1="645.6" y1="1014.3" x2="710.6" y2="1078.8" stroke="#bdbdbd" stroke-width="0.9"/>
<line x1="687.8" y1="1103.2" x2="693.1" y2="1183.2" stroke="#d8d8d8" stroke-width="1.1"/>
<line x1="683.9" y1="1122.4" x2="713.5" y2="1188.4" stroke="#eeeeee" stroke-width="0.9"/>
<line x1="623.0" y1="1122.8" x2="628.1" y2="1193.7" stroke="#bdbdbd" stroke-width="0.9"/>
<line x1="659.9" y1="1011.3" x2="584.9" y2="1125.1" stroke="#9c9c9c" stroke-width="0.6"/>
<line x1="637.2" y1="1090.5" x2="541.8" y2="1138.4" stroke="#eeeeee" stroke-width="0.9"/>
<line x1="657.7" y1="1111.5" x2="722.4" y2="1141.6" stroke="#d8d8d8" stroke-width="1.1"/>
<line x1="584.3" y1="1090.2" x2="532.8" y2="1131.1" stroke="#9c9c9c" stroke-width="0.6"/>
<line x1="576.4" y1="1077.3" x2="628.6" y2="1162.1" stroke="#bdbdbd" stroke-width="0.7"/>
<line x1="583.6" y1="1117.2" x2="680.0" y2="1187.9" stroke="#d8d8d8" stroke-width="0.6"/>
<line x1="662.8" y1="1011.0" x2="670.2" y2="1075.6" stroke="#bdbdbd" stroke-width="0.7"/>
<line x1="592.9" y1="1097.1" x2="627.9" y2="1149.9" stroke="#bdbdbd" stroke-width="1.1"/>
<line x1="600.2" y1="1122.6" x2="660.4" y2="1202.8" stroke="#d8d8d8" stroke-width="1.1"/>
<line x1="630.9" y1="1017.5" x2="605.7" y2="1099.6" stroke="#9c9c9c" stroke-width="0.9"/>
<line x1="650.9" y1="1075.7" x2="638.6" y2="1139.6" stroke="#bdbdbd" stroke-width="0.9"/>
<line x1="606.2" y1="1049.8" x2="537.6" y2="1051.2" stroke="#d8d8d8" stroke-width="0.6"/>
<line x1="641.5" y1="1111.0" x2="541.3" y2="1118.1" stroke="#eeeeee" stroke-width="0.6"/>
<line x1="621.2" y1="1074.1" x2="560.5" y2="1099.1" stroke="#d8d8d8" stroke-width="0.6"/>
<line x1="646.0" y1="1015.3" x2="715.4" y2="1096.9" stroke="#eeeeee" stroke-width="1.1"/>
<line x1="619.3" y1="1039.6" x2="654.1" y2="1132.2" stroke="#d8d8d8" stroke-width="0.6"/>
<line x1="622.4" y1="1071.5" x2="539.6" y2="1173.3" stroke="#9c9c9c" stroke-width="1.1"/>
<line x1="591.9" y1="1124.6" x2="630.2" y2="1226.8" stroke="#bdbdbd" stroke-width="0.6"/>
<line x1="600.6" y1="1049.0" x2="624.6" y2="1116.5" stroke="#d8d8d8" stroke-width="0.7"/>
<line x1="627.9" y1="1087.5" x2="673.5" y2="1197.9" stroke="#bdbdbd" stroke-width="0.6"/>
<line x1="651.5" y1="1035.7" x2="706.6" y2="1132.5" stroke="#9c9c9c" stroke-width="0.7"/>
<line x1="570.7" y1="1013.6" x2="564.4" y2="1149.0" stroke="#bdbdbd" stroke-width="0.7"/>
<line x1="591.0" y1="1096.0" x2="545.4" y2="1152.5" stroke="#eeeeee" stroke-width="1.1"/>
<line x1="612.2" y1="1067.6" x2="555.7" y2="1166.1" stroke="#9c9c9c" stroke-width="1.1"/>
<line x1="572.9" y1="1131.9" x2="641.5" y2="1187.0" stroke="#d8d8d8" stroke-width="0.9"/>
<line x1="569.7" y1="1082.5" x2="599.7" y2="1173.0" stroke="#bdbdbd" stroke-width="1.1"/>
<line x1="688.8" y1="1127.7" x2="812.0" y2="1189.4" stroke="#eeeeee" stroke-width="0.7"/>
<line x1="608.2" y1="1010.4" x2="699.8" y2="1063.1" stroke="#d8d8d8" stroke-width="1.1"/>
<line x1="600.1" y1="1062.1" x2="525.9" y2="1090.8" stroke="#d8d8d8" stroke-width="1.1"/>
<line x1="645.6" y1="1019.1" x2="671.0" y2="1143.2" stroke="#bdbdbd" stroke-width="0.7"/>
<line x1="567.8" y1="1111.9" x2="531.8" y2="1215.4" stroke="#9c9c9c" stroke-width="1.1"/>
<line x1="579.9" y1="1029.2" x2="648.6" y2="1116.6" stroke="#d8d8d8" stroke-width="0.6"/>
<line x1="646.9" y1="1033.3" x2="767.2" y2="1071.6" stroke="#9c9c9c" stroke-width="0.9"/>
<line x1="605.8" y1="1030.3" x2="584.1" y2="1109.4" stroke="#bdbdbd" stroke-width="1.1"/>
<line x1="564.2" y1="1039.1" x2="598.6" y2="1111.4" stroke="#bdbdbd" stroke-width="0.7"/>
<line x1="654.6" y1="1075.6" x2="777.0" y2="1106.3" stroke="#d8d8d8" stroke-width="0.7"/>
<line x1="654.6" y1="1085.8" x2="609.4" y2="1187.7" stroke="#9c9c9c" stroke-width="0.6"/>
<line x1="624.2" y1="1030.3" x2="513.1" y2="1086.5" stroke="#d8d8d8" stroke-width="0.9"/>
<line x1="588.3" y1="1107.2" x2="490.3" y2="1138.1" stroke="#9c9c9c" stroke-width="0.6"/>
<line x1="610.7" y1="1127.7" x2="489.6" y2="1152.1" stroke="#9c9c9c" stroke-width="0.6"/>
<line x1="582.5" y1="1043.1" x2="672.4" y2="1050.2" stroke="#bdbdbd" stroke-width="0.7"/>
<line x1="681.0" y1="1077.0" x2="609.7" y2="1104.8" stroke="#eeeeee" stroke-width="0.9"/>
<line x1="656.2" y1="1120.3" x2="684.1" y2="1180.8" stroke="#bdbdbd" stroke-width="1.1"/>
<line x1="605.7" y1="1094.0" x2="509.1" y2="1137.1" stroke="#eeeeee" stroke-width="0.6"/>
<line x1="684.1" y1="1104.4" x2="565.0" y2="1110.3" stroke="#bdbdbd" stroke-width="0.6"/>
<line x1="680.6" y1="1075.4" x2="584.9" y2="1108.1" stroke="#bdbdbd" stroke-width="0.6"/>
<line x1="591.2" y1="1063.0" x2="539.1" y2="1173.0" stroke="#bdbdbd" stroke-width="0.7"/>
<line x1="592.9" y1="1063.8" x2="630.0" y2="1155.7" stroke="#d8d8d8" stroke-width="0.9"/>
<line x1="629.9" y1="1067.3" x2="755.0" y2="1081.4" stroke="#9c9c9c" stroke-width="1.1"/>
<line x1="655.8" y1="1101.4" x2="565.6" y2="1103.2" stroke="#d8d8d8" stroke-width="1.1"/>
<line x1="560.5" y1="1093.0" x2="533.6" y2="1195.7" stroke="#bdbdbd" stroke-width="1.1"/>
<line x1="623.2" y1="1118.7" x2="603.0" y2="1238.2" stroke="#d8d8d8" stroke-width="0.6"/>
<line x1="608.2" y1="1113.3" x2="608.2" y2="1210.2" stroke="#eeeeee" stroke-width="1.1"/>
<line x1="637.8" y1="1096.6" x2="528.3" y2="1146.0" stroke="#9c9c9c" stroke-width="0.9"/>
<line x1="655.5" y1="1067.3" x2="777.0" y2="1117.7" stroke="#d8d8d8" stroke-width="0.9"/>
<line x1="657.0" y1="1041.1" x2="767.3" y2="1088.8" stroke="#d8d8d8" stroke-width="0.9"/>
<line x1="648.7" y1="1047.0" x2="708.0" y2="1095.4" stroke="#eeeeee" stroke-width="1.1"/>
<line x1="588.3" y1="1095.8" x2="643.8" y2="1193.1" stroke="#d8d8d8" stroke-width="0.9"/>
<line x1="585.1" y1="1027.6" x2="698.9" y2="1048.5" stroke="#d8d8d8" stroke-width="1.1"/>
<line x1="576.0" y1="1120.1" x2="547.2" y2="1174.6" stroke="#eeeeee" stroke-width="0.7"/>
<line x1="623.4" y1="1077.2" x2="609.0" y2="1170.7" stroke="#9c9c9c" stroke-width="0.6"/>
<line x1="578.5" y1="1060.2" x2="598.2" y2="1170.3" stroke="#eeeeee" stroke-width="0.7"/>
<line x1="662.6" y1="1012.5" x2="620.7" y2="1099.3" stroke="#d8d8d8" stroke-width="0.7"/>
<line x1="604.8" y1="1029.3" x2="686.4" y2="1032.8" stroke="#9c9c9c" stroke-width="0.9"/>
<line x1="588.0" y1="1016.0" x2="648.1" y2="1055.9" stroke="#bdbdbd" stroke-width="0.7"/>
<line x1="588.7" y1="1024.0" x2="581.2" y2="1092.8" stroke="#d8d8d8" stroke-width="1.1"/>
<line x1="658.9" y1="1035.4" x2="598.4" y2="1118.9" stroke="#bdbdbd" stroke-width="0.6"/>
<line x1="588.5" y1="1081.0" x2="656.5" y2="1146.7" stroke="#eeeeee" stroke-width="0.6"/>
<line x1="599.3" y1="1049.8" x2="514.0" y2="1073.6" stroke="#d8d8d8" stroke-width="1.1"/>
<line x1="635.0" y1="1015.8" x2="672.0" y2="1134.7" stroke="#bdbdbd" stroke-width="1.1"/>
<line x1="564.9" y1="1090.1" x2="503.0" y2="1141.6" stroke="#9c9c9c" stroke-width="1.1"/>
<line x1="629.0" y1="1030.5" x2="683.2" y2="1129.8" stroke="#eeeeee" stroke-width="0.9"/>
<line x1="679.1" y1="1046.6" x2="779.0" y2="1084.5" stroke="#9c9c9c" stroke-width="1.1"/>
<line x1="666.7" y1="1027.2" x2="612.3" y2="1092.5" stroke="#d8d8d8" stroke-width="1.1"/>
<line x1="595.1" y1="1094.6" x2="533.9" y2="1113.1" stroke="#d8d8d8" stroke-width="1.1"/>
<line x1="641.6" y1="1069.2" x2="625.9" y2="1156.9" stroke="#d8d8d8" stroke-width="0.7"/>
<line x1="624.3" y1="1048.1" x2="662.4" y2="1112.6" stroke="#eeeeee" stroke-width="0.6"/>
<line x1="625.4" y1="1030.3" x2="682.1" y2="1076.6" stroke="#d8d8d8" stroke-width="0.9"/>
<line x1="646.7" y1="1038.8" x2="603.0" y2="1124.3" stroke="#eeeeee" stroke-width="0.9"/>
<line x1="584.7" y1="1097.6" x2="513.9" y2="1120.9" stroke="#eeeeee" stroke-width="0.9"/>
<line x1="578.6" y1="1056.0" x2="471.7" y2="1089.8" stroke="#d8d8d8" stroke-width="0.9"/>
<line x1="674.3" y1="1040.8" x2="588.1" y2="1041.6" stroke="#bdbdbd" stroke-width="1.1"/>
<line x1="653.8" y1="1013.5" x2="621.5" y2="1142.8" stroke="#bdbdbd" stroke-width="0.7"/>
<line x1="662.7" y1="1119.0" x2="543.8" y2="1160.3" stroke="#eeeeee" stroke-width="0.7"/>
<line x1="644.6" y1="1093.2" x2="702.3" y2="1138.5" stroke="#eeeeee" stroke-width="1.1"/>
<line x1="646.3" y1="1046.9" x2="729.8" y2="1082.8" stroke="#d8d8d8" stroke-width="0.7"/>
<line x1="658.1" y1="1030.7" x2="750.0" y2="1064.2" stroke="#9c9c9c" stroke-width="0.6"/>
<line x1="574.5" y1="1073.8" x2="631.7" y2="1150.4" stroke="#eeeeee" stroke-width="0.9"/>
<line x1="659.7" y1="1128.9" x2="645.8" y2="1210.0" stroke="#eeeeee" stroke-width="0.6"/>
<line x1="668.5" y1="1132.4" x2="744.6" y2="1211.9" stroke="#9c9c9c" stroke-width="0.9"/>
<line x1="670.0" y1="1026.9" x2="733.1" y2="1146.1" stroke="#bdbdbd" stroke-width="0.9"/>
<line x1="642.2" y1="1112.3" x2="720.8" y2="1206.5" stroke="#9c9c9c" stroke-width="0.6"/>
<line x1="565.6" y1="1108.6" x2="508.3" y2="1191.1" stroke="#d8d8d8" stroke-width="0.6"/>
<line x1="582.6" y1="1081.6" x2="560.9" y2="1207.8" stroke="#bdbdbd" stroke-width="0.9"/>
<line x1="639.0" y1="1034.8" x2="740.3" y2="1096.4" stroke="#9c9c9c" stroke-width="1.1"/>
<line x1="602.4" y1="1100.9" x2="646.5" y2="1216.4" stroke="#d8d8d8" stroke-width="0.9"/>
<line x1="591.7" y1="1050.1" x2="646.4" y2="1127.5" stroke="#d8d8d8" stroke-width="0.7"/>
<line x1="640.3" y1="1122.5" x2="653.5" y2="1238.7" stroke="#bdbdbd" stroke-width="0.7"/>
<line x1="653.5" y1="1064.8" x2="742.9" y2="1079.0" stroke="#d8d8d8" stroke-width="1.1"/>
<line x1="677.2" y1="1079.4" x2="548.6" y2="1119.2" stroke="#d8d8d8" stroke-width="0.6"/>
<line x1="653.9" y1="1013.9" x2="694.1" y2="1072.8" stroke="#d8d8d8" stroke-width="0.6"/>
<line x1="673.3" y1="1133.3" x2="606.6" y2="1141.8" stroke="#9c9c9c" stroke-width="1.1"/>
<line x1="687.9" y1="1117.9" x2="610.0" y2="1179.2" stroke="#bdbdbd" stroke-width="0.9"/>
<line x1="633.5" y1="1089.9" x2="549.7" y2="1097.3" stroke="#bdbdbd" stroke-width="0.7"/>
<line x1="679.4" y1="1091.7" x2="657.3" y2="1211.2" stroke="#d8d8d8" stroke-width="1.1"/>
<line x1="607.9" y1="1073.8" x2="500.8" y2="1104.4" stroke="#eeeeee" stroke-width="0.7"/>
<line x1="604.4" y1="1046.4" x2="506.2" y2="1101.6" stroke="#9c9c9c" stroke-width="1.1"/>
<line x1="660.3" y1="1095.7" x2="720.2" y2="1187.1" stroke="#eeeeee" stroke-width="1.1"/>
</g>
<rect x="579.40" y="1021.60" width="97.60" height="103.70" fill="none" stroke="#e84040" stroke-width="0.8" stroke-dasharray="1 1"/>
<rect x="655.00" y="1116.00" width="12.00" height="2.40" fill="#fff"/>
</g>
<g id="inset-pan">
<rect x="707.30" y="936.40" width="75.60" height="54.50" fill="#fbdac6"/>
<rect x="716.00" y="945.50" width="62.00" height="3.00" fill="#d9d9de"/>
<rect x="716.00" y="961.00" width="62.00" height="3.00" fill="#d9d9de"/>
<rect x="716.00" y="973.00" width="62.00" height="3.00" fill="#d9d9de"/>
<path d="M722 980l3-10 3 0 -2 10z M760 980l-3-10 3 0 3 10z" fill="#e4e4ea"/>
<g stroke="#e8382a" stroke-width="0.55" fill="none">
<path d="M727.0 942 L718.0 978"/>
<path d="M730.2 942 L722.5 978"/>
<path d="M733.4 942 L727.0 978"/>
<path d="M736.6 942 L731.5 978"/>
<path d="M739.8 942 L736.0 978"/>
<path d="M743.0 942 L740.5 978"/>
<path d="M746.2 942 L745.0 978"/>
<path d="M749.4 942 L749.5 978"/>
<path d="M752.6 942 L754.0 978"/>
<path d="M755.8 942 L758.5 978"/>
<path d="M759.0 942 L763.0 978"/>
<path d="M762.2 942 L767.5 978"/>
<path d="M765.4 942 L772.0 978"/>
<path d="M768.6 942 L776.5 978"/>
<path d="M771.8 942 L781.0 978"/>
<path d="M724.0 943.0 L772.0 943.0"/>
<path d="M723.0 946.7 L773.0 946.7"/>
<path d="M722.0 950.4 L774.0 950.4"/>
<path d="M721.0 954.1 L775.0 954.1"/>
<path d="M720.0 957.8 L776.0 957.8"/>
<path d="M719.0 961.5 L777.0 961.5"/>
<path d="M718.0 965.2 L778.0 965.2"/>
<path d="M717.0 968.9 L779.0 968.9"/>
<path d="M716.0 972.6 L780.0 972.6"/>
<path d="M715.0 976.3 L781.0 976.3"/>
<path d="M724.0 944 l2.4 3.6 M725.0 956 l-2.4 3.6 M724.0 968 l2.4 3.6"/>
<path d="M727.6 944 l2.4 3.6 M728.6 956 l-2.4 3.6 M727.6 968 l2.4 3.6"/>
<path d="M731.2 944 l2.4 3.6 M732.2 956 l-2.4 3.6 M731.2 968 l2.4 3.6"/>
<path d="M734.8 944 l2.4 3.6 M735.8 956 l-2.4 3.6 M734.8 968 l2.4 3.6"/>
<path d="M738.4 944 l2.4 3.6 M739.4 956 l-2.4 3.6 M738.4 968 l2.4 3.6"/>
<path d="M742.0 944 l2.4 3.6 M743.0 956 l-2.4 3.6 M742.0 968 l2.4 3.6"/>
<path d="M745.6 944 l2.4 3.6 M746.6 956 l-2.4 3.6 M745.6 968 l2.4 3.6"/>
<path d="M749.2 944 l2.4 3.6 M750.2 956 l-2.4 3.6 M749.2 968 l2.4 3.6"/>
<path d="M752.8 944 l2.4 3.6 M753.8 956 l-2.4 3.6 M752.8 968 l2.4 3.6"/>
<path d="M756.4 944 l2.4 3.6 M757.4 956 l-2.4 3.6 M756.4 968 l2.4 3.6"/>
<path d="M760.0 944 l2.4 3.6 M761.0 956 l-2.4 3.6 M760.0 968 l2.4 3.6"/>
<path d="M763.6 944 l2.4 3.6 M764.6 956 l-2.4 3.6 M763.6 968 l2.4 3.6"/>
<path d="M767.2 944 l2.4 3.6 M768.2 956 l-2.4 3.6 M767.2 968 l2.4 3.6"/>
<path d="M770.8 944 l2.4 3.6 M771.8 956 l-2.4 3.6 M770.8 968 l2.4 3.6"/>
</g>
<path d="M746 938 L728 976" stroke="#f2c030" stroke-width="0.8"/><path d="M709 938 L716 944" stroke="#e8382a" stroke-width="0.5" stroke-dasharray="1 0.6"/>
<rect x="733" y="945.5" width="8" height="3" rx="1.5" fill="#1f5fb8" transform="rotate(25 737 947)"/><ellipse cx="755" cy="956.5" rx="2" ry="2.6" fill="#1f6fc8"/>
<text x="739.00" y="984.00" font-size="2.8" text-anchor="middle" fill="#555" font-weight="normal">Tetra-needle</text>
<rect x="713.00" y="987.00" width="9.50" height="2.00" fill="#c9c9d2"/>
<text x="724.00" y="989.60" font-size="2.6" fill="#555" font-weight="normal">PAN nanofiber</text>
<path d="M746 986l5 4M751 986l-5 4" stroke="#e8382a" stroke-width="1"/>
<text x="756.00" y="989.60" font-size="2.6" fill="#222">CNT/ZnO</text>
</g>
<rect x="110.55" y="1181.42" width="83.40" height="4.18" fill="#6F9BB1" stroke="#2e3b44" stroke-width="0.9"/>
<rect x="229.05" y="1170.56" width="83.40" height="15.04" fill="#6F9BB1" stroke="#2e3b44" stroke-width="0.9"/>
<rect x="347.55" y="1168.24" width="83.40" height="17.36" fill="#6F9BB1" stroke="#2e3b44" stroke-width="0.9"/>
<rect x="466.05" y="1160.09" width="83.40" height="25.51" fill="#6F9BB1" stroke="#2e3b44" stroke-width="0.9"/>
<rect x="584.55" y="1133.33" width="83.40" height="52.27" fill="#6F9BB1" stroke="#2e3b44" stroke-width="0.9"/>
<rect x="703.05" y="991.79" width="83.40" height="193.81" fill="#6F9BB1" stroke="#2e3b44" stroke-width="0.9"/>
<rect x="821.55" y="960.76" width="83.40" height="224.84" fill="#6F9BB1" stroke="#2e3b44" stroke-width="0.9"/>
<rect x="93.00" y="933.00" width="830.10" height="252.60" fill="none" stroke="#333" stroke-width="3.4"/>
<text x="53.70" y="1189.70" font-size="12.4" textLength="28.2" lengthAdjust="spacingAndGlyphs">0.00</text>
<line x1="93.00" y1="1146.52" x2="102.00" y2="1146.52" stroke="#333" stroke-width="3.1"/>
<text x="53.70" y="1150.92" font-size="12.4" textLength="28.2" lengthAdjust="spacingAndGlyphs">0.01</text>
<line x1="93.00" y1="1107.74" x2="102.00" y2="1107.74" stroke="#333" stroke-width="3.1"/>
<text x="53.70" y="1112.14" font-size="12.4" textLength="28.2" lengthAdjust="spacingAndGlyphs">0.02</text>
<line x1="93.00" y1="1068.96" x2="102.00" y2="1068.96" stroke="#333" stroke-width="3.1"/>
<text x="53.70" y="1073.36" font-size="12.4" textLength="28.2" lengthAdjust="spacingAndGlyphs">0.03</text>
<line x1="93.00" y1="1030.18" x2="102.00" y2="1030.18" stroke="#333" stroke-width="3.1"/>
<text x="53.70" y="1034.58" font-size="12.4" textLength="28.2" lengthAdjust="spacingAndGlyphs">0.04</text>
<line x1="93.00" y1="991.40" x2="102.00" y2="991.40" stroke="#333" stroke-width="3.1"/>
<text x="53.70" y="995.80" font-size="12.4" textLength="28.2" lengthAdjust="spacingAndGlyphs">0.05</text>
<line x1="93.00" y1="952.62" x2="102.00" y2="952.62" stroke="#333" stroke-width="3.1"/>
<text x="53.70" y="957.02" font-size="12.4" textLength="28.2" lengthAdjust="spacingAndGlyphs">0.06</text>
<line x1="152.25" y1="1185.60" x2="152.25" y2="1178.10" stroke="#333" stroke-width="3"/>
<line x1="270.75" y1="1185.60" x2="270.75" y2="1178.10" stroke="#333" stroke-width="3"/>
<line x1="389.25" y1="1185.60" x2="389.25" y2="1178.10" stroke="#333" stroke-width="3"/>
<line x1="507.75" y1="1185.60" x2="507.75" y2="1178.10" stroke="#333" stroke-width="3"/>
<line x1="626.25" y1="1185.60" x2="626.25" y2="1178.10" stroke="#333" stroke-width="3"/>
<line x1="744.75" y1="1185.60" x2="744.75" y2="1178.10" stroke="#333" stroke-width="3"/>
<line x1="863.25" y1="1185.60" x2="863.25" y2="1178.10" stroke="#333" stroke-width="3"/>
<text transform="translate(180.4 1197.2) rotate(-22.8)" font-size="19.2" text-anchor="end">Cu@PAN NFs</text>
<text transform="translate(298.9 1197.2) rotate(-22.8)" font-size="19.2" text-anchor="end">CNT aerogel</text>
<text transform="translate(417.4 1197.2) rotate(-22.8)" font-size="19.2" text-anchor="end">GeFM</text>
<text transform="translate(536.0 1197.2) rotate(-22.8)" font-size="19.2" text-anchor="end">LIG</text>
<text transform="translate(654.5 1197.2) rotate(-22.8)" font-size="19.2" text-anchor="end">Copper NWs</text>
<text transform="translate(773.0 1197.2) rotate(-22.8)" font-size="19.2" text-anchor="end">PAN NFs/CNT</text>
<text transform="translate(891.5 1197.2) rotate(-22.8)" font-size="19.2" text-anchor="end">Our work</text>
<text transform="translate(43.2 1062.5) rotate(-90)" font-family="'Liberation Serif', serif" font-size="31" text-anchor="middle" textLength="105" lengthAdjust="spacingAndGlyphs">QF (Pa<tspan dy="-11" font-size="28">-1</tspan><tspan dy="11" font-size="31">)</tspan></text>
<g id="inset-our">
<path d="M823 919.5 L879.3 908.8 L917 935.5 L903 940 L843.6 950Z" fill="url(#mesh)" stroke="#3a1c16" stroke-width="1.2" stroke-linejoin="round"/>
<path d="M878 936 C894 944 894 956 880 965 C868 972 858 975 850 979" fill="none" stroke="#2a1a18" stroke-width="5.2" stroke-linecap="round"/>
<path d="M878 936 C894 944 894 956 880 965 C868 972 858 975 850 979" fill="none" stroke="#d8301f" stroke-width="2.8" stroke-dasharray="2.6 2.4"/>
<path d="M853 964 L862 969 M884 969 L876 966" stroke="#2a1a18" stroke-width="1.6"/>
<path d="M846 977 l8 -3 2 6 -9 4z" fill="#7fa8bd" stroke="#3d5a6a" stroke-width="0.6"/>
</g>
</g>
<g id="panel-f">
<text x="957.00" y="906.00" font-size="48">f</text>
<line x1="1036.75" y1="910.00" x2="1036.75" y2="1183.00" stroke="#000" stroke-width="1.5"/>
<line x1="1395.40" y1="910.00" x2="1395.40" y2="1183.00" stroke="#000" stroke-width="1.5"/>
<line x1="1036.75" y1="910.00" x2="1143.00" y2="910.00" stroke="#000" stroke-width="1.5"/>
<line x1="1148.00" y1="910.00" x2="1270.00" y2="910.00" stroke="#000" stroke-width="1.5"/>
<line x1="1275.00" y1="910.00" x2="1395.40" y2="910.00" stroke="#000" stroke-width="1.5"/>
<line x1="1140.80" y1="915.50" x2="1145.20" y2="904.50" stroke="#000" stroke-width="1.2"/>
<line x1="1145.80" y1="915.50" x2="1150.20" y2="904.50" stroke="#000" stroke-width="1.2"/>
<line x1="1267.80" y1="915.50" x2="1272.20" y2="904.50" stroke="#000" stroke-width="1.2"/>
<line x1="1272.80" y1="915.50" x2="1277.20" y2="904.50" stroke="#000" stroke-width="1.2"/>
<line x1="1036.75" y1="1183.00" x2="1143.00" y2="1183.00" stroke="#000" stroke-width="1.5"/>
<line x1="1148.00" y1="1183.00" x2="1270.00" y2="1183.00" stroke="#000" stroke-width="1.5"/>
<line x1="1275.00" y1="1183.00" x2="1395.40" y2="1183.00" stroke="#000" stroke-width="1.5"/>
<line x1="1140.80" y1="1188.50" x2="1145.20" y2="1177.50" stroke="#000" stroke-width="1.2"/>
<line x1="1145.80" y1="1188.50" x2="1150.20" y2="1177.50" stroke="#000" stroke-width="1.2"/>
<line x1="1267.80" y1="1188.50" x2="1272.20" y2="1177.50" stroke="#000" stroke-width="1.2"/>
<line x1="1272.80" y1="1188.50" x2="1277.20" y2="1177.50" stroke="#000" stroke-width="1.2"/>
<line x1="1036.75" y1="1168.80" x2="1041.35" y2="1168.80" stroke="#000" stroke-width="1.5"/>
<text x="1029.55" y="1174.00" font-size="14.7" text-anchor="end">65</text>
<line x1="1036.75" y1="1136.40" x2="1041.35" y2="1136.40" stroke="#000" stroke-width="1.5"/>
<text x="1029.55" y="1141.60" font-size="14.7" text-anchor="end">70</text>
<line x1="1036.75" y1="1104.00" x2="1041.35" y2="1104.00" stroke="#000" stroke-width="1.5"/>
<text x="1029.55" y="1109.20" font-size="14.7" text-anchor="end">75</text>
<line x1="1036.75" y1="1071.60" x2="1041.35" y2="1071.60" stroke="#000" stroke-width="1.5"/>
<text x="1029.55" y="1076.80" font-size="14.7" text-anchor="end">80</text>
<line x1="1036.75" y1="1039.20" x2="1041.35" y2="1039.20" stroke="#000" stroke-width="1.5"/>
<text x="1029.55" y="1044.40" font-size="14.7" text-anchor="end">85</text>
<line x1="1036.75" y1="1006.80" x2="1041.35" y2="1006.80" stroke="#000" stroke-width="1.5"/>
<text x="1029.55" y="1012.00" font-size="14.7" text-anchor="end">90</text>
<line x1="1036.75" y1="974.40" x2="1041.35" y2="974.40" stroke="#000" stroke-width="1.5"/>
<text x="1029.55" y="979.60" font-size="14.7" text-anchor="end">95</text>
<line x1="1036.75" y1="942.00" x2="1041.35" y2="942.00" stroke="#000" stroke-width="1.5"/>
<text x="1029.55" y="947.20" font-size="14.7" text-anchor="end">100</text>
<text x="1029.55" y="914.80" font-size="14.7" text-anchor="end">105</text>
<line x1="1036.75" y1="1152.60" x2="1039.15" y2="1152.60" stroke="#000" stroke-width="1.5"/>
<line x1="1036.75" y1="1120.20" x2="1039.15" y2="1120.20" stroke="#000" stroke-width="1.5"/>
<line x1="1036.75" y1="1087.80" x2="1039.15" y2="1087.80" stroke="#000" stroke-width="1.5"/>
<line x1="1036.75" y1="1055.40" x2="1039.15" y2="1055.40" stroke="#000" stroke-width="1.5"/>
<line x1="1036.75" y1="1023.00" x2="1039.15" y2="1023.00" stroke="#000" stroke-width="1.5"/>
<line x1="1036.75" y1="990.60" x2="1039.15" y2="990.60" stroke="#000" stroke-width="1.5"/>
<line x1="1036.75" y1="958.20" x2="1039.15" y2="958.20" stroke="#000" stroke-width="1.5"/>
<line x1="1036.75" y1="925.80" x2="1039.15" y2="925.80" stroke="#000" stroke-width="1.5"/>
<text x="1036.75" y="1200.00" font-size="14.7" text-anchor="middle">0</text>
<line x1="1067.50" y1="1183.00" x2="1067.50" y2="1177.50" stroke="#000" stroke-width="1.5"/>
<text x="1067.50" y="1200.00" font-size="14.7" text-anchor="middle">100</text>
<line x1="1097.20" y1="1183.00" x2="1097.20" y2="1177.50" stroke="#000" stroke-width="1.5"/>
<text x="1097.20" y="1200.00" font-size="14.7" text-anchor="middle">200</text>
<line x1="1127.00" y1="1183.00" x2="1127.00" y2="1177.50" stroke="#000" stroke-width="1.5"/>
<text x="1127.00" y="1200.00" font-size="14.7" text-anchor="middle">300</text>
<line x1="1208.80" y1="1183.00" x2="1208.80" y2="1177.50" stroke="#000" stroke-width="1.5"/>
<text x="1208.80" y="1200.00" font-size="14.7" text-anchor="middle">1800</text>
<line x1="1306.00" y1="1183.00" x2="1306.00" y2="1177.50" stroke="#000" stroke-width="1.5"/>
<text x="1306.00" y="1200.00" font-size="14.7" text-anchor="middle">2700</text>
<text x="1395.40" y="1200.00" font-size="14.7" text-anchor="middle">3000</text>
<line x1="1052.00" y1="1183.00" x2="1052.00" y2="1180.00" stroke="#000" stroke-width="1.5"/>
<line x1="1082.30" y1="1183.00" x2="1082.30" y2="1180.00" stroke="#000" stroke-width="1.5"/>
<line x1="1112.00" y1="1183.00" x2="1112.00" y2="1180.00" stroke="#000" stroke-width="1.5"/>
<line x1="1177.00" y1="1183.00" x2="1177.00" y2="1180.00" stroke="#000" stroke-width="1.5"/>
<line x1="1240.50" y1="1183.00" x2="1240.50" y2="1180.00" stroke="#000" stroke-width="1.5"/>
<line x1="1350.70" y1="1183.00" x2="1350.70" y2="1180.00" stroke="#000" stroke-width="1.5"/>
<polygon points="1059.45,938.38 1073.05,938.38 1066.25,949.94" fill="#A3B1F2"/>
<polygon points="1080.20,939.88 1093.80,939.88 1087.00,951.44" fill="#A3B1F2"/>
<polygon points="1070.20,963.38 1083.80,963.38 1077.00,974.94" fill="#A3B1F2"/>
<polygon points="1051.45,978.37 1065.05,978.37 1058.25,966.81" fill="#6FA377"/>
<polygon points="1052.95,1010.37 1066.55,1010.37 1059.75,998.81" fill="#6FA377"/>
<polygon points="1053.95,1025.37 1067.55,1025.37 1060.75,1013.81" fill="#6FA377"/>
<polygon points="1057.45,1049.62 1071.05,1049.62 1064.25,1038.06" fill="#6FA377"/>
<polygon points="1075.45,1043.12 1089.05,1043.12 1082.25,1031.56" fill="#6FA377"/>
<polygon points="1077.45,965.87 1091.05,965.87 1084.25,954.31" fill="#6FA377"/>
<polygon points="1060.70,1140.37 1074.30,1140.37 1067.50,1128.81" fill="#6FA377"/>
<rect x="1071.95" y="937.95" width="9.60" height="9.60" fill="#F2C463"/>
<rect x="1122.45" y="1028.20" width="9.60" height="9.60" fill="#F2C463"/>
<rect x="1247.70" y="937.95" width="9.60" height="9.60" fill="#F2C463"/>
<rect x="1315.50" y="980.20" width="9.60" height="9.60" fill="#F2C463"/>
<rect x="1057.70" y="1142.70" width="9.60" height="9.60" fill="#F2C463"/>
<polygon points="1060.00,939.00 1062.70,946.78 1070.94,946.95 1064.37,951.92 1066.76,959.80 1060.00,955.10 1053.24,959.80 1055.63,951.92 1049.06,946.95 1057.30,946.78" fill="#C0392B"/>
<polygon points="1131.20,1106.62 1144.80,1106.62 1138.00,1095.06" fill="#6FA377"/>
<polygon points="1131.20,1118.88 1144.80,1118.88 1138.00,1130.44" fill="#A3B1F2"/>
<rect x="1133.20" y="1140.20" width="9.60" height="9.60" fill="#F2C463"/>
<polygon points="1138.00,1155.50 1140.47,1162.60 1147.99,1162.76 1141.99,1167.30 1144.17,1174.49 1138.00,1170.20 1131.83,1174.49 1134.01,1167.30 1128.01,1162.76 1135.53,1162.60" fill="#C0392B"/>
<text x="1161.50" y="1108.00" font-size="16.7">Electrospun hybrid filters</text>
<text x="1161.50" y="1129.70" font-size="16.7" textLength="230.3" lengthAdjust="spacingAndGlyphs">Electrospun multilayer filters</text>
<text x="1161.50" y="1150.80" font-size="16.7">Electrothermal filters</text>
<text x="1161.50" y="1171.70" font-size="16.7">Our Work</text>
<text transform="translate(995.00 1045.50) rotate(-90)" font-size="23" text-anchor="middle" textLength="254.0" lengthAdjust="spacingAndGlyphs">Filtration efficiency (%)</text>
<text x="1112.60" y="1232.70" font-size="23" textLength="206.5" lengthAdjust="spacingAndGlyphs">Pressure drop (Pa)</text>
</g>
</svg>
</body></html>
